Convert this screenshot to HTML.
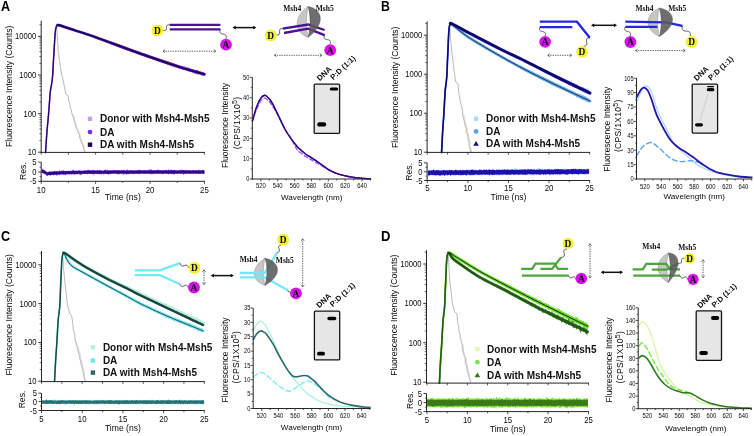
<!DOCTYPE html>
<html><head><meta charset="utf-8"><style>
html,body{margin:0;padding:0;background:#fff;}
svg{display:block;}
svg{will-change:transform;}
</style></head><body>
<svg width="754" height="436" viewBox="0 0 754 436">
<defs><filter id="bl" x="-30%" y="-60%" width="160%" height="220%"><feGaussianBlur stdDeviation="0.45"/></filter></defs>
<rect width="754" height="436" fill="#fff"/>
<text x="0.9" y="10.6" font-size="14" font-weight="bold" text-anchor="start" font-family="'Liberation Sans', sans-serif" fill="#000" textLength="9.1" lengthAdjust="spacingAndGlyphs">A</text>
<polyline points="56.6,25.59 56.75,28.14 56.9,30.69 57.06,33.23 57.21,35.78 57.36,38.33 57.54,40.88 57.71,43.43 57.88,45.97 58.06,48.52 58.23,51.07 58.54,53.38 58.86,55.7 59.17,58.02 59.48,60.33 59.8,62.65 60.11,64.96 60.42,67.28 60.73,69.6 61.24,71.91 61.75,74.23 62.26,76.54 62.77,78.86 63.27,81.18 63.78,83.49 64.3,86.19 64.81,88.9 65.33,91.6 65.85,94.3 68.13,95.84 68.44,98.16 68.74,100.48 69.66,102.79 69.98,105.11 70.21,107.42 71.25,109.74 71.71,112.06 72.05,114.37 73.07,116.69 73.68,119 74.05,121.32 75.18,123.64 75.63,125.95 76.43,128.27 77.51,130.58 78.36,132.9 79.42,135.22 79.54,137.53 80.4,139.85 81.41,142.16 82.28,144.48 83.33,146.8 83.76,149.11 84.45,151.43 85.11,152.59" fill="none" stroke="#aaaaaa" stroke-width="0.85" stroke-linejoin="round" stroke-linecap="round"/>
<polyline points="72.89,114.37 74.26,116.69 74.31,119 75.16,121.32 75.96,123.64 76.32,125.95 77.1,128.27 78.3,130.58 79.45,132.9 80.12,135.22 80.49,137.53 81.38,139.85 82.23,142.16 83.21,144.48 83.97,146.8 84.4,149.11 85.18,151.43 86.11,152.59" fill="none" stroke="#c4c4c4" stroke-width="0.7" stroke-linejoin="round" stroke-linecap="round"/>
<path d="M45.5,152.6 C45.75,149 46.5,137.28 47,131.02 C47.5,124.75 47.95,121.5 48.5,115 C49.05,108.5 49.78,97.16 50.3,91.99 C50.82,86.83 51.22,86.67 51.61,84 C51.99,81.34 52.28,80.01 52.6,76.01 C52.91,72.01 53.2,65.16 53.5,59.99 C53.8,54.83 54.12,49.51 54.4,45.02 C54.68,40.52 54.9,36.02 55.2,33.01 C55.49,30.01 55.8,28.31 56.2,26.99 C56.6,25.67 57.05,25.38 57.6,25.1 C58.15,24.82 59.18,25.27 59.5,25.3" fill="none" stroke="#c4a4f2" stroke-width="1.68" stroke-linejoin="round" stroke-linecap="round"/>
<polygon points="110,41.01 110.7,41.26 111.4,41.52 112.1,41.78 112.8,42.03 113.5,42.28 114.2,42.54 114.9,42.8 115.6,43.06 116.3,43.32 117,43.56 117.7,43.79 118.4,44.08 119.1,44.32 119.8,44.55 120.5,44.83 121.2,45.11 121.9,45.36 122.6,45.55 123.3,45.88 124,46.15 124.7,46.38 125.4,46.65 126.1,46.92 126.8,47.18 127.5,47.42 128.2,47.61 128.9,47.85 129.6,48.17 130.3,48.4 131,48.57 131.7,48.95 132.4,49.23 133.1,49.37 133.8,49.75 134.5,49.92 135.2,50.03 135.9,50.48 136.6,50.66 137.3,50.81 138,51.23 138.7,51.48 139.4,51.71 140.1,51.96 140.8,52.15 141.5,52.41 142.2,52.71 142.9,52.92 143.6,53.17 144.3,53.29 145,53.61 145.7,53.83 146.4,53.93 147.1,54.21 147.8,54.57 148.5,54.75 149.2,55.09 149.9,55.34 150.6,55.38 151.3,55.7 152,55.85 152.7,55.94 153.4,56.51 154.1,56.72 154.8,57 155.5,57.24 156.2,57.45 156.9,57.34 157.6,57.86 158.3,58.23 159,58.27 159.7,58.66 160.4,58.93 161.1,58.99 161.8,58.9 162.5,59.07 163.2,59.8 163.9,60.14 164.6,60.3 165.3,60.23 166,60.49 166.7,61.09 167.4,61.04 168.1,61.51 168.8,61.66 169.5,62.02 170.2,62.08 170.9,62.32 171.6,62.35 172.3,62.97 173,62.89 173.7,63.46 174.4,63.35 175.1,63.84 175.8,64.08 176.5,63.61 177.2,64.48 177.9,64.63 178.6,64.75 179.3,65.33 180,65.53 180.7,65.57 181.4,65.85 182.1,65.94 182.8,65.96 183.5,66.32 184.2,66.46 184.9,66.6 185.6,66.84 186.3,67.45 187,67.59 187.7,67.25 188.4,67.75 189.1,67.77 189.8,68.45 190.5,68.41 191.2,68.78 191.9,68.57 192.6,69.26 193.3,68.97 194,69.21 194.7,69.77 195.4,69.65 196.1,69.7 196.8,69.79 197.5,70.73 198.2,70.14 198.9,71.02 199.6,71.21 200.3,71.58 201,71.39 201.7,71.78 202.4,72.06 203.1,71.78 203.8,72.28 203.8,75.69 203.1,76.21 202.4,75.91 201.7,75.17 201,75.53 200.3,74.77 199.6,74.45 198.9,74.36 198.2,74.28 197.5,74.35 196.8,74.31 196.1,73.6 195.4,73.25 194.7,73.39 194,72.75 193.3,72.73 192.6,73.26 191.9,72.14 191.2,72.61 190.5,71.81 189.8,71.68 189.1,71.35 188.4,71.2 187.7,70.98 187,70.9 186.3,70.49 185.6,70.3 184.9,70.14 184.2,70.06 183.5,69.85 182.8,69.55 182.1,69.4 181.4,69.11 180.7,68.95 180,68.85 179.3,68.65 178.6,68.65 177.9,68.11 177.2,68.05 176.5,67.56 175.8,67.29 175.1,67.25 174.4,67.55 173.7,66.69 173,66.82 172.3,66.18 171.6,65.96 170.9,65.74 170.2,66.06 169.5,65.33 168.8,64.87 168.1,65.06 167.4,64.87 166.7,64.23 166,63.93 165.3,63.94 164.6,63.75 163.9,63.33 163.2,63.05 162.5,62.73 161.8,62.63 161.1,62.76 160.4,62.14 159.7,61.73 159,61.5 158.3,61.4 157.6,61.38 156.9,60.8 156.2,60.9 155.5,60.46 154.8,60.29 154.1,59.89 153.4,59.7 152.7,59.37 152,59.12 151.3,59.02 150.6,58.66 149.9,58.39 149.2,58.44 148.5,57.97 147.8,57.64 147.1,57.4 146.4,57.37 145.7,57.04 145,56.77 144.3,56.58 143.6,56.22 142.9,56.01 142.2,55.72 141.5,55.58 140.8,55.27 140.1,55.03 139.4,54.79 138.7,54.63 138,54.51 137.3,54.11 136.6,53.89 135.9,53.64 135.2,53.37 134.5,53.05 133.8,52.76 133.1,52.51 132.4,52.3 131.7,52.02 131,51.86 130.3,51.5 129.6,51.25 128.9,51.04 128.2,50.72 127.5,50.46 126.8,50.24 126.1,49.95 125.4,49.68 124.7,49.42 124,49.16 123.3,48.94 122.6,48.64 121.9,48.44 121.2,48.13 120.5,47.88 119.8,47.62 119.1,47.37 118.4,47.13 117.7,46.86 117,46.61 116.3,46.32 115.6,46.07 114.9,45.82 114.2,45.58 113.5,45.3 112.8,45.04 112.1,44.78 111.4,44.53 110.7,44.26 110,44.01" fill="#c4a4f2"/>
<path d="M57.6,25.1 C57.92,25.13 57.43,24.68 59.5,25.3 C61.57,25.92 63.9,26.78 70,28.8 C76.1,30.82 84.9,33.45 96.1,37.4 C107.3,41.35 123.5,47.63 137.2,52.5 C150.9,57.37 167.1,62.97 178.3,66.6 C189.5,70.23 200.05,73.02 204.4,74.3" fill="none" stroke="#c4a4f2" stroke-width="3" stroke-linejoin="round" stroke-linecap="round"/>
<path d="M45.5,152.6 C45.75,149 46.5,137.28 47,131.02 C47.5,124.75 47.95,121.5 48.5,115 C49.05,108.5 49.78,97.16 50.3,91.99 C50.82,86.83 51.22,86.67 51.61,84 C51.99,81.34 52.28,80.01 52.6,76.01 C52.91,72.01 53.2,65.16 53.5,59.99 C53.8,54.83 54.12,49.51 54.4,45.02 C54.68,40.52 54.9,36.02 55.2,33.01 C55.49,30.01 55.8,28.31 56.2,26.99 C56.6,25.67 57.05,25.38 57.6,25.1 C58.15,24.82 59.18,25.27 59.5,25.3" fill="none" stroke="#7a28ec" stroke-width="1.44" stroke-linejoin="round" stroke-linecap="round"/>
<polygon points="110,41.21 110.7,41.46 111.4,41.72 112.1,41.97 112.8,42.23 113.5,42.49 114.2,42.74 114.9,43 115.6,43.25 116.3,43.52 117,43.74 117.7,44.03 118.4,44.29 119.1,44.55 119.8,44.79 120.5,45.01 121.2,45.32 121.9,45.54 122.6,45.83 123.3,46.03 124,46.33 124.7,46.54 125.4,46.86 126.1,47.11 126.8,47.34 127.5,47.6 128.2,47.85 128.9,48.1 129.6,48.41 130.3,48.65 131,48.9 131.7,49.14 132.4,49.41 133.1,49.66 133.8,49.89 134.5,50.06 135.2,50.41 135.9,50.5 136.6,50.84 137.3,51.13 138,51.42 138.7,51.55 139.4,51.85 140.1,52.11 140.8,52.36 141.5,52.65 142.2,52.88 142.9,53.15 143.6,53.37 144.3,53.49 145,53.82 145.7,54.11 146.4,54.27 147.1,54.49 147.8,54.45 148.5,54.97 149.2,55.19 149.9,55.55 150.6,55.66 151.3,55.93 152,56.26 152.7,56.51 153.4,56.72 154.1,56.85 154.8,57.21 155.5,57.17 156.2,57.55 156.9,57.82 157.6,57.94 158.3,58.25 159,58.64 159.7,58.69 160.4,58.92 161.1,59.35 161.8,59.38 162.5,59.67 163.2,59.98 163.9,60.09 164.6,60.54 165.3,60.72 166,61.01 166.7,61.16 167.4,61.32 168.1,61.68 168.8,61.59 169.5,62.28 170.2,62.15 170.9,62.36 171.6,63 172.3,63.2 173,63.36 173.7,63.4 174.4,63.72 175.1,64 175.8,64.13 176.5,64.53 177.2,64.91 177.9,65.03 178.6,65.28 179.3,65.54 180,65.63 180.7,65.91 181.4,65.86 182.1,65.91 182.8,66.34 183.5,66.78 184.2,66.44 184.9,66.88 185.6,67.43 186.3,67.43 187,67.7 187.7,67.2 188.4,67.83 189.1,67.73 189.8,68.62 190.5,68.56 191.2,69.07 191.9,68.9 192.6,69.45 193.3,69.54 194,69.92 194.7,70.13 195.4,69.68 196.1,70.35 196.8,70.66 197.5,69.79 198.2,70.84 198.9,71.08 199.6,71.4 200.3,71.61 201,71.7 201.7,72.15 202.4,72.25 203.1,71.73 203.8,72.58 203.8,76.01 203.1,75.47 202.4,75.4 201.7,75.32 201,74.73 200.3,74.69 199.6,74.24 198.9,74.12 198.2,73.98 197.5,74.5 196.8,73.74 196.1,74 195.4,73.57 194.7,73.49 194,72.55 193.3,72.61 192.6,72.32 191.9,71.93 191.2,71.71 190.5,71.76 189.8,71.55 189.1,71.13 188.4,71.37 187.7,70.81 187,70.56 186.3,70.34 185.6,70.29 184.9,69.92 184.2,69.8 183.5,69.46 182.8,70.09 182.1,69.49 181.4,68.89 180.7,68.98 180,68.84 179.3,68.66 178.6,68 177.9,68.13 177.2,68.02 176.5,67.36 175.8,67.32 175.1,67.25 174.4,66.78 173.7,66.37 173,66.52 172.3,66.28 171.6,65.71 170.9,65.54 170.2,65.21 169.5,65.19 168.8,64.65 168.1,64.66 167.4,64.41 166.7,64.19 166,63.77 165.3,63.46 164.6,63.36 163.9,63.18 163.2,62.99 162.5,62.83 161.8,62.28 161.1,62.11 160.4,62.01 159.7,61.9 159,61.33 158.3,61.3 157.6,61.31 156.9,60.69 156.2,60.57 155.5,60.14 154.8,60.08 154.1,59.62 153.4,59.39 152.7,59.19 152,58.88 151.3,58.64 150.6,58.52 149.9,58.16 149.2,57.95 148.5,57.71 147.8,57.53 147.1,57.23 146.4,56.98 145.7,56.83 145,56.57 144.3,56.46 143.6,56.04 142.9,55.85 142.2,55.55 141.5,55.31 140.8,55.13 140.1,54.95 139.4,54.57 138.7,54.32 138,54.16 137.3,53.88 136.6,53.69 135.9,53.36 135.2,53.08 134.5,52.82 133.8,52.56 133.1,52.36 132.4,52.13 131.7,51.9 131,51.58 130.3,51.28 129.6,51.04 128.9,50.81 128.2,50.52 127.5,50.3 126.8,50.03 126.1,49.74 125.4,49.48 124.7,49.23 124,48.96 123.3,48.72 122.6,48.45 121.9,48.2 121.2,47.94 120.5,47.7 119.8,47.43 119.1,47.17 118.4,46.9 117.7,46.64 117,46.38 116.3,46.12 115.6,45.88 114.9,45.61 114.2,45.35 113.5,45.11 112.8,44.84 112.1,44.58 111.4,44.32 110.7,44.06 110,43.81" fill="#7a28ec"/>
<path d="M57.6,25.1 C57.92,25.13 57.43,24.68 59.5,25.3 C61.57,25.92 63.9,26.78 70,28.8 C76.1,30.82 84.9,33.45 96.1,37.4 C107.3,41.35 123.5,47.63 137.2,52.5 C150.9,57.37 167.1,62.97 178.3,66.6 C189.5,70.23 200.05,73.02 204.4,74.3" fill="none" stroke="#7a28ec" stroke-width="2.6" stroke-linejoin="round" stroke-linecap="round"/>
<path d="M45.5,152.6 C45.75,149 46.5,137.28 47,131.02 C47.5,124.75 47.95,121.5 48.5,115 C49.05,108.5 49.78,97.16 50.3,91.99 C50.82,86.83 51.22,86.67 51.61,84 C51.99,81.34 52.28,80.01 52.6,76.01 C52.91,72.01 53.2,65.16 53.5,59.99 C53.8,54.83 54.12,49.51 54.4,45.02 C54.68,40.52 54.9,36.02 55.2,33.01 C55.49,30.01 55.8,28.31 56.2,26.99 C56.6,25.67 57.05,25.38 57.6,25.1 C58.15,24.82 59.18,25.27 59.5,25.3" fill="none" stroke="#1e0652" stroke-width="1.12" stroke-linejoin="round" stroke-linecap="round" stroke-dasharray="1.2,1.0"/>
<path d="M57.6,25.1 C57.92,25.13 57.43,24.68 59.5,25.3 C61.57,25.92 63.9,26.78 70,28.8 C76.1,30.82 84.9,33.45 96.1,37.4 C107.3,41.35 123.5,47.63 137.2,52.5 C150.9,57.37 167.1,62.97 178.3,66.6 C189.5,70.23 200.05,73.02 204.4,74.3" fill="none" stroke="#1e0652" stroke-width="2" stroke-linejoin="round" stroke-linecap="round"/>
<line x1="41.2" y1="20.8" x2="41.2" y2="152.9" stroke="#262626" stroke-width="1"/>
<line x1="40.7" y1="152.4" x2="204.9" y2="152.4" stroke="#262626" stroke-width="1"/>
<line x1="38" y1="152.2" x2="41.2" y2="152.2" stroke="#262626" stroke-width="0.9"/>
<text x="36.3" y="155.2" font-size="8.4" text-anchor="end" font-family="'Liberation Sans', sans-serif" fill="#0a0a0a" textLength="8.5" lengthAdjust="spacingAndGlyphs">10</text>
<line x1="39.4" y1="140.58" x2="41.2" y2="140.58" stroke="#262626" stroke-width="0.7"/>
<line x1="39.4" y1="133.78" x2="41.2" y2="133.78" stroke="#262626" stroke-width="0.7"/>
<line x1="39.4" y1="128.96" x2="41.2" y2="128.96" stroke="#262626" stroke-width="0.7"/>
<line x1="39.4" y1="125.22" x2="41.2" y2="125.22" stroke="#262626" stroke-width="0.7"/>
<line x1="39.4" y1="122.16" x2="41.2" y2="122.16" stroke="#262626" stroke-width="0.7"/>
<line x1="39.4" y1="119.58" x2="41.2" y2="119.58" stroke="#262626" stroke-width="0.7"/>
<line x1="39.4" y1="117.34" x2="41.2" y2="117.34" stroke="#262626" stroke-width="0.7"/>
<line x1="39.4" y1="115.37" x2="41.2" y2="115.37" stroke="#262626" stroke-width="0.7"/>
<line x1="38" y1="113.6" x2="41.2" y2="113.6" stroke="#262626" stroke-width="0.9"/>
<text x="36.3" y="116.6" font-size="8.4" text-anchor="end" font-family="'Liberation Sans', sans-serif" fill="#0a0a0a" textLength="12.75" lengthAdjust="spacingAndGlyphs">100</text>
<line x1="39.4" y1="101.98" x2="41.2" y2="101.98" stroke="#262626" stroke-width="0.7"/>
<line x1="39.4" y1="95.18" x2="41.2" y2="95.18" stroke="#262626" stroke-width="0.7"/>
<line x1="39.4" y1="90.36" x2="41.2" y2="90.36" stroke="#262626" stroke-width="0.7"/>
<line x1="39.4" y1="86.62" x2="41.2" y2="86.62" stroke="#262626" stroke-width="0.7"/>
<line x1="39.4" y1="83.56" x2="41.2" y2="83.56" stroke="#262626" stroke-width="0.7"/>
<line x1="39.4" y1="80.98" x2="41.2" y2="80.98" stroke="#262626" stroke-width="0.7"/>
<line x1="39.4" y1="78.74" x2="41.2" y2="78.74" stroke="#262626" stroke-width="0.7"/>
<line x1="39.4" y1="76.77" x2="41.2" y2="76.77" stroke="#262626" stroke-width="0.7"/>
<line x1="38" y1="75" x2="41.2" y2="75" stroke="#262626" stroke-width="0.9"/>
<text x="36.3" y="78" font-size="8.4" text-anchor="end" font-family="'Liberation Sans', sans-serif" fill="#0a0a0a" textLength="17" lengthAdjust="spacingAndGlyphs">1000</text>
<line x1="39.4" y1="63.38" x2="41.2" y2="63.38" stroke="#262626" stroke-width="0.7"/>
<line x1="39.4" y1="56.58" x2="41.2" y2="56.58" stroke="#262626" stroke-width="0.7"/>
<line x1="39.4" y1="51.76" x2="41.2" y2="51.76" stroke="#262626" stroke-width="0.7"/>
<line x1="39.4" y1="48.02" x2="41.2" y2="48.02" stroke="#262626" stroke-width="0.7"/>
<line x1="39.4" y1="44.96" x2="41.2" y2="44.96" stroke="#262626" stroke-width="0.7"/>
<line x1="39.4" y1="42.38" x2="41.2" y2="42.38" stroke="#262626" stroke-width="0.7"/>
<line x1="39.4" y1="40.14" x2="41.2" y2="40.14" stroke="#262626" stroke-width="0.7"/>
<line x1="39.4" y1="38.17" x2="41.2" y2="38.17" stroke="#262626" stroke-width="0.7"/>
<line x1="38" y1="36.4" x2="41.2" y2="36.4" stroke="#262626" stroke-width="0.9"/>
<text x="36.3" y="39.4" font-size="8.4" text-anchor="end" font-family="'Liberation Sans', sans-serif" fill="#0a0a0a" textLength="21.25" lengthAdjust="spacingAndGlyphs">10000</text>
<line x1="39.4" y1="24.78" x2="41.2" y2="24.78" stroke="#262626" stroke-width="0.7"/>
<line x1="41.2" y1="152.4" x2="41.2" y2="154.6" stroke="#262626" stroke-width="0.8"/>
<line x1="68.4" y1="152.4" x2="68.4" y2="154.6" stroke="#262626" stroke-width="0.8"/>
<line x1="95.6" y1="152.4" x2="95.6" y2="154.6" stroke="#262626" stroke-width="0.8"/>
<line x1="122.8" y1="152.4" x2="122.8" y2="154.6" stroke="#262626" stroke-width="0.8"/>
<line x1="150" y1="152.4" x2="150" y2="154.6" stroke="#262626" stroke-width="0.8"/>
<line x1="177.2" y1="152.4" x2="177.2" y2="154.6" stroke="#262626" stroke-width="0.8"/>
<line x1="204.4" y1="152.4" x2="204.4" y2="154.6" stroke="#262626" stroke-width="0.8"/>
<line x1="41.2" y1="162.2" x2="41.2" y2="181.8" stroke="#262626" stroke-width="1"/>
<line x1="40.7" y1="181.3" x2="204.9" y2="181.3" stroke="#262626" stroke-width="1"/>
<line x1="38.2" y1="162.2" x2="41.2" y2="162.2" stroke="#262626" stroke-width="0.9"/>
<text x="36.6" y="165.2" font-size="8.4" text-anchor="end" font-family="'Liberation Sans', sans-serif" fill="#0a0a0a" textLength="4.25" lengthAdjust="spacingAndGlyphs">5</text>
<line x1="38.2" y1="172" x2="41.2" y2="172" stroke="#262626" stroke-width="0.9"/>
<text x="36.6" y="175" font-size="8.4" text-anchor="end" font-family="'Liberation Sans', sans-serif" fill="#0a0a0a" textLength="4.25" lengthAdjust="spacingAndGlyphs">0</text>
<line x1="38.2" y1="181.3" x2="41.2" y2="181.3" stroke="#262626" stroke-width="0.9"/>
<text x="36.6" y="184.3" font-size="8.4" text-anchor="end" font-family="'Liberation Sans', sans-serif" fill="#0a0a0a" textLength="6.8" lengthAdjust="spacingAndGlyphs">-5</text>
<line x1="39.6" y1="167.1" x2="41.2" y2="167.1" stroke="#262626" stroke-width="0.7"/>
<line x1="39.6" y1="176.65" x2="41.2" y2="176.65" stroke="#262626" stroke-width="0.7"/>
<line x1="41.2" y1="181.3" x2="41.2" y2="183.9" stroke="#262626" stroke-width="0.8"/>
<text x="41.2" y="192.6" font-size="8.3" text-anchor="middle" font-family="'Liberation Sans', sans-serif" fill="#0a0a0a" textLength="8.68" lengthAdjust="spacingAndGlyphs">10</text>
<line x1="68.4" y1="181.3" x2="68.4" y2="182.9" stroke="#262626" stroke-width="0.8"/>
<line x1="95.6" y1="181.3" x2="95.6" y2="183.9" stroke="#262626" stroke-width="0.8"/>
<text x="95.6" y="192.6" font-size="8.3" text-anchor="middle" font-family="'Liberation Sans', sans-serif" fill="#0a0a0a" textLength="8.68" lengthAdjust="spacingAndGlyphs">15</text>
<line x1="122.8" y1="181.3" x2="122.8" y2="182.9" stroke="#262626" stroke-width="0.8"/>
<line x1="150" y1="181.3" x2="150" y2="183.9" stroke="#262626" stroke-width="0.8"/>
<text x="150" y="192.6" font-size="8.3" text-anchor="middle" font-family="'Liberation Sans', sans-serif" fill="#0a0a0a" textLength="8.68" lengthAdjust="spacingAndGlyphs">20</text>
<line x1="177.2" y1="181.3" x2="177.2" y2="182.9" stroke="#262626" stroke-width="0.8"/>
<line x1="204.4" y1="181.3" x2="204.4" y2="183.9" stroke="#262626" stroke-width="0.8"/>
<text x="204.4" y="192.6" font-size="8.3" text-anchor="middle" font-family="'Liberation Sans', sans-serif" fill="#0a0a0a" textLength="8.68" lengthAdjust="spacingAndGlyphs">25</text>
<polygon points="41.8,168.28 42.4,168.89 43,169.17 43.6,169.44 44.2,170.4 44.8,169.69 45.4,170.83 46,171.32 46.6,171.79 47.2,172.13 47.8,171.9 48.4,171.81 49,171.83 49.6,171.42 50.2,171.72 50.8,171.27 51.4,171.63 52,171.38 52.6,171.44 53.2,171.73 53.8,170.98 54.4,171.18 55,171.1 55.6,171.53 56.2,171.34 56.8,171.08 57.4,170.73 58,171.42 58.6,171.49 59.2,170.07 59.8,170.74 60.4,171.27 61,171.07 61.6,170.58 62.2,170.75 62.8,170.32 63.4,170.32 64,171.28 64.6,170.85 65.2,170.65 65.8,171.07 66.4,171.14 67,171.03 67.6,171.08 68.2,170.4 68.8,171.03 69.4,171.11 70,171.01 70.6,170.43 71.2,170.56 71.8,170.93 72.4,170.54 73,169.57 73.6,170.26 74.2,170.58 74.8,170.97 75.4,170.84 76,170.28 76.6,170.68 77.2,170.91 77.8,170.56 78.4,170.4 79,170.12 79.6,170.57 80.2,170.86 80.8,170.45 81.4,170.47 82,170.83 82.6,170.84 83.2,170.19 83.8,170.69 84.4,170.08 85,170.52 85.6,170.51 86.2,170.5 86.8,170.62 87.4,169.81 88,170.08 88.6,169.41 89.2,170.61 89.8,169.87 90.4,169.91 91,170.36 91.6,170.59 92.2,170.28 92.8,169.87 93.4,169.65 94,170.6 94.6,170.26 95.2,170.57 95.8,170.17 96.4,170.39 97,169.89 97.6,170.12 98.2,170.34 98.8,170.57 99.4,169.47 100,170.67 100.6,170.27 101.2,170.5 101.8,170.36 102.4,170.59 103,170.69 103.6,170.65 104.2,169.73 104.8,170.26 105.4,169.2 106,170.12 106.6,170.68 107.2,169.3 107.8,170.23 108.4,170.59 109,170.55 109.6,170.42 110.2,169.99 110.8,170.32 111.4,170.66 112,170.52 112.6,170.16 113.2,169.42 113.8,170.19 114.4,170.42 115,169.71 115.6,170.24 116.2,169.93 116.8,170.19 117.4,170.14 118,169.81 118.6,170.43 119.2,169.96 119.8,170.5 120.4,170.63 121,170.05 121.6,170.36 122.2,169.92 122.8,170.51 123.4,169.58 124,170.09 124.6,170.15 125.2,170.48 125.8,170.55 126.4,170.03 127,169.43 127.6,169.79 128.2,170.19 128.8,170.38 129.4,169.99 130,170.32 130.6,170.4 131.2,170.49 131.8,169.92 132.4,170.6 133,170.2 133.6,170.42 134.2,170.31 134.8,170.41 135.4,170.14 136,169.8 136.6,170.32 137.2,170.41 137.8,170.51 138.4,170.12 139,170.1 139.6,169.58 140.2,170.04 140.8,170.3 141.4,170.6 142,170.1 142.6,170.35 143.2,170.12 143.8,170.56 144.4,169.8 145,170.39 145.6,170.2 146.2,170.27 146.8,170.46 147.4,170.35 148,169.53 148.6,170.22 149.2,169.6 149.8,169.93 150.4,169.32 151,169.62 151.6,169.79 152.2,170.05 152.8,170.5 153.4,169.97 154,170.44 154.6,170.02 155.2,170.38 155.8,170.59 156.4,170.47 157,169.67 157.6,169.49 158.2,170.01 158.8,169.8 159.4,170.39 160,170.06 160.6,170.25 161.2,170.48 161.8,170.09 162.4,170.51 163,170.48 163.6,170.31 164.2,170.36 164.8,170.37 165.4,169.93 166,169.78 166.6,169.76 167.2,170.48 167.8,169.93 168.4,169.54 169,169.83 169.6,169.63 170.2,170.45 170.8,169.91 171.4,169.32 172,170.07 172.6,170.4 173.2,170.01 173.8,169.91 174.4,170.43 175,170.16 175.6,170.24 176.2,170.54 176.8,170.53 177.4,170.46 178,169.77 178.6,170.31 179.2,170.54 179.8,169.76 180.4,169.83 181,169.86 181.6,170.39 182.2,169.76 182.8,169.76 183.4,170.43 184,170.1 184.6,170.54 185.2,170.16 185.8,169.54 186.4,170.58 187,169.81 187.6,170.33 188.2,170.44 188.8,170.11 189.4,169.95 190,170.35 190.6,170.48 191.2,170.56 191.8,170.43 192.4,170.33 193,169.91 193.6,170.36 194.2,170.28 194.8,170.19 195.4,170.44 196,169.82 196.6,170.48 197.2,170.59 197.8,170.13 198.4,170.09 199,169.28 199.6,170.55 200.2,170.45 200.8,170 201.4,170.58 202,170.58 202.6,169.25 203.2,170.35 203.8,170.05 204.4,169.91 204.4,174.25 203.8,173.85 203.2,173.71 202.6,173.85 202,173.49 201.4,173.61 200.8,173.52 200.2,173.5 199.6,173.85 199,173.89 198.4,174.1 197.8,174.01 197.2,173.49 196.6,174 196,174.33 195.4,173.62 194.8,173.57 194.2,173.45 193.6,174.21 193,173.8 192.4,173.74 191.8,173.63 191.2,173.41 190.6,174.27 190,173.6 189.4,173.7 188.8,174.07 188.2,173.4 187.6,173.85 187,173.48 186.4,174.26 185.8,173.73 185.2,174.29 184.6,174.05 184,173.67 183.4,175.22 182.8,174.06 182.2,173.44 181.6,173.59 181,173.67 180.4,174.34 179.8,173.57 179.2,173.69 178.6,173.63 178,173.75 177.4,173.73 176.8,173.55 176.2,174.11 175.6,173.6 175,173.96 174.4,174.49 173.8,174.48 173.2,174.22 172.6,173.5 172,174.31 171.4,173.76 170.8,173.48 170.2,173.76 169.6,173.43 169,174.3 168.4,174.43 167.8,173.64 167.2,174.11 166.6,173.89 166,173.62 165.4,173.66 164.8,173.52 164.2,173.6 163.6,174.02 163,174.06 162.4,174.42 161.8,173.88 161.2,173.45 160.6,173.95 160,173.72 159.4,173.99 158.8,173.67 158.2,173.95 157.6,173.68 157,173.79 156.4,173.51 155.8,174.37 155.2,173.61 154.6,173.83 154,173.79 153.4,174.34 152.8,174.01 152.2,174.3 151.6,174.18 151,174.25 150.4,173.86 149.8,173.51 149.2,174.44 148.6,173.49 148,173.47 147.4,173.54 146.8,174.12 146.2,173.42 145.6,173.81 145,173.55 144.4,173.69 143.8,173.5 143.2,173.86 142.6,173.97 142,173.78 141.4,173.48 140.8,174.33 140.2,173.43 139.6,174.02 139,173.65 138.4,173.57 137.8,173.92 137.2,174 136.6,173.61 136,173.68 135.4,173.78 134.8,173.48 134.2,174.44 133.6,173.9 133,174.22 132.4,173.51 131.8,173.93 131.2,173.86 130.6,173.67 130,173.71 129.4,173.92 128.8,174.85 128.2,173.57 127.6,174.29 127,174.12 126.4,174.93 125.8,173.72 125.2,173.52 124.6,174.48 124,173.84 123.4,174.95 122.8,174.52 122.2,173.47 121.6,173.97 121,173.96 120.4,173.79 119.8,173.87 119.2,174.15 118.6,174.19 118,174.24 117.4,174.17 116.8,174.33 116.2,173.87 115.6,173.6 115,173.46 114.4,173.59 113.8,173.49 113.2,173.61 112.6,173.63 112,173.52 111.4,173.92 110.8,173.66 110.2,174.27 109.6,173.93 109,174.28 108.4,174.59 107.8,174.46 107.2,173.54 106.6,174.12 106,173.65 105.4,173.72 104.8,173.56 104.2,174.56 103.6,174.83 103,173.55 102.4,174.01 101.8,173.82 101.2,175 100.6,173.83 100,174.51 99.4,174.03 98.8,173.56 98.2,174.47 97.6,173.64 97,174.49 96.4,173.73 95.8,173.64 95.2,173.62 94.6,174.55 94,174.1 93.4,174.64 92.8,174.76 92.2,173.58 91.6,173.89 91,173.98 90.4,173.76 89.8,173.98 89.2,173.93 88.6,173.62 88,174.26 87.4,174.41 86.8,173.69 86.2,173.68 85.6,173.89 85,173.75 84.4,174.09 83.8,174.05 83.2,173.87 82.6,174.17 82,174.1 81.4,174.72 80.8,175.22 80.2,174.41 79.6,174.73 79,174.16 78.4,173.85 77.8,173.94 77.2,174.64 76.6,174.32 76,173.87 75.4,174.28 74.8,175.32 74.2,173.88 73.6,174.8 73,174.21 72.4,173.88 71.8,174.67 71.2,174.17 70.6,174.2 70,174.18 69.4,174.78 68.8,174.23 68.2,174.37 67.6,174.4 67,174.04 66.4,174.67 65.8,174.88 65.2,175.35 64.6,174.67 64,174.37 63.4,175.37 62.8,174.62 62.2,174.15 61.6,174.3 61,175.43 60.4,174.24 59.8,175.24 59.2,174.77 58.6,174.9 58,174.79 57.4,175.22 56.8,174.88 56.2,175.96 55.6,174.62 55,174.56 54.4,174.83 53.8,175.19 53.2,175.35 52.6,174.85 52,174.94 51.4,174.99 50.8,174.74 50.2,176.05 49.6,175.2 49,175.2 48.4,175.12 47.8,175.66 47.2,175.86 46.6,176.34 46,174.82 45.4,174.59 44.8,174.22 44.2,173.89 43.6,173.5 43,173.2 42.4,172.89 41.8,173.04" fill="#7a28ec"/>
<polygon points="41.8,169.66 42.4,170.07 43,169.93 43.6,170.69 44.2,170.68 44.8,170.74 45.4,171.36 46,171.7 46.6,171.89 47.2,172.48 47.8,172.13 48.4,172.35 49,171.78 49.6,172.03 50.2,171.69 50.8,172.07 51.4,171.91 52,172.1 52.6,171.56 53.2,171.74 53.8,171.92 54.4,171.59 55,171.79 55.6,171.55 56.2,171.62 56.8,171.65 57.4,171.78 58,171.74 58.6,171.69 59.2,171.6 59.8,171.58 60.4,171.43 61,171.64 61.6,171.15 62.2,171.29 62.8,171.62 63.4,171.32 64,171.32 64.6,171.46 65.2,171.02 65.8,171.37 66.4,171.46 67,170.83 67.6,171.28 68.2,171.23 68.8,171.4 69.4,170.94 70,171.32 70.6,171.33 71.2,171.37 71.8,171.29 72.4,170.96 73,170.65 73.6,171.26 74.2,170.99 74.8,171.25 75.4,171.16 76,171.13 76.6,170.72 77.2,171.24 77.8,171.07 78.4,171.2 79,170.82 79.6,171.15 80.2,170.88 80.8,171.06 81.4,170.92 82,171.06 82.6,171 83.2,171.07 83.8,171.03 84.4,171.03 85,170.92 85.6,170.55 86.2,170.5 86.8,170.88 87.4,171.05 88,170.76 88.6,170.91 89.2,170.68 89.8,171.07 90.4,170.89 91,170.98 91.6,170.79 92.2,171.06 92.8,170.5 93.4,170.9 94,170.35 94.6,171.03 95.2,170.87 95.8,170.93 96.4,170.89 97,170.83 97.6,170.86 98.2,170.67 98.8,171 99.4,170.86 100,170.26 100.6,170.85 101.2,170.79 101.8,170.9 102.4,170.91 103,170.65 103.6,170.86 104.2,170.5 104.8,170.8 105.4,170.7 106,170.94 106.6,170.57 107.2,170.98 107.8,170.9 108.4,170.53 109,170.76 109.6,170.76 110.2,170.68 110.8,170.86 111.4,170.43 112,170.85 112.6,170.96 113.2,170.49 113.8,170.51 114.4,170.75 115,170.61 115.6,170.64 116.2,170.85 116.8,170.75 117.4,170.78 118,170.79 118.6,170.55 119.2,170.86 119.8,170.52 120.4,170.58 121,170.71 121.6,170.8 122.2,170.92 122.8,170.61 123.4,170.67 124,170.89 124.6,170.61 125.2,170.83 125.8,170.91 126.4,170.89 127,170.69 127.6,170.82 128.2,170.88 128.8,170.82 129.4,170.66 130,170.69 130.6,170.61 131.2,170.51 131.8,170.76 132.4,170.8 133,170.45 133.6,170.5 134.2,170.88 134.8,170.91 135.4,170.91 136,170.87 136.6,170.91 137.2,170.55 137.8,170.58 138.4,170.39 139,170.84 139.6,170.56 140.2,170.87 140.8,170.67 141.4,170.86 142,170.43 142.6,170.91 143.2,170.75 143.8,170.86 144.4,170.48 145,170.86 145.6,170.54 146.2,170.81 146.8,170.43 147.4,170.79 148,170.76 148.6,170.89 149.2,170.58 149.8,170.89 150.4,170.65 151,170.54 151.6,170.66 152.2,170.47 152.8,170.88 153.4,170.7 154,170.43 154.6,170.72 155.2,170.13 155.8,170.46 156.4,170.85 157,170.5 157.6,170.62 158.2,170.49 158.8,170.16 159.4,170.36 160,170.68 160.6,170.69 161.2,170.48 161.8,170.87 162.4,170.57 163,170.29 163.6,170.73 164.2,170.56 164.8,170.85 165.4,170.4 166,170.82 166.6,170.78 167.2,170.48 167.8,170.88 168.4,170.78 169,170.8 169.6,170.89 170.2,170.61 170.8,170.51 171.4,170.72 172,170.53 172.6,170.53 173.2,170.47 173.8,170.78 174.4,170.33 175,170.72 175.6,170.31 176.2,170.46 176.8,170.46 177.4,170.8 178,170.89 178.6,170.63 179.2,170.45 179.8,170.79 180.4,170.81 181,170.43 181.6,170.2 182.2,170.85 182.8,170.55 183.4,169.99 184,170.55 184.6,170.5 185.2,170.85 185.8,170.87 186.4,170.83 187,170.75 187.6,170.78 188.2,170.35 188.8,170.87 189.4,170.86 190,170.82 190.6,170.55 191.2,170.48 191.8,170.8 192.4,170.66 193,170.36 193.6,170.84 194.2,170.52 194.8,170.64 195.4,170.87 196,170.64 196.6,170.59 197.2,170.57 197.8,170.81 198.4,170.8 199,170.6 199.6,170.6 200.2,170.71 200.8,170.8 201.4,170.87 202,170.36 202.6,170.75 203.2,170.14 203.8,170.67 204.4,170.77 204.4,173.45 203.8,173.51 203.2,173.7 202.6,173.38 202,173.19 201.4,173.22 200.8,173.54 200.2,173.92 199.6,173.27 199,173.49 198.4,173.42 197.8,173.28 197.2,173.27 196.6,173.22 196,173.41 195.4,173.31 194.8,173.25 194.2,173.62 193.6,173.11 193,173.22 192.4,173.21 191.8,173.48 191.2,173.35 190.6,173.55 190,173.65 189.4,173.2 188.8,173.67 188.2,173.16 187.6,173.24 187,173.13 186.4,173.26 185.8,173.1 185.2,173.3 184.6,173.4 184,173.16 183.4,173.48 182.8,173.41 182.2,173.12 181.6,173.46 181,173.54 180.4,173.14 179.8,173.15 179.2,173.31 178.6,173.25 178,173.4 177.4,173.54 176.8,173.58 176.2,173.37 175.6,173.24 175,173.23 174.4,173.26 173.8,173.61 173.2,173.4 172.6,173.49 172,173.42 171.4,173.85 170.8,173.43 170.2,173.84 169.6,173.14 169,173.14 168.4,173.82 167.8,173.2 167.2,173.36 166.6,173.37 166,173.41 165.4,173.18 164.8,173.52 164.2,173.34 163.6,173.74 163,173.32 162.4,173.25 161.8,173.34 161.2,173.17 160.6,173.36 160,173.33 159.4,173.22 158.8,173.18 158.2,173.15 157.6,173.24 157,173.44 156.4,173.17 155.8,173.33 155.2,173.54 154.6,173.39 154,173.31 153.4,173.44 152.8,173.14 152.2,173.11 151.6,173.43 151,173.25 150.4,173.42 149.8,173.36 149.2,173.41 148.6,173.49 148,173.51 147.4,173.31 146.8,173.49 146.2,173.62 145.6,173.41 145,173.32 144.4,173.73 143.8,173.43 143.2,173.31 142.6,173.28 142,173.27 141.4,173.12 140.8,173.55 140.2,173.3 139.6,173.79 139,173.21 138.4,173.73 137.8,173.51 137.2,173.17 136.6,173.41 136,173.4 135.4,173.14 134.8,173.49 134.2,173.46 133.6,173.66 133,173.59 132.4,173.55 131.8,173.48 131.2,173.62 130.6,173.2 130,173.22 129.4,173.42 128.8,173.76 128.2,173.31 127.6,173.46 127,173.17 126.4,173.96 125.8,173.38 125.2,173.44 124.6,173.31 124,173.17 123.4,173.23 122.8,173.17 122.2,173.32 121.6,173.46 121,173.22 120.4,173.19 119.8,173.65 119.2,173.55 118.6,173.34 118,173.17 117.4,173.96 116.8,173.2 116.2,173.17 115.6,173.41 115,173.65 114.4,173.25 113.8,173.44 113.2,173.29 112.6,173.53 112,173.64 111.4,173.46 110.8,173.28 110.2,173.25 109.6,173.62 109,173.82 108.4,173.59 107.8,173.73 107.2,173.54 106.6,173.38 106,173.95 105.4,173.4 104.8,173.23 104.2,173.19 103.6,173.71 103,173.27 102.4,173.53 101.8,173.33 101.2,173.3 100.6,173.76 100,173.88 99.4,173.25 98.8,173.38 98.2,174.11 97.6,173.49 97,173.61 96.4,173.45 95.8,173.41 95.2,173.76 94.6,173.48 94,173.42 93.4,173.34 92.8,173.49 92.2,173.48 91.6,173.7 91,173.46 90.4,173.54 89.8,173.87 89.2,173.4 88.6,173.47 88,173.31 87.4,174.06 86.8,173.36 86.2,173.7 85.6,173.78 85,173.62 84.4,173.83 83.8,173.88 83.2,173.47 82.6,173.37 82,173.91 81.4,173.49 80.8,173.63 80.2,173.42 79.6,173.63 79,173.45 78.4,173.44 77.8,174.01 77.2,173.47 76.6,173.81 76,174.16 75.4,173.9 74.8,173.82 74.2,173.71 73.6,173.58 73,173.55 72.4,174.36 71.8,173.89 71.2,173.86 70.6,173.62 70,173.9 69.4,173.96 68.8,173.79 68.2,174.09 67.6,174.13 67,173.83 66.4,173.87 65.8,173.78 65.2,174.32 64.6,173.85 64,174.37 63.4,173.98 62.8,173.95 62.2,174.25 61.6,174.01 61,173.96 60.4,174.06 59.8,173.97 59.2,174.07 58.6,174.09 58,174.25 57.4,174.5 56.8,174.37 56.2,174.57 55.6,174.19 55,174.66 54.4,174.48 53.8,174.47 53.2,174.91 52.6,174.51 52,174.92 51.4,174.41 50.8,175.13 50.2,175.17 49.6,174.54 49,174.79 48.4,175.03 47.8,175.09 47.2,175.22 46.6,174.48 46,174.26 45.4,173.87 44.8,173.62 44.2,173.68 43.6,172.94 43,172.99 42.4,172.4 41.8,172.27" fill="#2a0a80"/>
<text x="122.8" y="200.3" font-size="8.6" text-anchor="middle" font-family="'Liberation Sans', sans-serif" fill="#0a0a0a">Time (ns)</text>
<text x="11.8" y="86.3" font-size="8.6" text-anchor="middle" font-family="'Liberation Sans', sans-serif" fill="#0a0a0a" transform="rotate(-90 11.8 86.3)">Fluorescence Intensity (Counts)</text>
<text x="25.6" y="171.2" font-size="8.6" text-anchor="middle" font-family="'Liberation Sans', sans-serif" fill="#0a0a0a" transform="rotate(-90 25.6 171.2)">Res.</text>
<rect x="87.8" y="116.6" width="4.4" height="4.4" fill="#c4a4f2"/>
<text x="100" y="122.4" font-size="10" font-weight="bold" text-anchor="start" font-family="'Liberation Sans', sans-serif" fill="#111">Donor with Msh4-Msh5</text>
<circle cx="90" cy="132.1" r="2.4" fill="#7a28ec"/>
<text x="100" y="135.7" font-size="10" font-weight="bold" text-anchor="start" font-family="'Liberation Sans', sans-serif" fill="#111">DA</text>
<rect x="87.8" y="142.5" width="4.4" height="4.4" fill="#1e0652"/>
<text x="100" y="148.3" font-size="10" font-weight="bold" text-anchor="start" font-family="'Liberation Sans', sans-serif" fill="#111">DA with Msh4-Msh5</text>
<path d="M252.4,121.09 C253.1,119.14 255.21,112.74 256.62,109.39 C258.02,106.03 259.43,102.82 260.84,100.96 C262.24,99.09 263.65,98.11 265.05,98.21 C266.46,98.31 268.01,100.17 269.27,101.55 C270.54,102.92 271.1,104.04 272.65,106.45 C274.19,108.86 276.5,112.21 278.55,116.01 C280.6,119.8 282.85,125.39 284.96,129.22 C287.07,133.04 289.18,135.55 291.2,138.97 C293.23,142.39 295.65,147.52 297.11,149.74 C298.57,151.96 298.57,151.17 299.98,152.3 C301.38,153.43 303.91,155.41 305.55,156.51 C307.18,157.6 307.51,157.57 309.76,158.88 C312.01,160.19 315.85,162.54 319.04,164.37 C322.23,166.2 325.68,168.23 328.91,169.86 C332.15,171.48 335.17,173.01 338.44,174.12 C341.72,175.24 345.33,175.92 348.57,176.56 C351.8,177.21 354.75,177.63 357.85,177.98 C360.94,178.34 365.02,178.56 367.13,178.7 C369.23,178.83 369.94,178.78 370.5,178.8" fill="none" stroke="#9a50f4" stroke-width="1.3" stroke-linejoin="round" stroke-linecap="round" stroke-dasharray="4,2.5"/>
<path d="M252.4,121.09 C253.1,118.72 255.21,110.69 256.62,106.86 C258.02,103.04 259.43,100.06 260.84,98.13 C262.24,96.2 263.65,95.18 265.05,95.28 C266.46,95.38 268.01,97.31 269.27,98.74 C270.54,100.16 271.1,100.94 272.65,103.82 C274.19,106.69 276.5,111.77 278.55,116.01 C280.6,120.24 282.85,125.39 284.96,129.22 C287.07,133.04 289.18,136.09 291.2,138.97 C293.23,141.85 295.65,144.76 297.11,146.49 C298.57,148.22 298.57,148.08 299.98,149.33 C301.38,150.59 303.91,152.79 305.55,154.01 C307.18,155.23 307.51,155.19 309.76,156.65 C312.01,158.1 315.85,160.54 319.04,162.74 C322.23,164.95 325.68,167.96 328.91,169.86 C332.15,171.75 335.17,173.01 338.44,174.12 C341.72,175.24 345.33,175.92 348.57,176.56 C351.8,177.21 354.75,177.63 357.85,177.98 C360.94,178.34 365.02,178.56 367.13,178.7 C369.23,178.83 369.94,178.78 370.5,178.8" fill="none" stroke="#7a28ec" stroke-width="1.4" stroke-linejoin="round" stroke-linecap="round"/>
<path d="M252.4,121.09 C253.1,118.72 255.21,110.69 256.62,106.86 C258.02,103.04 259.43,100.06 260.84,98.13 C262.24,96.2 263.65,95.18 265.05,95.28 C266.46,95.38 268.01,97.31 269.27,98.74 C270.54,100.16 271.1,100.94 272.65,103.82 C274.19,106.69 276.5,111.77 278.55,116.01 C280.6,120.24 282.85,125.39 284.96,129.22 C287.07,133.04 289.18,136.09 291.2,138.97 C293.23,141.85 295.65,144.76 297.11,146.49 C298.57,148.22 298.57,148.08 299.98,149.33 C301.38,150.59 303.91,152.79 305.55,154.01 C307.18,155.23 307.51,155.19 309.76,156.65 C312.01,158.1 315.85,160.54 319.04,162.74 C322.23,164.95 325.68,167.96 328.91,169.86 C332.15,171.75 335.17,173.01 338.44,174.12 C341.72,175.24 345.33,175.92 348.57,176.56 C351.8,177.21 354.75,177.63 357.85,177.98 C360.94,178.34 365.02,178.56 367.13,178.7 C369.23,178.83 369.94,178.78 370.5,178.8" fill="none" stroke="#2a0a78" stroke-width="1.3" stroke-linejoin="round" stroke-linecap="round"/>
<line x1="252.3" y1="77.4" x2="252.3" y2="179.5" stroke="#262626" stroke-width="1"/>
<line x1="251.8" y1="179" x2="371" y2="179" stroke="#262626" stroke-width="1"/>
<line x1="249.7" y1="179" x2="252.3" y2="179" stroke="#262626" stroke-width="0.8"/>
<text x="249.4" y="181.35" font-size="6.6" text-anchor="end" font-family="'Liberation Sans', sans-serif" fill="#0a0a0a" textLength="3.16" lengthAdjust="spacingAndGlyphs">0</text>
<line x1="250.8" y1="168.84" x2="252.3" y2="168.84" stroke="#262626" stroke-width="0.7"/>
<line x1="249.7" y1="158.68" x2="252.3" y2="158.68" stroke="#262626" stroke-width="0.8"/>
<text x="249.4" y="161.03" font-size="6.6" text-anchor="end" font-family="'Liberation Sans', sans-serif" fill="#0a0a0a" textLength="6.31" lengthAdjust="spacingAndGlyphs">10</text>
<line x1="250.8" y1="148.52" x2="252.3" y2="148.52" stroke="#262626" stroke-width="0.7"/>
<line x1="249.7" y1="138.36" x2="252.3" y2="138.36" stroke="#262626" stroke-width="0.8"/>
<text x="249.4" y="140.71" font-size="6.6" text-anchor="end" font-family="'Liberation Sans', sans-serif" fill="#0a0a0a" textLength="6.31" lengthAdjust="spacingAndGlyphs">20</text>
<line x1="250.8" y1="128.2" x2="252.3" y2="128.2" stroke="#262626" stroke-width="0.7"/>
<line x1="249.7" y1="118.04" x2="252.3" y2="118.04" stroke="#262626" stroke-width="0.8"/>
<text x="249.4" y="120.39" font-size="6.6" text-anchor="end" font-family="'Liberation Sans', sans-serif" fill="#0a0a0a" textLength="6.31" lengthAdjust="spacingAndGlyphs">30</text>
<line x1="250.8" y1="107.88" x2="252.3" y2="107.88" stroke="#262626" stroke-width="0.7"/>
<line x1="249.7" y1="97.72" x2="252.3" y2="97.72" stroke="#262626" stroke-width="0.8"/>
<text x="249.4" y="100.07" font-size="6.6" text-anchor="end" font-family="'Liberation Sans', sans-serif" fill="#0a0a0a" textLength="6.31" lengthAdjust="spacingAndGlyphs">40</text>
<line x1="250.8" y1="87.56" x2="252.3" y2="87.56" stroke="#262626" stroke-width="0.7"/>
<line x1="249.7" y1="77.4" x2="252.3" y2="77.4" stroke="#262626" stroke-width="0.8"/>
<text x="249.4" y="79.75" font-size="6.6" text-anchor="end" font-family="'Liberation Sans', sans-serif" fill="#0a0a0a" textLength="6.31" lengthAdjust="spacingAndGlyphs">50</text>
<line x1="260.84" y1="179" x2="260.84" y2="181.4" stroke="#262626" stroke-width="0.8"/>
<text x="260.84" y="188" font-size="7" text-anchor="middle" font-family="'Liberation Sans', sans-serif" fill="#0a0a0a" textLength="9.81" lengthAdjust="spacingAndGlyphs">520</text>
<line x1="269.27" y1="179" x2="269.27" y2="180.5" stroke="#262626" stroke-width="0.8"/>
<line x1="277.71" y1="179" x2="277.71" y2="181.4" stroke="#262626" stroke-width="0.8"/>
<text x="277.71" y="188" font-size="7" text-anchor="middle" font-family="'Liberation Sans', sans-serif" fill="#0a0a0a" textLength="9.81" lengthAdjust="spacingAndGlyphs">540</text>
<line x1="286.14" y1="179" x2="286.14" y2="180.5" stroke="#262626" stroke-width="0.8"/>
<line x1="294.58" y1="179" x2="294.58" y2="181.4" stroke="#262626" stroke-width="0.8"/>
<text x="294.58" y="188" font-size="7" text-anchor="middle" font-family="'Liberation Sans', sans-serif" fill="#0a0a0a" textLength="9.81" lengthAdjust="spacingAndGlyphs">560</text>
<line x1="303.01" y1="179" x2="303.01" y2="180.5" stroke="#262626" stroke-width="0.8"/>
<line x1="311.45" y1="179" x2="311.45" y2="181.4" stroke="#262626" stroke-width="0.8"/>
<text x="311.45" y="188" font-size="7" text-anchor="middle" font-family="'Liberation Sans', sans-serif" fill="#0a0a0a" textLength="9.81" lengthAdjust="spacingAndGlyphs">580</text>
<line x1="319.89" y1="179" x2="319.89" y2="180.5" stroke="#262626" stroke-width="0.8"/>
<line x1="328.32" y1="179" x2="328.32" y2="181.4" stroke="#262626" stroke-width="0.8"/>
<text x="328.32" y="188" font-size="7" text-anchor="middle" font-family="'Liberation Sans', sans-serif" fill="#0a0a0a" textLength="9.81" lengthAdjust="spacingAndGlyphs">600</text>
<line x1="336.76" y1="179" x2="336.76" y2="180.5" stroke="#262626" stroke-width="0.8"/>
<line x1="345.19" y1="179" x2="345.19" y2="181.4" stroke="#262626" stroke-width="0.8"/>
<text x="345.19" y="188" font-size="7" text-anchor="middle" font-family="'Liberation Sans', sans-serif" fill="#0a0a0a" textLength="9.81" lengthAdjust="spacingAndGlyphs">620</text>
<line x1="353.63" y1="179" x2="353.63" y2="180.5" stroke="#262626" stroke-width="0.8"/>
<line x1="362.06" y1="179" x2="362.06" y2="181.4" stroke="#262626" stroke-width="0.8"/>
<text x="362.06" y="188" font-size="7" text-anchor="middle" font-family="'Liberation Sans', sans-serif" fill="#0a0a0a" textLength="9.81" lengthAdjust="spacingAndGlyphs">640</text>
<line x1="370.5" y1="179" x2="370.5" y2="180.5" stroke="#262626" stroke-width="0.8"/>
<text x="311.7" y="199.9" font-size="8.1" text-anchor="middle" font-family="'Liberation Sans', sans-serif" fill="#0a0a0a">Wavelength (nm)</text>
<text x="228.3" y="125.5" font-size="8.5" text-anchor="middle" font-family="'Liberation Sans', sans-serif" fill="#0a0a0a" transform="rotate(-90 228.3 125.5)">Fluorescence Intensity</text>
<text x="239.8" y="122.9" font-size="8.5" letter-spacing="0.32" text-anchor="middle" font-family="'Liberation Sans', sans-serif" fill="#0a0a0a" transform="rotate(-90 239.8 122.9)">(CPS/1X10<tspan font-size="7" dy="-2.9">5</tspan><tspan dy="2.9">)</tspan></text>
<rect x="314.2" y="84.2" width="25.4" height="49.2" rx="1" fill="#e6e6e6" stroke="#151515" stroke-width="1.3"/>
<rect x="317.2" y="122.2" width="9" height="4.4" rx="2.2" fill="#050505" filter="url(#bl)"/>
<rect x="329.8" y="87.5" width="8.4" height="3" rx="1.5" fill="#050505" filter="url(#bl)"/>
<text x="319.8" y="81.3" font-size="7.8" font-weight="bold" text-anchor="start" font-family="'Liberation Sans', sans-serif" fill="#0a0a0a" transform="rotate(-43 319.8 81.3)">DNA</text>
<text x="333.2" y="80.2" font-size="7.6" font-weight="bold" text-anchor="start" font-family="'Liberation Sans', sans-serif" fill="#0a0a0a" transform="rotate(-43 333.2 80.2)">P:D (1:1)</text>
<polyline points="169.7,24.9 220.4,24.9" fill="none" stroke="#4a1292" stroke-width="2.3" stroke-linejoin="miter"/>
<polyline points="169.7,29.4 220.4,29.4" fill="none" stroke="#4a1292" stroke-width="2.3" stroke-linejoin="miter"/>
<path d="M163.3,30.5 C165.49,31.07 166.77,29.95 166.5,27.7 S167.51,24.33 169.7,24.9" fill="none" stroke="#222" stroke-width="0.7"/>
<path d="M220.4,29.4 C219.14,32 220.22,33.88 223.1,34.1 S227.06,36.2 225.8,38.8" fill="none" stroke="#222" stroke-width="0.7"/>
<circle cx="157.5" cy="30.5" r="5.9" fill="#f4f22e"/>
<text x="157.5" y="33.8" font-size="9.4" font-weight="bold" text-anchor="middle" font-family="'Liberation Serif', serif" fill="#0a0a0a">D</text>
<circle cx="226" cy="44.7" r="5.9" fill="#d412ea"/>
<text x="226" y="48" font-size="9.4" font-weight="bold" text-anchor="middle" font-family="'Liberation Serif', serif" fill="#0a0a0a">A</text>
<line x1="163" y1="51.2" x2="216" y2="51.2" stroke="#4a4a4a" stroke-width="0.85" stroke-dasharray="1.4,1.0"/>
<polyline points="165.2,52.74 163,51.2 165.2,49.66" fill="none" stroke="#4a4a4a" stroke-width="0.7"/>
<polyline points="213.8,52.74 216,51.2 213.8,49.66" fill="none" stroke="#4a4a4a" stroke-width="0.7"/>
<line x1="234" y1="27.6" x2="254.9" y2="27.6" stroke="#111" stroke-width="1.5"/>
<path d="M232.5,27.6 l3.2,-1.9 v3.8 Z M256.4,27.6 l-3.2,-1.9 v3.8 Z" fill="#111"/>
<path d="M308.1,6.4 C293.57,16.29 293.57,31.74 308.1,37.3 C305.9,28.03 305.9,15.67 308.1,6.4 Z" fill="#c6c6c6" stroke="#8c8c8c" stroke-width="0.5"/>
<polyline points="282.7,28.6 308.1,24.5 324.6,30" fill="none" stroke="#4a1292" stroke-width="2.3" stroke-linejoin="miter"/>
<polyline points="284,33 308.1,28.6 324.6,35.1" fill="none" stroke="#4a1292" stroke-width="2.3" stroke-linejoin="miter"/>
<path d="M308.1,6.4 C324.37,9.8 324.37,25.25 308.1,37.3 C310.7,28.03 310.7,15.67 308.1,6.4 Z" fill="#5a5a5a" fill-opacity="0.88" stroke="#444" stroke-width="0.4"/>
<path d="M276.5,35 C278.84,35.4 280.08,34.12 279.6,31.8 S280.36,28.2 282.7,28.6" fill="none" stroke="#222" stroke-width="0.7"/>
<path d="M324.6,35.1 C323.41,37.65 324.49,39.47 327.3,39.65 S331.19,41.65 330,44.2" fill="none" stroke="#222" stroke-width="0.7"/>
<circle cx="270.7" cy="35.5" r="5.9" fill="#f4f22e"/>
<text x="270.7" y="38.8" font-size="9.4" font-weight="bold" text-anchor="middle" font-family="'Liberation Serif', serif" fill="#0a0a0a">D</text>
<circle cx="330.2" cy="50.2" r="5.9" fill="#d412ea"/>
<text x="330.2" y="53.5" font-size="9.4" font-weight="bold" text-anchor="middle" font-family="'Liberation Serif', serif" fill="#0a0a0a">A</text>
<text x="292.2" y="10.9" font-size="7.5" font-weight="bold" text-anchor="middle" font-family="'Liberation Serif', serif" fill="#111">Msh4</text>
<text x="324.7" y="10.9" font-size="7.5" font-weight="bold" text-anchor="middle" font-family="'Liberation Serif', serif" fill="#111">Msh5</text>
<line x1="274.4" y1="55.3" x2="321.9" y2="55.3" stroke="#4a4a4a" stroke-width="0.85" stroke-dasharray="1.4,1.0"/>
<polyline points="276.6,56.84 274.4,55.3 276.6,53.76" fill="none" stroke="#4a4a4a" stroke-width="0.7"/>
<polyline points="319.7,56.84 321.9,55.3 319.7,53.76" fill="none" stroke="#4a4a4a" stroke-width="0.7"/>
<text x="380.9" y="10.8" font-size="14" font-weight="bold" text-anchor="start" font-family="'Liberation Sans', sans-serif" fill="#000" textLength="8.9" lengthAdjust="spacingAndGlyphs">B</text>
<polyline points="449.6,24.67 449.76,27.17 449.92,29.66 450.09,32.16 450.25,34.65 450.41,37.15 450.64,39.49 450.87,41.83 451.1,44.17 451.33,46.51 451.56,48.85 451.79,51.19 452.07,53.57 452.35,55.96 452.63,58.34 452.91,60.72 453.19,63.11 453.47,65.49 453.75,67.87 454.03,70.26 454.31,72.64 454.67,74.98 455.04,77.32 455.4,79.66 455.77,82 457.96,83.56 458.2,86.29 458.45,89.02 458.69,91.75 458.93,94.48 459.8,97.01 459.85,99.55 460.64,102.08 461.08,104.62 461.86,107.16 462.02,109.69 462.73,111.92 462.7,114.15 462.89,116.38 463.56,118.6 464.15,120.83 464.74,123.06 465.1,125.29 465.9,127.63 466.48,129.97 466.23,132.31 467.46,134.65 467.95,136.99 468.18,139.33 468.95,141.75 469.12,144.17 469.29,146.58 470.25,149 470.37,151.42 470.7,152.59" fill="none" stroke="#aaaaaa" stroke-width="0.85" stroke-linejoin="round" stroke-linecap="round"/>
<polyline points="463.79,114.15 463.9,116.38 464.71,118.6 464.96,120.83 465.39,123.06 466.03,125.29 466.98,127.63 467.2,129.97 467.28,132.31 468.61,134.65 468.69,136.99 469.15,139.33 469.96,141.75 470,144.17 470.02,146.58 471.01,149 471.43,151.42 471.77,152.59" fill="none" stroke="#c4c4c4" stroke-width="0.7" stroke-linejoin="round" stroke-linecap="round"/>
<path d="M441.58,152.58 C441.76,148.94 442.32,137.11 442.7,130.78 C443.07,124.45 443.41,121.16 443.82,114.59 C444.23,108.02 444.77,96.57 445.15,91.35 C445.54,86.13 445.84,85.97 446.13,83.27 C446.41,80.58 446.63,79.24 446.87,75.2 C447.1,71.16 447.32,64.24 447.54,59.02 C447.77,53.8 448,48.43 448.21,43.88 C448.43,39.34 448.58,34.79 448.81,31.76 C449.03,28.72 449.25,27 449.55,25.67 C449.85,24.34 450.11,24.01 450.6,23.76 C451.09,23.52 452.18,24.13 452.5,24.2" fill="none" stroke="#b0d8f8" stroke-width="1.92" stroke-linejoin="round" stroke-linecap="round"/>
<polygon points="520,56.89 520.7,57.23 521.4,57.56 522.1,57.88 522.8,58.22 523.5,58.56 524.2,58.91 524.9,59.24 525.6,59.56 526.3,59.93 527,60.13 527.7,60.65 528.4,60.94 529.1,61.32 529.8,61.67 530.5,62.06 531.2,62.24 531.9,62.66 532.6,63.14 533.3,63.24 534,63.83 534.7,64.11 535.4,64.47 536.1,64.9 536.8,65.08 537.5,65.5 538.2,65.62 538.9,66.11 539.6,66.62 540.3,66.9 541,67.13 541.7,67.44 542.4,67.92 543.1,68.14 543.8,68.65 544.5,68.99 545.2,69.19 545.9,69.46 546.6,69.77 547.3,70.49 548,70.85 548.7,70.99 549.4,71.22 550.1,71.89 550.8,72.36 551.5,72.61 552.2,72.79 552.9,73.3 553.6,73.44 554.3,73.54 555,74.46 555.7,74.58 556.4,74.42 557.1,75.33 557.8,75.66 558.5,75.42 559.2,76.18 559.9,76.4 560.6,76.54 561.3,77.32 562,77.15 562.7,77.94 563.4,78.27 564.1,78.62 564.8,79.08 565.5,79.39 566.2,79.41 566.9,80 567.6,80.37 568.3,80.22 569,81.08 569.7,81.47 570.4,81.74 571.1,80.07 571.8,82.33 572.5,82.59 573.2,82.28 573.9,83.1 574.6,82.73 575.3,84.07 576,83.31 576.7,84.5 577.4,83.84 578.1,85.43 578.8,85.66 579.5,86.14 580.2,86.53 580.9,86.08 581.6,86.69 582.3,87.35 583,87.6 583.7,87.85 584.4,87.44 585.1,87.88 585.8,87.89 586.5,88.83 587.2,89.34 587.9,88.44 588.6,88.91 589.3,90.95 589.3,94.98 588.6,94.34 587.9,93.92 587.2,94.15 586.5,94.46 585.8,93.25 585.1,93.11 584.4,92.58 583.7,91.98 583,92.78 582.3,92.08 581.6,90.72 580.9,90.91 580.2,90.32 579.5,90.85 578.8,89.71 578.1,89.94 577.4,89.3 576.7,88.42 576,88.02 575.3,87.99 574.6,87.46 573.9,88.76 573.2,87.03 572.5,87.64 571.8,86.12 571.1,85.77 570.4,85.87 569.7,85.43 569,85.29 568.3,84.83 567.6,83.99 566.9,83.79 566.2,83.32 565.5,83.24 564.8,83.62 564.1,82.44 563.4,82.23 562.7,81.7 562,81.54 561.3,81.2 560.6,80.69 559.9,80.98 559.2,80.28 558.5,79.95 557.8,79.31 557.1,79.06 556.4,78.91 555.7,78.36 555,78 554.3,77.59 553.6,77.63 552.9,77.07 552.2,76.77 551.5,76.36 550.8,75.93 550.1,75.84 549.4,75.24 548.7,75.12 548,74.36 547.3,74.41 546.6,73.79 545.9,73.58 545.2,73.39 544.5,72.63 543.8,72.23 543.1,72.39 542.4,71.67 541.7,71.25 541,70.93 540.3,70.49 539.6,70.16 538.9,69.84 538.2,69.52 537.5,69.17 536.8,68.74 536.1,68.38 535.4,67.99 534.7,67.64 534,67.5 533.3,67.04 532.6,66.75 531.9,66.21 531.2,65.85 530.5,65.49 529.8,65.22 529.1,64.86 528.4,64.51 527.7,64.09 527,63.77 526.3,63.36 525.6,63.02 524.9,62.69 524.2,62.33 523.5,61.99 522.8,61.64 522.1,61.32 521.4,60.98 520.7,60.63 520,60.29" fill="#b0d8f8"/>
<path d="M450.6,23.76 C450.92,23.83 448.85,22.38 452.5,24.2 C456.15,26.02 464.57,30.57 472.5,34.7 C480.43,38.83 491.35,44.62 500.1,49 C508.85,53.38 515.85,56.47 525,61 C534.15,65.53 544.18,70.87 555,76.2 C565.82,81.53 584.08,90.2 589.9,93" fill="none" stroke="#b0d8f8" stroke-width="3.4" stroke-linejoin="round" stroke-linecap="round"/>
<path d="M441.58,152.58 C441.76,148.94 442.32,137.11 442.7,130.78 C443.07,124.45 443.41,121.16 443.82,114.59 C444.23,108.02 444.77,96.57 445.15,91.35 C445.54,86.13 445.84,85.97 446.13,83.27 C446.41,80.58 446.63,79.24 446.87,75.2 C447.1,71.16 447.32,64.24 447.54,59.02 C447.77,53.8 448,48.43 448.21,43.88 C448.43,39.34 448.58,34.79 448.81,31.76 C449.03,28.72 449.25,27 449.55,25.67 C449.85,24.34 450.11,23.94 450.6,23.76 C451.09,23.58 452.18,24.46 452.5,24.6" fill="none" stroke="#64aef6" stroke-width="1.6" stroke-linejoin="round" stroke-linecap="round"/>
<polygon points="520,65.42 520.7,65.8 521.4,66.18 522.1,66.55 522.8,66.94 523.5,67.32 524.2,67.7 524.9,68.09 525.6,68.45 526.3,68.72 527,69.09 527.7,69.43 528.4,69.69 529.1,70.19 529.8,70.5 530.5,70.89 531.2,71.14 531.9,71.59 532.6,71.84 533.3,72.13 534,72.46 534.7,72.99 535.4,73.24 536.1,73.59 536.8,73.94 537.5,74.27 538.2,74.69 538.9,74.85 539.6,75.28 540.3,75.63 541,75.83 541.7,76.31 542.4,76.52 543.1,77.12 543.8,77.43 544.5,77.49 545.2,77.88 545.9,78.55 546.6,78.32 547.3,79.12 548,79.32 548.7,79.78 549.4,80.08 550.1,80.64 550.8,80.54 551.5,81.28 552.2,81.37 552.9,81.6 553.6,81.99 554.3,82.75 555,83.09 555.7,83.04 556.4,83.81 557.1,83.3 557.8,84.39 558.5,84.68 559.2,84.29 559.9,85.13 560.6,85.28 561.3,85.98 562,86.19 562.7,86.46 563.4,87.09 564.1,86.58 564.8,87.29 565.5,87.9 566.2,88.28 566.9,88.09 567.6,88.64 568.3,89.38 569,89.22 569.7,89.99 570.4,89.74 571.1,90.67 571.8,90.59 572.5,90.9 573.2,91.66 573.9,90.95 574.6,92.16 575.3,92.19 576,92.99 576.7,93.1 577.4,93.65 578.1,93.69 578.8,93.93 579.5,93.94 580.2,93.9 580.9,95.27 581.6,94.46 582.3,95.58 583,95.31 583.7,95.42 584.4,96.24 585.1,96.36 585.8,96.49 586.5,97.23 587.2,97.67 587.9,97.42 588.6,98.73 589.3,98.53 589.3,102.43 588.6,102.59 587.9,101.83 587.2,101.76 586.5,101.59 585.8,101.17 585.1,100.42 584.4,100.3 583.7,99.57 583,100.23 582.3,100.37 581.6,98.74 580.9,99.36 580.2,98.01 579.5,98.55 578.8,98.04 578.1,97.42 577.4,96.94 576.7,97.8 576,96.21 575.3,96.01 574.6,95.34 573.9,95.41 573.2,94.94 572.5,94.31 571.8,93.97 571.1,94.31 570.4,94.15 569.7,93 569,92.67 568.3,92.66 567.6,92.06 566.9,91.84 566.2,91.84 565.5,91.24 564.8,91.04 564.1,90.58 563.4,90.19 562.7,89.87 562,89.61 561.3,89.19 560.6,88.79 559.9,88.38 559.2,88.58 558.5,87.85 557.8,87.68 557.1,87.41 556.4,87.15 555.7,86.61 555,86.48 554.3,86.21 553.6,85.45 552.9,85.45 552.2,85.08 551.5,85.01 550.8,84.56 550.1,83.6 549.4,83.38 548.7,83.15 548,82.73 547.3,82.28 546.6,81.92 545.9,81.57 545.2,81.38 544.5,80.85 543.8,80.65 543.1,80.23 542.4,79.88 541.7,79.43 541,79.22 540.3,78.77 539.6,78.63 538.9,78.12 538.2,77.72 537.5,77.45 536.8,77.05 536.1,76.6 535.4,76.36 534.7,75.94 534,75.69 533.3,75.22 532.6,74.93 531.9,74.52 531.2,74.23 530.5,73.82 529.8,73.48 529.1,73.14 528.4,72.77 527.7,72.41 527,72.05 526.3,71.78 525.6,71.36 524.9,71.03 524.2,70.63 523.5,70.27 522.8,69.85 522.1,69.47 521.4,69.08 520.7,68.7 520,68.32" fill="#64aef6"/>
<path d="M450.6,23.76 C450.92,23.9 451.6,23.96 452.5,24.6 C453.4,25.24 454.42,26.28 456,27.6 C457.58,28.92 459.25,30.47 462,32.5 C464.75,34.53 466.15,35.88 472.5,39.8 C478.85,43.72 491.35,51.03 500.1,56 C508.85,60.97 515.85,64.83 525,69.6 C534.15,74.37 544.18,79.37 555,84.6 C565.82,89.83 584.08,98.27 589.9,101" fill="none" stroke="#64aef6" stroke-width="2.9" stroke-linejoin="round" stroke-linecap="round"/>
<path d="M441.58,152.58 C441.76,148.94 442.32,137.11 442.7,130.78 C443.07,124.45 443.41,121.16 443.82,114.59 C444.23,108.02 444.77,96.57 445.15,91.35 C445.54,86.13 445.84,85.97 446.13,83.27 C446.41,80.58 446.63,79.24 446.87,75.2 C447.1,71.16 447.32,64.24 447.54,59.02 C447.77,53.8 448,48.43 448.21,43.88 C448.43,39.34 448.58,34.79 448.81,31.76 C449.03,28.72 449.25,27 449.55,25.67 C449.85,24.34 450.11,24.01 450.6,23.76 C451.09,23.52 452.18,24.13 452.5,24.2" fill="none" stroke="#2a1cc0" stroke-width="1.52" stroke-linejoin="round" stroke-linecap="round"/>
<polygon points="540,67.1 540.7,67.45 541.4,67.81 542.1,68.16 542.8,68.5 543.5,68.84 544.2,69.21 544.9,69.55 545.6,69.93 546.3,70.29 547,70.6 547.7,70.91 548.4,71.35 549.1,71.65 549.8,71.98 550.5,72.38 551.2,72.72 551.9,73.03 552.6,73.45 553.3,73.78 554,74.09 554.7,74.37 555.4,74.79 556.1,74.99 556.8,75.49 557.5,75.88 558.2,76.1 558.9,76.51 559.6,76.7 560.3,77.16 561,77.29 561.7,77.85 562.4,78.22 563.1,78.5 563.8,78.84 564.5,79.15 565.2,79.36 565.9,79.77 566.6,80.25 567.3,80.61 568,80.83 568.7,81.03 569.4,81.55 570.1,81.81 570.8,82.14 571.5,82.34 572.2,82.88 572.9,83.09 573.6,83.56 574.3,83.84 575,84.17 575.7,84.63 576.4,84.53 577.1,85.14 577.8,85.57 578.5,86 579.2,86.02 579.9,86.49 580.6,86.94 581.3,87.03 582,87.36 582.7,87.85 583.4,87.62 584.1,88.52 584.8,88.52 585.5,89.22 586.2,89.31 586.9,89.79 587.6,89.93 588.3,90.67 589,90.75 589.7,91.32 589.7,94.69 589,94.38 588.3,94.06 587.6,93.78 586.9,93.14 586.2,92.82 585.5,92.84 584.8,92.43 584.1,91.95 583.4,91.58 582.7,91.21 582,90.79 581.3,90.63 580.6,90.09 579.9,89.96 579.2,89.57 578.5,89.15 577.8,88.81 577.1,88.74 576.4,88.04 575.7,87.75 575,87.65 574.3,87.26 573.6,86.72 572.9,86.66 572.2,86.04 571.5,85.65 570.8,85.53 570.1,85.03 569.4,84.87 568.7,84.45 568,84.32 567.3,83.64 566.6,83.44 565.9,83 565.2,82.62 564.5,82.37 563.8,82.15 563.1,81.6 562.4,81.44 561.7,80.97 561,80.61 560.3,80.49 559.6,80.09 558.9,79.71 558.2,79.54 557.5,78.97 556.8,78.68 556.1,78.47 555.4,77.9 554.7,77.71 554,77.24 553.3,76.9 552.6,76.49 551.9,76.16 551.2,75.81 550.5,75.46 549.8,75.07 549.1,74.71 548.4,74.41 547.7,74 547,73.66 546.3,73.29 545.6,72.97 544.9,72.64 544.2,72.26 543.5,71.89 542.8,71.53 542.1,71.17 541.4,70.81 540.7,70.46 540,70.1" fill="#2a1cc0"/>
<path d="M450.6,23.76 C450.92,23.83 448.85,22.38 452.5,24.2 C456.15,26.02 464.57,30.57 472.5,34.7 C480.43,38.83 491.35,44.62 500.1,49 C508.85,53.38 515.85,56.47 525,61 C534.15,65.53 544.18,70.87 555,76.2 C565.82,81.53 584.08,90.2 589.9,93" fill="none" stroke="#2a1cc0" stroke-width="3" stroke-linejoin="round" stroke-linecap="round"/>
<path d="M441.58,152.58 C441.76,148.94 442.32,137.11 442.7,130.78 C443.07,124.45 443.41,121.16 443.82,114.59 C444.23,108.02 444.77,96.57 445.15,91.35 C445.54,86.13 445.84,85.97 446.13,83.27 C446.41,80.58 446.63,79.24 446.87,75.2 C447.1,71.16 447.32,64.24 447.54,59.02 C447.77,53.8 448,48.43 448.21,43.88 C448.43,39.34 448.58,34.79 448.81,31.76 C449.03,28.72 449.25,27 449.55,25.67 C449.85,24.34 450.11,24.01 450.6,23.76 C451.09,23.52 452.18,24.13 452.5,24.2" fill="none" stroke="#10065e" stroke-width="1.2" stroke-linejoin="round" stroke-linecap="round" stroke-dasharray="1.2,1.0"/>
<path d="M450.6,23.76 C450.92,23.83 448.85,22.38 452.5,24.2 C456.15,26.02 464.57,30.57 472.5,34.7 C480.43,38.83 491.35,44.62 500.1,49 C508.85,53.38 515.85,56.47 525,61 C534.15,65.53 544.18,70.87 555,76.2 C565.82,81.53 584.08,90.2 589.9,93" fill="none" stroke="#10065e" stroke-width="2" stroke-linejoin="round" stroke-linecap="round"/>
<path d="M450.6,23.76 C450.92,23.9 451.6,23.96 452.5,24.6 C453.4,25.24 454.42,26.28 456,27.6 C457.58,28.92 459.25,30.47 462,32.5 C464.75,34.53 466.15,35.88 472.5,39.8 C478.85,43.72 491.35,51.03 500.1,56 C508.85,60.97 515.85,64.83 525,69.6 C534.15,74.37 544.18,79.37 555,84.6 C565.82,89.83 584.08,98.27 589.9,101" fill="none" stroke="#111" stroke-width="0.8" stroke-linejoin="round" stroke-linecap="round"/>
<line x1="427.1" y1="21.4" x2="427.1" y2="152.9" stroke="#262626" stroke-width="1"/>
<line x1="426.6" y1="152.4" x2="590.1" y2="152.4" stroke="#262626" stroke-width="1"/>
<line x1="423.9" y1="152.2" x2="427.1" y2="152.2" stroke="#262626" stroke-width="0.9"/>
<text x="422.2" y="155.2" font-size="8.4" text-anchor="end" font-family="'Liberation Sans', sans-serif" fill="#0a0a0a" textLength="8.5" lengthAdjust="spacingAndGlyphs">10</text>
<line x1="425.3" y1="140.46" x2="427.1" y2="140.46" stroke="#262626" stroke-width="0.7"/>
<line x1="425.3" y1="133.59" x2="427.1" y2="133.59" stroke="#262626" stroke-width="0.7"/>
<line x1="425.3" y1="128.72" x2="427.1" y2="128.72" stroke="#262626" stroke-width="0.7"/>
<line x1="425.3" y1="124.94" x2="427.1" y2="124.94" stroke="#262626" stroke-width="0.7"/>
<line x1="425.3" y1="121.85" x2="427.1" y2="121.85" stroke="#262626" stroke-width="0.7"/>
<line x1="425.3" y1="119.24" x2="427.1" y2="119.24" stroke="#262626" stroke-width="0.7"/>
<line x1="425.3" y1="116.98" x2="427.1" y2="116.98" stroke="#262626" stroke-width="0.7"/>
<line x1="425.3" y1="114.98" x2="427.1" y2="114.98" stroke="#262626" stroke-width="0.7"/>
<line x1="423.9" y1="113.2" x2="427.1" y2="113.2" stroke="#262626" stroke-width="0.9"/>
<text x="422.2" y="116.2" font-size="8.4" text-anchor="end" font-family="'Liberation Sans', sans-serif" fill="#0a0a0a" textLength="12.75" lengthAdjust="spacingAndGlyphs">100</text>
<line x1="425.3" y1="101.46" x2="427.1" y2="101.46" stroke="#262626" stroke-width="0.7"/>
<line x1="425.3" y1="94.59" x2="427.1" y2="94.59" stroke="#262626" stroke-width="0.7"/>
<line x1="425.3" y1="89.72" x2="427.1" y2="89.72" stroke="#262626" stroke-width="0.7"/>
<line x1="425.3" y1="85.94" x2="427.1" y2="85.94" stroke="#262626" stroke-width="0.7"/>
<line x1="425.3" y1="82.85" x2="427.1" y2="82.85" stroke="#262626" stroke-width="0.7"/>
<line x1="425.3" y1="80.24" x2="427.1" y2="80.24" stroke="#262626" stroke-width="0.7"/>
<line x1="425.3" y1="77.98" x2="427.1" y2="77.98" stroke="#262626" stroke-width="0.7"/>
<line x1="425.3" y1="75.98" x2="427.1" y2="75.98" stroke="#262626" stroke-width="0.7"/>
<line x1="423.9" y1="74.2" x2="427.1" y2="74.2" stroke="#262626" stroke-width="0.9"/>
<text x="422.2" y="77.2" font-size="8.4" text-anchor="end" font-family="'Liberation Sans', sans-serif" fill="#0a0a0a" textLength="17" lengthAdjust="spacingAndGlyphs">1000</text>
<line x1="425.3" y1="62.46" x2="427.1" y2="62.46" stroke="#262626" stroke-width="0.7"/>
<line x1="425.3" y1="55.59" x2="427.1" y2="55.59" stroke="#262626" stroke-width="0.7"/>
<line x1="425.3" y1="50.72" x2="427.1" y2="50.72" stroke="#262626" stroke-width="0.7"/>
<line x1="425.3" y1="46.94" x2="427.1" y2="46.94" stroke="#262626" stroke-width="0.7"/>
<line x1="425.3" y1="43.85" x2="427.1" y2="43.85" stroke="#262626" stroke-width="0.7"/>
<line x1="425.3" y1="41.24" x2="427.1" y2="41.24" stroke="#262626" stroke-width="0.7"/>
<line x1="425.3" y1="38.98" x2="427.1" y2="38.98" stroke="#262626" stroke-width="0.7"/>
<line x1="425.3" y1="36.98" x2="427.1" y2="36.98" stroke="#262626" stroke-width="0.7"/>
<line x1="423.9" y1="35.2" x2="427.1" y2="35.2" stroke="#262626" stroke-width="0.9"/>
<text x="422.2" y="38.2" font-size="8.4" text-anchor="end" font-family="'Liberation Sans', sans-serif" fill="#0a0a0a" textLength="21.25" lengthAdjust="spacingAndGlyphs">10000</text>
<line x1="425.3" y1="23.46" x2="427.1" y2="23.46" stroke="#262626" stroke-width="0.7"/>
<line x1="427.3" y1="152.4" x2="427.3" y2="154.6" stroke="#262626" stroke-width="0.8"/>
<line x1="447.59" y1="152.4" x2="447.59" y2="154.6" stroke="#262626" stroke-width="0.8"/>
<line x1="467.88" y1="152.4" x2="467.88" y2="154.6" stroke="#262626" stroke-width="0.8"/>
<line x1="488.16" y1="152.4" x2="488.16" y2="154.6" stroke="#262626" stroke-width="0.8"/>
<line x1="508.45" y1="152.4" x2="508.45" y2="154.6" stroke="#262626" stroke-width="0.8"/>
<line x1="528.74" y1="152.4" x2="528.74" y2="154.6" stroke="#262626" stroke-width="0.8"/>
<line x1="549.02" y1="152.4" x2="549.02" y2="154.6" stroke="#262626" stroke-width="0.8"/>
<line x1="569.31" y1="152.4" x2="569.31" y2="154.6" stroke="#262626" stroke-width="0.8"/>
<line x1="589.6" y1="152.4" x2="589.6" y2="154.6" stroke="#262626" stroke-width="0.8"/>
<line x1="427.1" y1="162.8" x2="427.1" y2="181" stroke="#262626" stroke-width="1"/>
<line x1="426.6" y1="180.5" x2="590.1" y2="180.5" stroke="#262626" stroke-width="1"/>
<line x1="424.1" y1="162.8" x2="427.1" y2="162.8" stroke="#262626" stroke-width="0.9"/>
<text x="422.5" y="165.8" font-size="8.4" text-anchor="end" font-family="'Liberation Sans', sans-serif" fill="#0a0a0a" textLength="4.25" lengthAdjust="spacingAndGlyphs">5</text>
<line x1="424.1" y1="171.8" x2="427.1" y2="171.8" stroke="#262626" stroke-width="0.9"/>
<text x="422.5" y="174.8" font-size="8.4" text-anchor="end" font-family="'Liberation Sans', sans-serif" fill="#0a0a0a" textLength="4.25" lengthAdjust="spacingAndGlyphs">0</text>
<line x1="424.1" y1="180.5" x2="427.1" y2="180.5" stroke="#262626" stroke-width="0.9"/>
<text x="422.5" y="183.5" font-size="8.4" text-anchor="end" font-family="'Liberation Sans', sans-serif" fill="#0a0a0a" textLength="6.8" lengthAdjust="spacingAndGlyphs">-5</text>
<line x1="425.5" y1="167.3" x2="427.1" y2="167.3" stroke="#262626" stroke-width="0.7"/>
<line x1="425.5" y1="176.15" x2="427.1" y2="176.15" stroke="#262626" stroke-width="0.7"/>
<line x1="427.3" y1="180.5" x2="427.3" y2="183.1" stroke="#262626" stroke-width="0.8"/>
<text x="427.3" y="191.4" font-size="8.3" text-anchor="middle" font-family="'Liberation Sans', sans-serif" fill="#0a0a0a" textLength="4.34" lengthAdjust="spacingAndGlyphs">5</text>
<line x1="447.59" y1="180.5" x2="447.59" y2="182.1" stroke="#262626" stroke-width="0.8"/>
<line x1="467.88" y1="180.5" x2="467.88" y2="183.1" stroke="#262626" stroke-width="0.8"/>
<text x="467.88" y="191.4" font-size="8.3" text-anchor="middle" font-family="'Liberation Sans', sans-serif" fill="#0a0a0a" textLength="8.68" lengthAdjust="spacingAndGlyphs">10</text>
<line x1="488.16" y1="180.5" x2="488.16" y2="182.1" stroke="#262626" stroke-width="0.8"/>
<line x1="508.45" y1="180.5" x2="508.45" y2="183.1" stroke="#262626" stroke-width="0.8"/>
<text x="508.45" y="191.4" font-size="8.3" text-anchor="middle" font-family="'Liberation Sans', sans-serif" fill="#0a0a0a" textLength="8.68" lengthAdjust="spacingAndGlyphs">15</text>
<line x1="528.74" y1="180.5" x2="528.74" y2="182.1" stroke="#262626" stroke-width="0.8"/>
<line x1="549.02" y1="180.5" x2="549.02" y2="183.1" stroke="#262626" stroke-width="0.8"/>
<text x="549.02" y="191.4" font-size="8.3" text-anchor="middle" font-family="'Liberation Sans', sans-serif" fill="#0a0a0a" textLength="8.68" lengthAdjust="spacingAndGlyphs">20</text>
<line x1="569.31" y1="180.5" x2="569.31" y2="182.1" stroke="#262626" stroke-width="0.8"/>
<line x1="589.6" y1="180.5" x2="589.6" y2="183.1" stroke="#262626" stroke-width="0.8"/>
<text x="589.6" y="191.4" font-size="8.3" text-anchor="middle" font-family="'Liberation Sans', sans-serif" fill="#0a0a0a" textLength="8.68" lengthAdjust="spacingAndGlyphs">25</text>
<polygon points="427.7,170.25 428.3,169.76 428.9,170.33 429.5,169.84 430.1,169.97 430.7,170.2 431.3,170.23 431.9,170.55 432.5,170.44 433.1,169.4 433.7,170.3 434.3,170.45 434.9,170.35 435.5,169.93 436.1,169.79 436.7,170.12 437.3,170.39 437.9,169.99 438.5,169.61 439.1,170.38 439.7,169.65 440.3,170.38 440.9,169.84 441.5,170.47 442.1,170.11 442.7,169.79 443.3,169.87 443.9,170.37 444.5,169.9 445.1,170.17 445.7,170.03 446.3,170.04 446.9,170.25 447.5,169.75 448.1,169.77 448.7,169.8 449.3,170.37 449.9,170.29 450.5,168.99 451.1,170.16 451.7,170.14 452.3,170.38 452.9,169.9 453.5,169.91 454.1,169.73 454.7,170.38 455.3,169.71 455.9,170.22 456.5,169.27 457.1,170.32 457.7,169.91 458.3,170.15 458.9,170.2 459.5,169.93 460.1,169.7 460.7,169.2 461.3,170.32 461.9,170.04 462.5,168.82 463.1,170.22 463.7,168.81 464.3,170.13 464.9,170.3 465.5,170.17 466.1,169.16 466.7,169.25 467.3,169.26 467.9,169.98 468.5,168.65 469.1,168.64 469.7,169.81 470.3,169.73 470.9,170.02 471.5,170 472.1,168.43 472.7,169.31 473.3,169.05 473.9,170.03 474.5,168.22 475.1,169.59 475.7,170.23 476.3,169.71 476.9,170.02 477.5,169.4 478.1,169.93 478.7,170.16 479.3,168.44 479.9,169.8 480.5,169.87 481.1,169.53 481.7,169.79 482.3,170.15 482.9,169.64 483.5,168.85 484.1,169.98 484.7,169.98 485.3,170.09 485.9,170.06 486.5,169.89 487.1,169.61 487.7,169.4 488.3,169.99 488.9,167.65 489.5,170.13 490.1,169.67 490.7,169.77 491.3,169.27 491.9,169.74 492.5,168.32 493.1,169.41 493.7,169.03 494.3,170.09 494.9,169.97 495.5,169.85 496.1,169.93 496.7,169.08 497.3,169.64 497.9,169.74 498.5,170.03 499.1,169.46 499.7,169.73 500.3,169.32 500.9,169.76 501.5,169.04 502.1,169.01 502.7,169.55 503.3,169.15 503.9,169.55 504.5,169.7 505.1,168.95 505.7,169.56 506.3,169.66 506.9,169.17 507.5,169.53 508.1,168.46 508.7,169.12 509.3,169.4 509.9,169.47 510.5,169.33 511.1,168.87 511.7,169.17 512.3,169.62 512.9,168.99 513.5,169.65 514.1,169.34 514.7,167.88 515.3,168.59 515.9,167.92 516.5,168.86 517.1,168.81 517.7,169.4 518.3,168.13 518.9,168.76 519.5,169.68 520.1,169.76 520.7,169.45 521.3,169.57 521.9,169.48 522.5,169.16 523.1,168.87 523.7,169.56 524.3,169.16 524.9,169.49 525.5,169.46 526.1,169.04 526.7,169.84 527.3,169.31 527.9,169.49 528.5,168.78 529.1,169.12 529.7,169.06 530.3,169.16 530.9,169.52 531.5,167.98 532.1,169.75 532.7,169.42 533.3,168.84 533.9,168.52 534.5,168.89 535.1,169.24 535.7,169.69 536.3,169.32 536.9,169.39 537.5,168.27 538.1,168.59 538.7,168.11 539.3,169.42 539.9,169.73 540.5,169.65 541.1,169.56 541.7,168.83 542.3,168.52 542.9,168.68 543.5,168.91 544.1,169.59 544.7,168.65 545.3,169.7 545.9,168.27 546.5,169.36 547.1,169.32 547.7,169.53 548.3,169.07 548.9,169.38 549.5,168.67 550.1,168.49 550.7,168.97 551.3,168.94 551.9,169.11 552.5,168.66 553.1,169.16 553.7,169.15 554.3,168.94 554.9,168.8 555.5,168.36 556.1,169.39 556.7,169.36 557.3,168.78 557.9,169.15 558.5,169.04 559.1,168.91 559.7,169.55 560.3,168.97 560.9,168.72 561.5,169.35 562.1,168.86 562.7,169.49 563.3,168.95 563.9,168.68 564.5,167.17 565.1,168.56 565.7,169.35 566.3,169.38 566.9,169.05 567.5,169.27 568.1,168.22 568.7,169.25 569.3,169.42 569.9,168.39 570.5,168.93 571.1,169.28 571.7,169.15 572.3,168.6 572.9,169.1 573.5,169.43 574.1,169.43 574.7,168.89 575.3,168.51 575.9,169.33 576.5,168.86 577.1,169.01 577.7,167.68 578.3,168.49 578.9,169.18 579.5,169 580.1,168.7 580.7,169.32 581.3,169.24 581.9,167.73 582.5,169.33 583.1,168.95 583.7,169.28 584.3,169.26 584.9,169.08 585.5,168.65 586.1,168.98 586.7,168.35 587.3,168.12 587.9,168.87 588.5,169.05 589.1,167.8 589.1,174.16 588.5,174.18 587.9,174.31 587.3,174.49 586.7,174.05 586.1,175.04 585.5,174.68 584.9,174.85 584.3,174.61 583.7,175.07 583.1,173.9 582.5,174.44 581.9,174 581.3,174.06 580.7,174.68 580.1,173.91 579.5,174.81 578.9,174.02 578.3,175.39 577.7,174.47 577.1,175.08 576.5,174.15 575.9,174.34 575.3,174.24 574.7,174.53 574.1,173.97 573.5,174.64 572.9,174.35 572.3,173.98 571.7,174.52 571.1,174.08 570.5,174.74 569.9,173.99 569.3,175.24 568.7,174.56 568.1,175.3 567.5,175.34 566.9,174.52 566.3,175.07 565.7,175.57 565.1,174.18 564.5,174.63 563.9,174.38 563.3,173.98 562.7,174.62 562.1,174.93 561.5,174.01 560.9,174.11 560.3,174.34 559.7,174.07 559.1,174.38 558.5,174.7 557.9,174.15 557.3,174.68 556.7,174.52 556.1,174.24 555.5,175.05 554.9,175.34 554.3,174.61 553.7,175.15 553.1,174.17 552.5,175.09 551.9,174.83 551.3,174.13 550.7,175.89 550.1,174.37 549.5,175.37 548.9,174.81 548.3,174.31 547.7,174.58 547.1,174.15 546.5,174.3 545.9,174.61 545.3,174.64 544.7,174.66 544.1,174.49 543.5,174.72 542.9,174.42 542.3,174.55 541.7,175.08 541.1,174.51 540.5,175.35 539.9,174.88 539.3,174.51 538.7,174.85 538.1,175.29 537.5,174.92 536.9,175.37 536.3,174.49 535.7,174.29 535.1,174.4 534.5,175.24 533.9,174.73 533.3,175.99 532.7,174.91 532.1,174.58 531.5,175.83 530.9,175.53 530.3,174.99 529.7,174.61 529.1,174.63 528.5,174.33 527.9,174.42 527.3,174.44 526.7,175.18 526.1,174.81 525.5,174.73 524.9,174.38 524.3,175.79 523.7,174.51 523.1,174.47 522.5,174.69 521.9,174.94 521.3,174.4 520.7,175.41 520.1,174.43 519.5,175.01 518.9,174.45 518.3,175.17 517.7,174.75 517.1,174.77 516.5,175.33 515.9,174.66 515.3,175.21 514.7,174.87 514.1,174.71 513.5,174.78 512.9,174.72 512.3,174.94 511.7,175.9 511.1,174.81 510.5,174.72 509.9,175.2 509.3,174.68 508.7,175.5 508.1,174.42 507.5,175.59 506.9,174.61 506.3,174.47 505.7,175.15 505.1,175 504.5,175.42 503.9,174.42 503.3,174.74 502.7,176.1 502.1,175.5 501.5,174.71 500.9,174.96 500.3,174.69 499.7,175.15 499.1,175.83 498.5,175.17 497.9,175.94 497.3,174.69 496.7,175.66 496.1,174.97 495.5,176 494.9,174.64 494.3,175.1 493.7,174.96 493.1,175.39 492.5,174.6 491.9,175.44 491.3,174.58 490.7,174.67 490.1,176.72 489.5,174.87 488.9,174.7 488.3,174.81 487.7,174.69 487.1,175.01 486.5,175.39 485.9,175.08 485.3,174.83 484.7,175.3 484.1,174.92 483.5,174.91 482.9,175.52 482.3,175.07 481.7,175.51 481.1,174.87 480.5,174.89 479.9,175.15 479.3,175.24 478.7,175.57 478.1,175.13 477.5,175.57 476.9,175.28 476.3,175.27 475.7,174.91 475.1,175.4 474.5,175.25 473.9,175.23 473.3,174.99 472.7,175.63 472.1,174.8 471.5,175.47 470.9,174.75 470.3,175.66 469.7,175.9 469.1,175.53 468.5,175.72 467.9,175.27 467.3,175.52 466.7,175.34 466.1,175.39 465.5,175.24 464.9,175.1 464.3,174.88 463.7,175.14 463.1,175.38 462.5,174.74 461.9,175.42 461.3,175.6 460.7,175.29 460.1,176.13 459.5,175.81 458.9,174.91 458.3,175.41 457.7,174.89 457.1,175 456.5,175.46 455.9,175.14 455.3,175.69 454.7,176.34 454.1,175.84 453.5,175.46 452.9,175.87 452.3,175 451.7,175.14 451.1,176.46 450.5,175.82 449.9,175.47 449.3,175.24 448.7,175.12 448.1,174.84 447.5,175.13 446.9,175.18 446.3,175.42 445.7,175.12 445.1,175.6 444.5,175.73 443.9,175.65 443.3,175.05 442.7,175.55 442.1,176.47 441.5,175.99 440.9,175.3 440.3,176.61 439.7,175.82 439.1,175.78 438.5,175.2 437.9,175.06 437.3,175.69 436.7,175.56 436.1,176.17 435.5,175.56 434.9,176.45 434.3,175.28 433.7,175.34 433.1,175.21 432.5,175.53 431.9,175.48 431.3,175.63 430.7,175.14 430.1,175.51 429.5,175.63 428.9,175.98 428.3,176.96 427.7,175.66" fill="#b0d8f8"/>
<polygon points="427.7,170.07 428.3,170.69 428.9,170.78 429.5,170.16 430.1,170.69 430.7,170.64 431.3,170.45 431.9,170.09 432.5,170.73 433.1,169.62 433.7,169.39 434.3,170.1 434.9,170.67 435.5,170.49 436.1,170.2 436.7,169.95 437.3,170.17 437.9,170.18 438.5,170.34 439.1,170.31 439.7,170.67 440.3,170.63 440.9,170.38 441.5,170.15 442.1,170.58 442.7,170.43 443.3,170.11 443.9,170.19 444.5,169.69 445.1,170.55 445.7,170.56 446.3,170.54 446.9,170.01 447.5,170.15 448.1,170.45 448.7,170.28 449.3,170.37 449.9,169.78 450.5,170.56 451.1,169.91 451.7,170.11 452.3,170.18 452.9,170.41 453.5,170.58 454.1,170.29 454.7,170.48 455.3,170.12 455.9,169.53 456.5,170.33 457.1,170.57 457.7,170.24 458.3,170.32 458.9,170.3 459.5,170.21 460.1,170.29 460.7,169.89 461.3,170.45 461.9,170.36 462.5,170.25 463.1,170.3 463.7,170.25 464.3,169.89 464.9,170.26 465.5,170.16 466.1,170.32 466.7,170.09 467.3,170.08 467.9,170.25 468.5,170.42 469.1,170.24 469.7,170.46 470.3,170.11 470.9,170.09 471.5,169.77 472.1,169.43 472.7,170.1 473.3,170.25 473.9,169.87 474.5,170.38 475.1,170.36 475.7,170 476.3,170.25 476.9,170.16 477.5,170.14 478.1,170.31 478.7,170.37 479.3,170.05 479.9,169.28 480.5,170.2 481.1,169.38 481.7,170.34 482.3,170.21 482.9,170.25 483.5,169.86 484.1,169.93 484.7,169.61 485.3,170 485.9,169.63 486.5,169.34 487.1,170.25 487.7,170.13 488.3,169.85 488.9,169.95 489.5,169.22 490.1,169.64 490.7,169.98 491.3,169.94 491.9,170.29 492.5,169.59 493.1,170.07 493.7,169.57 494.3,169.97 494.9,169.88 495.5,170.26 496.1,170.26 496.7,169.61 497.3,169.91 497.9,169.7 498.5,169.69 499.1,169.78 499.7,169.68 500.3,169.94 500.9,169.9 501.5,169.94 502.1,169.76 502.7,170.12 503.3,169.88 503.9,169.51 504.5,169.62 505.1,169.31 505.7,170.19 506.3,169.96 506.9,169.61 507.5,169.41 508.1,169.72 508.7,169.73 509.3,169.98 509.9,170.18 510.5,169.61 511.1,169.63 511.7,169.74 512.3,169.39 512.9,169.61 513.5,169.9 514.1,169.7 514.7,169.74 515.3,170.1 515.9,169.87 516.5,169.8 517.1,169.97 517.7,169.77 518.3,170.05 518.9,170.06 519.5,169.51 520.1,169.89 520.7,169.31 521.3,169.74 521.9,169.57 522.5,169.55 523.1,169.94 523.7,169.53 524.3,169.77 524.9,169.06 525.5,169.58 526.1,169.94 526.7,169.83 527.3,169.29 527.9,169.6 528.5,168.96 529.1,170.03 529.7,169.56 530.3,169.1 530.9,169.53 531.5,169.6 532.1,169.41 532.7,169.67 533.3,169.97 533.9,169.27 534.5,169.19 535.1,169.96 535.7,169.95 536.3,169.88 536.9,169.26 537.5,169.82 538.1,169.64 538.7,169.8 539.3,169.77 539.9,168.42 540.5,169.54 541.1,169.67 541.7,169.89 542.3,169.54 542.9,169.9 543.5,169.9 544.1,169.36 544.7,169.78 545.3,169.58 545.9,169.59 546.5,169.89 547.1,169.31 547.7,169.5 548.3,169.23 548.9,169.29 549.5,169.54 550.1,169.72 550.7,169.63 551.3,169.33 551.9,169.69 552.5,169.74 553.1,169.63 553.7,169.39 554.3,169.35 554.9,169.72 555.5,169.18 556.1,168.88 556.7,169.22 557.3,169.34 557.9,168.99 558.5,169.07 559.1,169.62 559.7,169.57 560.3,169.12 560.9,169.73 561.5,169.07 562.1,169.29 562.7,169.57 563.3,169.15 563.9,169.68 564.5,169.72 565.1,169.55 565.7,169.69 566.3,169.49 566.9,169.13 567.5,169.31 568.1,169.22 568.7,169.24 569.3,169.25 569.9,169.5 570.5,169.51 571.1,168.93 571.7,169.03 572.3,169 572.9,168.89 573.5,168.52 574.1,169.29 574.7,169.21 575.3,168.54 575.9,169.2 576.5,169.24 577.1,169.47 577.7,169.42 578.3,168.91 578.9,169.5 579.5,168.99 580.1,169.2 580.7,168.96 581.3,169.21 581.9,169.28 582.5,169.62 583.1,169.53 583.7,169.04 584.3,169.1 584.9,169.46 585.5,169.48 586.1,169.38 586.7,169.44 587.3,169.19 587.9,169.07 588.5,169.43 589.1,169.17 589.1,173.75 588.5,173.85 587.9,174.12 587.3,173.82 586.7,173.81 586.1,173.63 585.5,173.64 584.9,174.27 584.3,173.98 583.7,173.9 583.1,174.04 582.5,173.95 581.9,173.76 581.3,173.78 580.7,173.9 580.1,173.75 579.5,173.79 578.9,174.79 578.3,174.27 577.7,173.98 577.1,173.73 576.5,174.19 575.9,174 575.3,173.71 574.7,174.37 574.1,173.77 573.5,173.73 572.9,174.49 572.3,174.33 571.7,174.04 571.1,173.9 570.5,173.79 569.9,174 569.3,173.83 568.7,173.8 568.1,174.47 567.5,174.6 566.9,174.66 566.3,174.34 565.7,174.42 565.1,174.12 564.5,173.91 563.9,173.91 563.3,174.2 562.7,174.11 562.1,173.94 561.5,174.28 560.9,174.02 560.3,174.69 559.7,174.73 559.1,174.18 558.5,173.82 557.9,174.15 557.3,174.85 556.7,174.12 556.1,174.13 555.5,174.13 554.9,173.96 554.3,174.06 553.7,174.15 553.1,174.73 552.5,174.26 551.9,174.22 551.3,174.22 550.7,174.44 550.1,173.93 549.5,174.95 548.9,174.56 548.3,173.94 547.7,174.29 547.1,174.1 546.5,174.24 545.9,174.84 545.3,174.86 544.7,174 544.1,174.13 543.5,174.92 542.9,174.36 542.3,173.96 541.7,173.95 541.1,174.3 540.5,174.87 539.9,174.84 539.3,174.44 538.7,173.98 538.1,174.68 537.5,174.04 536.9,174.42 536.3,174.19 535.7,174.18 535.1,174.24 534.5,174.28 533.9,174.19 533.3,174.51 532.7,174.67 532.1,174.04 531.5,174.36 530.9,174.31 530.3,174.25 529.7,174.34 529.1,174.15 528.5,174.06 527.9,174.46 527.3,174.41 526.7,174.44 526.1,174.53 525.5,175.31 524.9,174.61 524.3,174.47 523.7,174.81 523.1,174.57 522.5,174.67 521.9,174.24 521.3,174.42 520.7,174.51 520.1,174.36 519.5,174.49 518.9,175.06 518.3,174.55 517.7,174.84 517.1,174.2 516.5,174.17 515.9,174.55 515.3,174.62 514.7,174.59 514.1,174.76 513.5,174.96 512.9,174.33 512.3,174.17 511.7,174.43 511.1,174.24 510.5,174.88 509.9,174.41 509.3,174.38 508.7,174.99 508.1,174.32 507.5,174.82 506.9,174.92 506.3,174.7 505.7,174.52 505.1,174.37 504.5,174.33 503.9,175.11 503.3,174.28 502.7,174.83 502.1,174.54 501.5,174.5 500.9,174.34 500.3,174.88 499.7,174.74 499.1,174.64 498.5,174.81 497.9,174.87 497.3,174.28 496.7,174.32 496.1,175.26 495.5,174.29 494.9,174.42 494.3,174.94 493.7,174.54 493.1,175.37 492.5,174.95 491.9,174.65 491.3,174.63 490.7,174.49 490.1,174.35 489.5,175.73 488.9,174.67 488.3,174.42 487.7,174.82 487.1,174.84 486.5,174.47 485.9,174.59 485.3,174.88 484.7,174.42 484.1,174.54 483.5,174.4 482.9,174.44 482.3,174.74 481.7,174.79 481.1,174.6 480.5,174.68 479.9,174.43 479.3,174.71 478.7,175 478.1,174.68 477.5,174.56 476.9,174.45 476.3,174.61 475.7,174.46 475.1,174.5 474.5,174.97 473.9,174.59 473.3,175.19 472.7,174.53 472.1,175.4 471.5,174.86 470.9,174.72 470.3,175.14 469.7,174.71 469.1,174.63 468.5,174.5 467.9,174.53 467.3,174.51 466.7,175.41 466.1,175.49 465.5,174.83 464.9,174.75 464.3,174.71 463.7,175.14 463.1,174.72 462.5,175.04 461.9,174.9 461.3,175.37 460.7,175.31 460.1,174.68 459.5,174.57 458.9,174.89 458.3,175.37 457.7,174.72 457.1,174.96 456.5,174.83 455.9,175.17 455.3,174.79 454.7,174.72 454.1,175 453.5,174.78 452.9,174.74 452.3,174.72 451.7,175.36 451.1,174.62 450.5,176.04 449.9,174.79 449.3,174.77 448.7,175.37 448.1,174.85 447.5,175.72 446.9,174.66 446.3,174.79 445.7,174.72 445.1,175.5 444.5,175.82 443.9,175.39 443.3,174.71 442.7,174.78 442.1,175.29 441.5,174.77 440.9,175.5 440.3,175.56 439.7,175.49 439.1,175.43 438.5,175.28 437.9,175.05 437.3,175.01 436.7,175.22 436.1,175.4 435.5,174.9 434.9,175.18 434.3,174.98 433.7,175.33 433.1,174.85 432.5,175.32 431.9,174.79 431.3,175.09 430.7,174.85 430.1,174.92 429.5,175.2 428.9,175.51 428.3,175.22 427.7,175.67" fill="#1c0eb0"/>
<text x="508.45" y="200" font-size="8.6" text-anchor="middle" font-family="'Liberation Sans', sans-serif" fill="#0a0a0a">Time (ns)</text>
<text x="397.8" y="87.2" font-size="8.6" text-anchor="middle" font-family="'Liberation Sans', sans-serif" fill="#0a0a0a" transform="rotate(-90 397.8 87.2)">Fluorescence Intensity (Counts)</text>
<text x="412.3" y="171.8" font-size="8.6" text-anchor="middle" font-family="'Liberation Sans', sans-serif" fill="#0a0a0a" transform="rotate(-90 412.3 171.8)">Res.</text>
<rect x="473.9" y="116.5" width="4.4" height="4.4" fill="#b0d8f8"/>
<text x="486" y="122.3" font-size="10" font-weight="bold" text-anchor="start" font-family="'Liberation Sans', sans-serif" fill="#111">Donor with Msh4-Msh5</text>
<circle cx="476.1" cy="131.4" r="2.4" fill="#5aa0f2"/>
<text x="486" y="135" font-size="10" font-weight="bold" text-anchor="start" font-family="'Liberation Sans', sans-serif" fill="#111">DA</text>
<path d="M476.1,141 L478.9,145.8 L473.3,145.8 Z" fill="#180a86"/>
<text x="486" y="147.2" font-size="10" font-weight="bold" text-anchor="start" font-family="'Liberation Sans', sans-serif" fill="#111">DA with Msh4-Msh5</text>
<path d="M636.6,102.2 C637.15,100.92 638.79,96.92 639.89,94.52 C640.98,92.12 642.22,89.24 643.18,87.8 C644.14,86.36 644.82,86.04 645.64,85.88 C646.47,85.72 647.15,85.88 648.11,86.84 C649.07,87.8 650.4,89.4 651.4,91.64 C652.4,93.88 652.88,96.6 654.11,100.28 C655.34,103.96 656.85,109.16 658.8,113.72 C660.74,118.28 663.87,123.8 665.79,127.64 C667.7,131.48 668.73,133.8 670.31,136.76 C671.88,139.72 673.62,143.27 675.24,145.4 C676.86,147.53 678.39,148.02 680.01,149.53 C681.63,151.03 683.31,152.95 684.94,154.42 C686.57,155.9 688.16,156.97 689.79,158.36 C691.42,159.75 693.09,161.46 694.73,162.78 C696.36,164.09 697.12,164.93 699.58,166.23 C702.03,167.54 706.15,169.37 709.44,170.6 C712.73,171.83 716.03,172.8 719.31,173.62 C722.58,174.45 725.61,175.03 729.09,175.54 C732.57,176.06 736.42,176.41 740.19,176.7 C743.96,176.98 749.78,177.18 751.7,177.27" fill="none" stroke="#a8d2f8" stroke-width="1.2" stroke-linejoin="round" stroke-linecap="round"/>
<path d="M636.6,155.96 C637.29,154.84 639.34,151.08 640.71,149.24 C642.08,147.4 643.04,146.04 644.82,144.92 C646.6,143.8 649.34,142.28 651.4,142.52 C653.45,142.76 655.32,144.95 657.15,146.36 C658.99,147.77 660.77,149.45 662.42,150.97 C664.06,152.49 665.43,154.12 667.02,155.48 C668.61,156.84 670.44,158.25 671.95,159.13 C673.46,160.01 674.69,160.34 676.06,160.76 C677.43,161.18 678.8,161.51 680.17,161.62 C681.54,161.74 682.78,161.58 684.28,161.43 C685.79,161.29 687.71,160.84 689.22,160.76 C690.72,160.68 691.96,160.73 693.33,160.95 C694.7,161.18 696.07,161.74 697.44,162.1 C698.81,162.47 700.86,162.98 701.55,163.16" fill="none" stroke="#62a4f0" stroke-width="1.4" stroke-linejoin="round" stroke-linecap="round" stroke-dasharray="5,3"/>
<path d="M636.6,97.4 C637.15,96.36 638.79,92.76 639.89,91.16 C640.98,89.56 642.22,88.28 643.18,87.8 C644.14,87.32 644.82,87.72 645.64,88.28 C646.47,88.84 647.08,89.16 648.11,91.16 C649.14,93.16 650.44,96.44 651.81,100.28 C653.18,104.12 654.48,109.69 656.33,114.2 C658.18,118.71 660.72,123.27 662.91,127.35 C665.1,131.43 667.47,135.78 669.49,138.68 C671.5,141.58 673.28,143.1 674.99,144.73 C676.71,146.36 678.1,147.34 679.76,148.47 C681.42,149.61 683.27,150.47 684.94,151.54 C686.61,152.62 688.16,153.77 689.79,154.9 C691.42,156.04 693.09,157.13 694.73,158.36 C696.36,159.59 697.95,161.08 699.58,162.3 C701.21,163.51 702.86,164.58 704.51,165.66 C706.15,166.73 707.81,167.82 709.44,168.73 C711.07,169.64 712.65,170.44 714.29,171.13 C715.94,171.82 716.84,172.22 719.31,172.86 C721.77,173.5 725.83,174.36 729.09,174.97 C732.35,175.58 735.11,176.09 738.87,176.5 C742.64,176.92 749.56,177.3 751.7,177.46" fill="none" stroke="#2416a8" stroke-width="1.8" stroke-linejoin="round" stroke-linecap="round"/>
<line x1="636.5" y1="78.2" x2="636.5" y2="179.5" stroke="#262626" stroke-width="1"/>
<line x1="636" y1="179" x2="752.2" y2="179" stroke="#262626" stroke-width="1"/>
<line x1="633.9" y1="179" x2="636.5" y2="179" stroke="#262626" stroke-width="0.8"/>
<text x="633.6" y="181.35" font-size="6.6" text-anchor="end" font-family="'Liberation Sans', sans-serif" fill="#0a0a0a" textLength="3.16" lengthAdjust="spacingAndGlyphs">0</text>
<line x1="635" y1="171.8" x2="636.5" y2="171.8" stroke="#262626" stroke-width="0.7"/>
<line x1="633.9" y1="164.6" x2="636.5" y2="164.6" stroke="#262626" stroke-width="0.8"/>
<text x="633.6" y="166.95" font-size="6.6" text-anchor="end" font-family="'Liberation Sans', sans-serif" fill="#0a0a0a" textLength="6.31" lengthAdjust="spacingAndGlyphs">15</text>
<line x1="635" y1="157.4" x2="636.5" y2="157.4" stroke="#262626" stroke-width="0.7"/>
<line x1="633.9" y1="150.2" x2="636.5" y2="150.2" stroke="#262626" stroke-width="0.8"/>
<text x="633.6" y="152.55" font-size="6.6" text-anchor="end" font-family="'Liberation Sans', sans-serif" fill="#0a0a0a" textLength="6.31" lengthAdjust="spacingAndGlyphs">30</text>
<line x1="635" y1="143" x2="636.5" y2="143" stroke="#262626" stroke-width="0.7"/>
<line x1="633.9" y1="135.8" x2="636.5" y2="135.8" stroke="#262626" stroke-width="0.8"/>
<text x="633.6" y="138.15" font-size="6.6" text-anchor="end" font-family="'Liberation Sans', sans-serif" fill="#0a0a0a" textLength="6.31" lengthAdjust="spacingAndGlyphs">45</text>
<line x1="635" y1="128.6" x2="636.5" y2="128.6" stroke="#262626" stroke-width="0.7"/>
<line x1="633.9" y1="121.4" x2="636.5" y2="121.4" stroke="#262626" stroke-width="0.8"/>
<text x="633.6" y="123.75" font-size="6.6" text-anchor="end" font-family="'Liberation Sans', sans-serif" fill="#0a0a0a" textLength="6.31" lengthAdjust="spacingAndGlyphs">60</text>
<line x1="635" y1="114.2" x2="636.5" y2="114.2" stroke="#262626" stroke-width="0.7"/>
<line x1="633.9" y1="107" x2="636.5" y2="107" stroke="#262626" stroke-width="0.8"/>
<text x="633.6" y="109.35" font-size="6.6" text-anchor="end" font-family="'Liberation Sans', sans-serif" fill="#0a0a0a" textLength="6.31" lengthAdjust="spacingAndGlyphs">75</text>
<line x1="635" y1="99.8" x2="636.5" y2="99.8" stroke="#262626" stroke-width="0.7"/>
<line x1="633.9" y1="92.6" x2="636.5" y2="92.6" stroke="#262626" stroke-width="0.8"/>
<text x="633.6" y="94.95" font-size="6.6" text-anchor="end" font-family="'Liberation Sans', sans-serif" fill="#0a0a0a" textLength="6.31" lengthAdjust="spacingAndGlyphs">90</text>
<line x1="635" y1="85.4" x2="636.5" y2="85.4" stroke="#262626" stroke-width="0.7"/>
<line x1="633.9" y1="78.2" x2="636.5" y2="78.2" stroke="#262626" stroke-width="0.8"/>
<text x="633.6" y="80.55" font-size="6.6" text-anchor="end" font-family="'Liberation Sans', sans-serif" fill="#0a0a0a" textLength="9.47" lengthAdjust="spacingAndGlyphs">105</text>
<line x1="644.82" y1="179" x2="644.82" y2="181.4" stroke="#262626" stroke-width="0.8"/>
<text x="644.82" y="188.5" font-size="7" text-anchor="middle" font-family="'Liberation Sans', sans-serif" fill="#0a0a0a" textLength="9.81" lengthAdjust="spacingAndGlyphs">520</text>
<line x1="653.04" y1="179" x2="653.04" y2="180.5" stroke="#262626" stroke-width="0.8"/>
<line x1="661.26" y1="179" x2="661.26" y2="181.4" stroke="#262626" stroke-width="0.8"/>
<text x="661.26" y="188.5" font-size="7" text-anchor="middle" font-family="'Liberation Sans', sans-serif" fill="#0a0a0a" textLength="9.81" lengthAdjust="spacingAndGlyphs">540</text>
<line x1="669.49" y1="179" x2="669.49" y2="180.5" stroke="#262626" stroke-width="0.8"/>
<line x1="677.71" y1="179" x2="677.71" y2="181.4" stroke="#262626" stroke-width="0.8"/>
<text x="677.71" y="188.5" font-size="7" text-anchor="middle" font-family="'Liberation Sans', sans-serif" fill="#0a0a0a" textLength="9.81" lengthAdjust="spacingAndGlyphs">560</text>
<line x1="685.93" y1="179" x2="685.93" y2="180.5" stroke="#262626" stroke-width="0.8"/>
<line x1="694.15" y1="179" x2="694.15" y2="181.4" stroke="#262626" stroke-width="0.8"/>
<text x="694.15" y="188.5" font-size="7" text-anchor="middle" font-family="'Liberation Sans', sans-serif" fill="#0a0a0a" textLength="9.81" lengthAdjust="spacingAndGlyphs">580</text>
<line x1="702.37" y1="179" x2="702.37" y2="180.5" stroke="#262626" stroke-width="0.8"/>
<line x1="710.59" y1="179" x2="710.59" y2="181.4" stroke="#262626" stroke-width="0.8"/>
<text x="710.59" y="188.5" font-size="7" text-anchor="middle" font-family="'Liberation Sans', sans-serif" fill="#0a0a0a" textLength="9.81" lengthAdjust="spacingAndGlyphs">600</text>
<line x1="718.81" y1="179" x2="718.81" y2="180.5" stroke="#262626" stroke-width="0.8"/>
<line x1="727.04" y1="179" x2="727.04" y2="181.4" stroke="#262626" stroke-width="0.8"/>
<text x="727.04" y="188.5" font-size="7" text-anchor="middle" font-family="'Liberation Sans', sans-serif" fill="#0a0a0a" textLength="9.81" lengthAdjust="spacingAndGlyphs">620</text>
<line x1="735.26" y1="179" x2="735.26" y2="180.5" stroke="#262626" stroke-width="0.8"/>
<line x1="743.48" y1="179" x2="743.48" y2="181.4" stroke="#262626" stroke-width="0.8"/>
<text x="743.48" y="188.5" font-size="7" text-anchor="middle" font-family="'Liberation Sans', sans-serif" fill="#0a0a0a" textLength="9.81" lengthAdjust="spacingAndGlyphs">640</text>
<line x1="751.7" y1="179" x2="751.7" y2="180.5" stroke="#262626" stroke-width="0.8"/>
<text x="694.2" y="199.2" font-size="8.1" text-anchor="middle" font-family="'Liberation Sans', sans-serif" fill="#0a0a0a">Wavelength (nm)</text>
<text x="610.4" y="129.2" font-size="8.5" text-anchor="middle" font-family="'Liberation Sans', sans-serif" fill="#0a0a0a" transform="rotate(-90 610.4 129.2)">Fluorescence Intensity</text>
<text x="621.4" y="125.7" font-size="8.5" letter-spacing="0.32" text-anchor="middle" font-family="'Liberation Sans', sans-serif" fill="#0a0a0a" transform="rotate(-90 621.4 125.7)">(CPS/1X10<tspan font-size="7" dy="-2.9">5</tspan><tspan dy="2.9">)</tspan></text>
<rect x="692.2" y="84.1" width="25.4" height="49" rx="1" fill="#e6e6e6" stroke="#151515" stroke-width="1.3"/>
<rect x="695" y="123.15" width="8" height="3.3" rx="1.65" fill="#050505" filter="url(#bl)"/>
<rect x="706.8" y="88.05" width="7.6" height="3.3" rx="1.65" fill="#050505" filter="url(#bl)"/>
<rect x="707.2" y="86.1" width="6.8" height="1.2" rx="0.6" fill="#050505" filter="url(#bl)"/>
<line x1="700" y1="121" x2="708" y2="94" stroke="#aaa" stroke-width="0.4"/>
<text x="696.8" y="81.2" font-size="7.8" font-weight="bold" text-anchor="start" font-family="'Liberation Sans', sans-serif" fill="#0a0a0a" transform="rotate(-43 696.8 81.2)">DNA</text>
<text x="711.1" y="80.8" font-size="7.6" font-weight="bold" text-anchor="start" font-family="'Liberation Sans', sans-serif" fill="#0a0a0a" transform="rotate(-43 711.1 80.8)">P:D (1:1)</text>
<polyline points="539.8,21.7 576.9,21.7 589.8,37.8" fill="none" stroke="#2626e2" stroke-width="2.3" stroke-linejoin="miter"/>
<polyline points="539.8,27.2 572.3,27.2" fill="none" stroke="#2626e2" stroke-width="2.3" stroke-linejoin="miter"/>
<path d="M540,27.2 C538.81,29.62 539.81,31.38 542.5,31.6 S546.19,33.58 545,36" fill="none" stroke="#222" stroke-width="0.7"/>
<path d="M589.8,37.8 C587.01,37.67 585.75,39.35 586.65,42 S586.29,46.33 583.5,46.2" fill="none" stroke="#222" stroke-width="0.7"/>
<circle cx="545.1" cy="41.9" r="5.9" fill="#d412ea"/>
<text x="545.1" y="45.2" font-size="9.4" font-weight="bold" text-anchor="middle" font-family="'Liberation Serif', serif" fill="#0a0a0a">A</text>
<circle cx="582" cy="51.9" r="5.9" fill="#f4f22e"/>
<text x="582" y="55.2" font-size="9.4" font-weight="bold" text-anchor="middle" font-family="'Liberation Serif', serif" fill="#0a0a0a">D</text>
<line x1="547.8" y1="55.3" x2="571.9" y2="55.3" stroke="#4a4a4a" stroke-width="0.85" stroke-dasharray="1.4,1.0"/>
<polyline points="550,56.84 547.8,55.3 550,53.76" fill="none" stroke="#4a4a4a" stroke-width="0.7"/>
<polyline points="569.7,56.84 571.9,55.3 569.7,53.76" fill="none" stroke="#4a4a4a" stroke-width="0.7"/>
<line x1="592.5" y1="25.3" x2="615.6" y2="25.3" stroke="#111" stroke-width="1.5"/>
<path d="M591,25.3 l3.2,-1.9 v3.8 Z M617.1,25.3 l-3.2,-1.9 v3.8 Z" fill="#111"/>
<path d="M659.3,8 C644.23,15.12 644.23,29.38 659.3,36.5 C657.1,27.95 657.1,16.55 659.3,8 Z" fill="#c6c6c6" stroke="#8c8c8c" stroke-width="0.5"/>
<polyline points="625.3,21.7 666,22.3 682.4,25.9" fill="none" stroke="#2626e2" stroke-width="2.3" stroke-linejoin="miter"/>
<polyline points="625.3,26.8 657.4,26.8" fill="none" stroke="#2626e2" stroke-width="2.3" stroke-linejoin="miter"/>
<path d="M659.3,8 C676.9,11.42 676.9,25.67 659.3,36.5 C661.9,27.95 661.9,16.55 659.3,8 Z" fill="#5a5a5a" fill-opacity="0.88" stroke="#444" stroke-width="0.4"/>
<path d="M625.3,26.8 C623.94,29.24 624.88,31.12 627.65,31.5 S631.36,33.76 630,36.2" fill="none" stroke="#222" stroke-width="0.7"/>
<path d="M682.4,25.9 C681.25,29.13 682.77,31.21 686.2,31.1 S691.15,33.07 690,36.3" fill="none" stroke="#222" stroke-width="0.7"/>
<circle cx="630.4" cy="42" r="5.9" fill="#d412ea"/>
<text x="630.4" y="45.3" font-size="9.4" font-weight="bold" text-anchor="middle" font-family="'Liberation Serif', serif" fill="#0a0a0a">A</text>
<circle cx="691.6" cy="42" r="5.9" fill="#f4f22e"/>
<text x="691.6" y="45.3" font-size="9.4" font-weight="bold" text-anchor="middle" font-family="'Liberation Serif', serif" fill="#0a0a0a">D</text>
<text x="644.5" y="10.9" font-size="7.5" font-weight="bold" text-anchor="middle" font-family="'Liberation Serif', serif" fill="#111">Msh4</text>
<text x="677.2" y="10.9" font-size="7.5" font-weight="bold" text-anchor="middle" font-family="'Liberation Serif', serif" fill="#111">Msh5</text>
<line x1="635.6" y1="50.6" x2="685.2" y2="50.6" stroke="#4a4a4a" stroke-width="0.85" stroke-dasharray="1.4,1.0"/>
<polyline points="637.8,52.14 635.6,50.6 637.8,49.06" fill="none" stroke="#4a4a4a" stroke-width="0.7"/>
<polyline points="683,52.14 685.2,50.6 683,49.06" fill="none" stroke="#4a4a4a" stroke-width="0.7"/>
<text x="0.9" y="240.5" font-size="14" font-weight="bold" text-anchor="start" font-family="'Liberation Sans', sans-serif" fill="#000" textLength="9.1" lengthAdjust="spacingAndGlyphs">C</text>
<polyline points="62.6,253.55 62.76,256.19 62.93,258.82 63.09,261.46 63.25,264.1 63.41,266.74 63.64,269.13 63.88,271.53 64.11,273.92 64.34,276.31 64.57,278.7 64.8,281.1 65.05,283.42 65.3,285.75 65.55,288.08 65.81,290.41 66.06,292.74 66.31,295.06 66.56,297.39 66.82,299.72 67.07,302.05 67.32,304.38 67.93,306.7 68.54,309.03 69.15,311.36 69.76,313.69 71.88,316.79 72.15,319.06 72.42,321.32 72.69,323.58 72.96,325.85 73.24,328.11 73.51,330.37 74.32,332.86 74.85,335.34 75,337.82 75.21,340.3 76.03,342.79 76.28,345.12 77.59,347.44 77.52,349.77 78.47,352.1 79.12,354.43 79.69,356.76 79.87,359.08 80.7,361.41 80.94,363.74 81.79,366.07 82.28,368.4 82.79,370.72 83.28,373.44 83.74,376.16 84.53,378.87 85.23,381.59" fill="none" stroke="#aaaaaa" stroke-width="0.85" stroke-linejoin="round" stroke-linecap="round"/>
<polyline points="76.75,342.79 76.95,345.12 78.34,347.44 78.64,349.77 79.37,352.1 80.25,354.43 80.3,356.76 81.03,359.08 81.59,361.41 82.01,363.74 82.73,366.07 83.29,368.4 83.52,370.72 84.33,373.44 84.43,376.16 85.29,378.87 85.85,381.59" fill="none" stroke="#c4c4c4" stroke-width="0.7" stroke-linejoin="round" stroke-linecap="round"/>
<path d="M54.55,381.43 C54.74,377.81 55.3,366.04 55.67,359.74 C56.05,353.44 56.38,350.17 56.79,343.64 C57.21,337.1 57.75,325.7 58.14,320.51 C58.52,315.32 58.83,315.16 59.11,312.48 C59.4,309.8 59.62,308.47 59.86,304.45 C60.09,300.43 60.31,293.54 60.53,288.35 C60.76,283.15 61,277.81 61.21,273.29 C61.42,268.77 61.58,264.25 61.8,261.23 C62.02,258.21 62.25,256.5 62.55,255.17 C62.85,253.85 63.11,253.53 63.6,253.27 C64.09,253.01 65.18,253.55 65.5,253.6" fill="none" stroke="#b4f2d8" stroke-width="1.92" stroke-linejoin="round" stroke-linecap="round"/>
<polygon points="120,282.66 120.7,282.99 121.4,283.31 122.1,283.65 122.8,283.97 123.5,284.29 124.2,284.57 124.9,284.92 125.6,285.26 126.3,285.57 127,285.84 127.7,286.15 128.4,286.55 129.1,286.89 129.8,287.25 130.5,287.56 131.2,287.91 131.9,288.28 132.6,288.32 133.3,288.95 134,289.15 134.7,289.52 135.4,289.97 136.1,290.2 136.8,290.7 137.5,291.04 138.2,291.21 138.9,291.64 139.6,291.9 140.3,292.11 141,292.75 141.7,293.01 142.4,293.09 143.1,293.66 143.8,293.91 144.5,293.9 145.2,294.29 145.9,295 146.6,295.28 147.3,295.61 148,295.99 148.7,296.02 149.4,296.6 150.1,296.89 150.8,297.05 151.5,297.51 152.2,297.61 152.9,298.15 153.6,298.14 154.3,298.93 155,299.21 155.7,299.13 156.4,299.52 157.1,299.94 157.8,300.49 158.5,300.61 159.2,301.18 159.9,301.47 160.6,301.34 161.3,302.12 162,302.47 162.7,302.73 163.4,303.03 164.1,303.3 164.8,303.36 165.5,303.8 166.2,303.36 166.9,303.44 167.6,304.8 168.3,305.14 169,305.48 169.7,305.6 170.4,306.3 171.1,306.63 171.8,306.13 172.5,306.92 173.2,306.75 173.9,307.98 174.6,308 175.3,308.24 176,308.65 176.7,308.91 177.4,309.17 178.1,309.51 178.8,310.19 179.5,310.26 180.2,310.43 180.9,311.38 181.6,311.58 182.3,311.49 183,311.33 183.7,312.42 184.4,312.29 185.1,312.72 185.8,313.68 186.5,313.8 187.2,314.13 187.9,312.97 188.6,314.25 189.3,315.03 190,314.55 190.7,315.79 191.4,315.82 192.1,316.05 192.8,316.75 193.5,315.74 194.2,316.98 194.9,317.66 195.6,317.68 196.3,317.07 197,318.46 197.7,318.58 198.4,319.39 199.1,319.59 199.8,320.24 200.5,318.95 201.2,320.89 201.9,320.47 202.6,320.95 202.6,326 201.9,325.11 201.2,324.84 200.5,325.39 199.8,324.45 199.1,323.42 198.4,323.63 197.7,324.46 197,322.4 196.3,323.37 195.6,321.84 194.9,321.89 194.2,322.05 193.5,320.78 192.8,320.64 192.1,321.16 191.4,320.47 190.7,319.86 190,319.24 189.3,319.28 188.6,319.35 187.9,318.92 187.2,318.5 186.5,318.47 185.8,317.97 185.1,316.86 184.4,316.79 183.7,316.23 183,316.88 182.3,315.47 181.6,316.05 180.9,315.99 180.2,314.59 179.5,314.81 178.8,313.72 178.1,313.37 177.4,314.16 176.7,313.19 176,313.05 175.3,312.18 174.6,312.13 173.9,311.57 173.2,311.54 172.5,310.77 171.8,310.72 171.1,310.25 170.4,310.08 169.7,309.59 169,309.07 168.3,309.23 167.6,309.22 166.9,308.15 166.2,307.77 165.5,307.71 164.8,307.49 164.1,307.02 163.4,307.5 162.7,306.37 162,305.92 161.3,305.68 160.6,305.37 159.9,305.42 159.2,304.67 158.5,304.6 157.8,304.18 157.1,303.62 156.4,303.44 155.7,303.27 155,302.57 154.3,302.27 153.6,302.24 152.9,301.82 152.2,301.48 151.5,301.2 150.8,301.21 150.1,300.75 149.4,300.22 148.7,299.85 148,299.6 147.3,299.24 146.6,298.81 145.9,298.5 145.2,298.39 144.5,297.79 143.8,297.85 143.1,297.42 142.4,296.85 141.7,296.62 141,296.39 140.3,295.88 139.6,295.63 138.9,295.28 138.2,295.03 137.5,294.49 136.8,294.07 136.1,293.84 135.4,293.38 134.7,293.08 134,292.63 133.3,292.39 132.6,291.99 131.9,291.67 131.2,291.29 130.5,290.95 129.8,290.66 129.1,290.25 128.4,289.93 127.7,289.58 127,289.27 126.3,288.98 125.6,288.65 124.9,288.27 124.2,287.97 123.5,287.61 122.8,287.3 122.1,286.96 121.4,286.62 120.7,286.3 120,285.96" fill="#b4f2d8"/>
<path d="M63.6,253.27 C63.92,253.33 62.27,251.56 65.5,253.6 C68.73,255.64 76.27,261.48 83,265.5 C89.73,269.52 98.07,273.79 105.9,277.7 C113.73,281.62 124.32,286.29 130,289 C135.68,291.71 133.65,290.95 140,293.95 C146.35,296.95 157.58,302.07 168.1,307 C178.62,311.93 197.27,320.75 203.1,323.5" fill="none" stroke="#b4f2d8" stroke-width="3.3" stroke-linejoin="round" stroke-linecap="round"/>
<path d="M54.55,381.43 C54.74,377.81 55.3,366.04 55.67,359.74 C56.05,353.44 56.38,350.17 56.79,343.64 C57.21,337.1 57.75,325.7 58.14,320.51 C58.52,315.32 58.83,315.16 59.11,312.48 C59.4,309.8 59.62,308.47 59.86,304.45 C60.09,300.43 60.31,293.54 60.53,288.35 C60.76,283.15 61,277.81 61.21,273.29 C61.42,268.77 61.58,264.25 61.8,261.23 C62.02,258.21 62.25,256.5 62.55,255.17 C62.85,253.85 63.22,253.38 63.6,253.27 C63.98,253.16 64.6,254.3 64.8,254.5" fill="none" stroke="#6ee6f2" stroke-width="1.6" stroke-linejoin="round" stroke-linecap="round"/>
<polygon points="120,291.31 120.7,291.68 121.4,292.05 122.1,292.43 122.8,292.81 123.5,293.17 124.2,293.56 124.9,293.95 125.6,294.27 126.3,294.67 127,295.05 127.7,295.46 128.4,295.76 129.1,296.19 129.8,296.58 130.5,296.94 131.2,297.26 131.9,297.7 132.6,297.97 133.3,298.51 134,298.77 134.7,299.25 135.4,299.58 136.1,299.89 136.8,300.39 137.5,300.8 138.2,301.08 138.9,301.47 139.6,301.85 140.3,302.23 141,302.51 141.7,302.94 142.4,303.18 143.1,303.27 143.8,303.72 144.5,304.17 145.2,304.53 145.9,304.84 146.6,305.13 147.3,305.32 148,305.82 148.7,306.19 149.4,306.26 150.1,306.45 150.8,306.96 151.5,307.09 152.2,307.83 152.9,308.07 153.6,308.48 154.3,308.48 155,309.11 155.7,309.4 156.4,309.72 157.1,309.96 157.8,310.24 158.5,310.7 159.2,310.77 159.9,311.33 160.6,311.72 161.3,311.69 162,311.92 162.7,312.63 163.4,312.67 164.1,313.12 164.8,312.83 165.5,313.67 166.2,313.77 166.9,314.23 167.6,314.67 168.3,315.01 169,315.2 169.7,315.69 170.4,316.08 171.1,316.38 171.8,316.43 172.5,316.91 173.2,317.22 173.9,317.18 174.6,317.84 175.3,317.45 176,318.39 176.7,318.69 177.4,318.46 178.1,319.01 178.8,319.38 179.5,318.74 180.2,320.09 180.9,320.2 181.6,319.9 182.3,320.75 183,321.03 183.7,321.46 184.4,320.56 185.1,321.96 185.8,322.29 186.5,322.11 187.2,322.58 187.9,323.29 188.6,322.73 189.3,322.16 190,323.17 190.7,323.53 191.4,324.53 192.1,324.54 192.8,324.72 193.5,324.28 194.2,325.69 194.9,324.72 195.6,326.17 196.3,326.27 197,326.38 197.7,326.97 198.4,327.51 199.1,327.6 199.8,327.82 200.5,328.17 201.2,327.77 201.9,328.78 202.6,328.13 202.6,332.42 201.9,332.43 201.2,331.89 200.5,331.85 199.8,330.97 199.1,330.7 198.4,331.8 197.7,330.28 197,330.16 196.3,330.23 195.6,329.09 194.9,329.15 194.2,329.22 193.5,328.25 192.8,328.23 192.1,327.64 191.4,327.62 190.7,327.84 190,327.16 189.3,327.07 188.6,326.72 187.9,326.02 187.2,325.62 186.5,325.82 185.8,325.32 185.1,325.4 184.4,324.54 183.7,324.82 183,324.09 182.3,323.67 181.6,323.91 180.9,323.49 180.2,322.9 179.5,323.68 178.8,322.42 178.1,322.18 177.4,322.22 176.7,321.39 176,321.2 175.3,321.12 174.6,321.63 173.9,321.39 173.2,320.48 172.5,319.89 171.8,319.43 171.1,319.56 170.4,319.02 169.7,318.86 169,318.28 168.3,318.48 167.6,317.9 166.9,317.44 166.2,317.94 165.5,317.53 164.8,317.2 164.1,316.09 163.4,315.88 162.7,315.77 162,315.17 161.3,314.66 160.6,314.41 159.9,314.03 159.2,314.18 158.5,313.57 157.8,313.13 157.1,312.94 156.4,312.8 155.7,312.19 155,311.81 154.3,311.53 153.6,311.18 152.9,310.87 152.2,310.46 151.5,310.33 150.8,310.09 150.1,309.54 149.4,309.34 148.7,308.98 148,308.66 147.3,308.29 146.6,307.96 145.9,307.82 145.2,307.28 144.5,307.12 143.8,306.73 143.1,306.24 142.4,306.16 141.7,305.66 141,305.49 140.3,304.99 139.6,304.65 138.9,304.36 138.2,303.89 137.5,303.46 136.8,303.08 136.1,302.68 135.4,302.36 134.7,301.94 134,301.61 133.3,301.2 132.6,300.85 131.9,300.47 131.2,299.98 130.5,299.67 129.8,299.22 129.1,298.87 128.4,298.46 127.7,298.08 127,297.69 126.3,297.32 125.6,296.94 124.9,296.59 124.2,296.2 123.5,295.8 122.8,295.43 122.1,295.05 121.4,294.66 120.7,294.29 120,293.91" fill="#6ee6f2"/>
<path d="M63.6,253.27 C63.8,253.48 64.25,253.46 64.8,254.5 C65.35,255.54 65.7,257.58 66.9,259.5 C68.1,261.42 69.32,263.85 72,266 C74.68,268.15 77.35,269.23 83,272.4 C88.65,275.57 98.07,280.73 105.9,285 C113.73,289.27 124.32,294.92 130,298 C135.68,301.08 133.65,300.42 140,303.5 C146.35,306.58 157.58,311.95 168.1,316.5 C178.62,321.05 197.27,328.42 203.1,330.8" fill="none" stroke="#6ee6f2" stroke-width="2.6" stroke-linejoin="round" stroke-linecap="round"/>
<path d="M54.55,381.43 C54.74,377.81 55.3,366.04 55.67,359.74 C56.05,353.44 56.38,350.17 56.79,343.64 C57.21,337.1 57.75,325.7 58.14,320.51 C58.52,315.32 58.83,315.16 59.11,312.48 C59.4,309.8 59.62,308.47 59.86,304.45 C60.09,300.43 60.31,293.54 60.53,288.35 C60.76,283.15 61,277.81 61.21,273.29 C61.42,268.77 61.58,264.25 61.8,261.23 C62.02,258.21 62.25,256.5 62.55,255.17 C62.85,253.85 63.11,253.53 63.6,253.27 C64.09,253.01 65.18,253.55 65.5,253.6" fill="none" stroke="#2c5e5c" stroke-width="1.36" stroke-linejoin="round" stroke-linecap="round"/>
<path d="M63.6,253.27 C63.92,253.33 62.27,251.56 65.5,253.6 C68.73,255.64 76.27,261.42 83,265.5 C89.73,269.58 98.07,274.02 105.9,278.1 C113.73,282.18 124.32,287.15 130,290 C135.68,292.85 133.65,292.12 140,295.2 C146.35,298.28 157.58,303.53 168.1,308.5 C178.62,313.47 197.27,322.25 203.1,325" fill="none" stroke="#2c5e5c" stroke-width="2.4" stroke-linejoin="round" stroke-linecap="round"/>
<path d="M54.55,381.43 C54.74,377.81 55.3,366.04 55.67,359.74 C56.05,353.44 56.38,350.17 56.79,343.64 C57.21,337.1 57.75,325.7 58.14,320.51 C58.52,315.32 58.83,315.16 59.11,312.48 C59.4,309.8 59.62,308.47 59.86,304.45 C60.09,300.43 60.31,293.54 60.53,288.35 C60.76,283.15 61,277.81 61.21,273.29 C61.42,268.77 61.58,264.25 61.8,261.23 C62.02,258.21 62.25,256.5 62.55,255.17 C62.85,253.85 63.11,253.53 63.6,253.27 C64.09,253.01 65.18,253.55 65.5,253.6" fill="none" stroke="#1c4442" stroke-width="1.04" stroke-linejoin="round" stroke-linecap="round" stroke-dasharray="1.2,1.0"/>
<polygon points="120,284.31 120.7,284.66 121.4,285 122.1,285.34 122.8,285.69 123.5,286.03 124.2,286.38 124.9,286.72 125.6,287.06 126.3,287.41 127,287.77 127.7,288.06 128.4,288.46 129.1,288.79 129.8,289.13 130.5,289.47 131.2,289.82 131.9,290.24 132.6,290.53 133.3,290.87 134,291.32 134.7,291.68 135.4,292.03 136.1,292.4 136.8,292.78 137.5,293.1 138.2,293.48 138.9,293.81 139.6,294.23 140.3,294.5 141,294.9 141.7,295.12 142.4,295.43 143.1,295.88 143.8,296.16 144.5,296.55 145.2,296.71 145.9,297.15 146.6,297.44 147.3,297.79 148,298.15 148.7,298.51 149.4,298.81 150.1,299.03 150.8,299.51 151.5,299.75 152.2,300.1 152.9,300.43 153.6,300.74 154.3,301.02 155,301.46 155.7,301.76 156.4,301.99 157.1,302.45 157.8,302.8 158.5,303.05 159.2,303.5 159.9,303.82 160.6,304.17 161.3,304.08 162,304.63 162.7,305.17 163.4,305.22 164.1,305.84 164.8,306.15 165.5,306.47 166.2,306.7 166.9,307.14 167.6,307.23 168.3,307.75 169,308.09 169.7,308.36 170.4,308.28 171.1,309.02 171.8,309.33 172.5,309.61 173.2,309.85 173.9,310.38 174.6,310.77 175.3,311.11 176,311.45 176.7,311.65 177.4,311.77 178.1,312.31 178.8,312.79 179.5,313.12 180.2,313.39 180.9,313.74 181.6,313.88 182.3,314.23 183,314.69 183.7,315 184.4,315.16 185.1,315.67 185.8,315.3 186.5,316.33 187.2,316.73 187.9,316.87 188.6,317.01 189.3,317.26 190,317.45 190.7,318.06 191.4,318.12 192.1,318.97 192.8,319.23 193.5,319.72 194.2,319.78 194.9,320.1 195.6,320.27 196.3,320.96 197,320.52 197.7,321.31 198.4,321.79 199.1,322.3 199.8,322.57 200.5,322.67 201.2,323.32 201.9,323.61 202.6,323.69 202.6,325.87 201.9,325.48 201.2,325.06 200.5,324.61 199.8,324.36 199.1,323.89 198.4,323.65 197.7,323.56 197,323.47 196.3,322.73 195.6,322.49 194.9,322.32 194.2,322.26 193.5,321.27 192.8,321.38 192.1,321.22 191.4,320.35 190.7,320.43 190,320 189.3,319.42 188.6,319.18 187.9,318.74 187.2,318.45 186.5,318.15 185.8,317.63 185.1,317.38 184.4,316.96 183.7,316.65 183,316.5 182.3,316.26 181.6,315.91 180.9,315.99 180.2,315.13 179.5,314.69 178.8,314.49 178.1,314.37 177.4,313.78 176.7,313.31 176,313.37 175.3,312.67 174.6,312.51 173.9,312.01 173.2,311.84 172.5,311.41 171.8,311.22 171.1,310.9 170.4,310.47 169.7,310.15 169,309.84 168.3,309.36 167.6,309.25 166.9,309.03 166.2,308.43 165.5,308.42 164.8,307.71 164.1,307.5 163.4,307.04 162.7,307.04 162,306.7 161.3,306.2 160.6,305.77 159.9,305.51 159.2,305.16 158.5,304.77 157.8,304.44 157.1,304.17 156.4,303.76 155.7,303.58 155,303.35 154.3,302.83 153.6,302.51 152.9,302.09 152.2,301.81 151.5,301.52 150.8,301.06 150.1,300.76 149.4,300.52 148.7,300.25 148,299.8 147.3,299.57 146.6,299.17 145.9,298.77 145.2,298.58 144.5,298.17 143.8,297.84 143.1,297.51 142.4,297.11 141.7,296.76 141,296.5 140.3,296.12 139.6,295.77 138.9,295.44 138.2,295.08 137.5,294.71 136.8,294.29 136.1,294.04 135.4,293.56 134.7,293.22 134,292.86 133.3,292.54 132.6,292.11 131.9,291.76 131.2,291.44 130.5,291.08 129.8,290.66 129.1,290.31 128.4,289.97 127.7,289.65 127,289.27 126.3,288.95 125.6,288.59 124.9,288.23 124.2,287.89 123.5,287.55 122.8,287.2 122.1,286.86 121.4,286.51 120.7,286.16 120,285.81" fill="#1c4442"/>
<path d="M63.6,253.27 C63.92,253.33 62.27,251.56 65.5,253.6 C68.73,255.64 76.27,261.42 83,265.5 C89.73,269.58 98.07,274.02 105.9,278.1 C113.73,282.18 124.32,287.15 130,290 C135.68,292.85 133.65,292.12 140,295.2 C146.35,298.28 157.58,303.53 168.1,308.5 C178.62,313.47 197.27,322.25 203.1,325" fill="none" stroke="#1c4442" stroke-width="1.5" stroke-linejoin="round" stroke-linecap="round"/>
<path d="M63.6,253.27 C63.8,253.48 64.25,253.46 64.8,254.5 C65.35,255.54 65.7,257.58 66.9,259.5 C68.1,261.42 69.32,263.85 72,266 C74.68,268.15 77.35,269.23 83,272.4 C88.65,275.57 98.07,280.73 105.9,285 C113.73,289.27 124.32,294.92 130,298 C135.68,301.08 133.65,300.42 140,303.5 C146.35,306.58 157.58,311.95 168.1,316.5 C178.62,321.05 197.27,328.42 203.1,330.8" fill="none" stroke="#1a2a2a" stroke-width="0.8" stroke-linejoin="round" stroke-linecap="round"/>
<line x1="41.5" y1="251" x2="41.5" y2="382.1" stroke="#262626" stroke-width="1"/>
<line x1="41" y1="381.6" x2="204.8" y2="381.6" stroke="#262626" stroke-width="1"/>
<line x1="38.3" y1="381.2" x2="41.5" y2="381.2" stroke="#262626" stroke-width="0.9"/>
<text x="36.6" y="384.2" font-size="8.4" text-anchor="end" font-family="'Liberation Sans', sans-serif" fill="#0a0a0a" textLength="8.5" lengthAdjust="spacingAndGlyphs">10</text>
<line x1="39.7" y1="369.52" x2="41.5" y2="369.52" stroke="#262626" stroke-width="0.7"/>
<line x1="39.7" y1="362.69" x2="41.5" y2="362.69" stroke="#262626" stroke-width="0.7"/>
<line x1="39.7" y1="357.84" x2="41.5" y2="357.84" stroke="#262626" stroke-width="0.7"/>
<line x1="39.7" y1="354.08" x2="41.5" y2="354.08" stroke="#262626" stroke-width="0.7"/>
<line x1="39.7" y1="351.01" x2="41.5" y2="351.01" stroke="#262626" stroke-width="0.7"/>
<line x1="39.7" y1="348.41" x2="41.5" y2="348.41" stroke="#262626" stroke-width="0.7"/>
<line x1="39.7" y1="346.16" x2="41.5" y2="346.16" stroke="#262626" stroke-width="0.7"/>
<line x1="39.7" y1="344.18" x2="41.5" y2="344.18" stroke="#262626" stroke-width="0.7"/>
<line x1="38.3" y1="342.4" x2="41.5" y2="342.4" stroke="#262626" stroke-width="0.9"/>
<text x="36.6" y="345.4" font-size="8.4" text-anchor="end" font-family="'Liberation Sans', sans-serif" fill="#0a0a0a" textLength="12.75" lengthAdjust="spacingAndGlyphs">100</text>
<line x1="39.7" y1="330.72" x2="41.5" y2="330.72" stroke="#262626" stroke-width="0.7"/>
<line x1="39.7" y1="323.89" x2="41.5" y2="323.89" stroke="#262626" stroke-width="0.7"/>
<line x1="39.7" y1="319.04" x2="41.5" y2="319.04" stroke="#262626" stroke-width="0.7"/>
<line x1="39.7" y1="315.28" x2="41.5" y2="315.28" stroke="#262626" stroke-width="0.7"/>
<line x1="39.7" y1="312.21" x2="41.5" y2="312.21" stroke="#262626" stroke-width="0.7"/>
<line x1="39.7" y1="309.61" x2="41.5" y2="309.61" stroke="#262626" stroke-width="0.7"/>
<line x1="39.7" y1="307.36" x2="41.5" y2="307.36" stroke="#262626" stroke-width="0.7"/>
<line x1="39.7" y1="305.38" x2="41.5" y2="305.38" stroke="#262626" stroke-width="0.7"/>
<line x1="38.3" y1="303.6" x2="41.5" y2="303.6" stroke="#262626" stroke-width="0.9"/>
<text x="36.6" y="306.6" font-size="8.4" text-anchor="end" font-family="'Liberation Sans', sans-serif" fill="#0a0a0a" textLength="17" lengthAdjust="spacingAndGlyphs">1000</text>
<line x1="39.7" y1="291.92" x2="41.5" y2="291.92" stroke="#262626" stroke-width="0.7"/>
<line x1="39.7" y1="285.09" x2="41.5" y2="285.09" stroke="#262626" stroke-width="0.7"/>
<line x1="39.7" y1="280.24" x2="41.5" y2="280.24" stroke="#262626" stroke-width="0.7"/>
<line x1="39.7" y1="276.48" x2="41.5" y2="276.48" stroke="#262626" stroke-width="0.7"/>
<line x1="39.7" y1="273.41" x2="41.5" y2="273.41" stroke="#262626" stroke-width="0.7"/>
<line x1="39.7" y1="270.81" x2="41.5" y2="270.81" stroke="#262626" stroke-width="0.7"/>
<line x1="39.7" y1="268.56" x2="41.5" y2="268.56" stroke="#262626" stroke-width="0.7"/>
<line x1="39.7" y1="266.58" x2="41.5" y2="266.58" stroke="#262626" stroke-width="0.7"/>
<line x1="38.3" y1="264.8" x2="41.5" y2="264.8" stroke="#262626" stroke-width="0.9"/>
<text x="36.6" y="267.8" font-size="8.4" text-anchor="end" font-family="'Liberation Sans', sans-serif" fill="#0a0a0a" textLength="21.25" lengthAdjust="spacingAndGlyphs">10000</text>
<line x1="39.7" y1="253.12" x2="41.5" y2="253.12" stroke="#262626" stroke-width="0.7"/>
<line x1="41.5" y1="381.6" x2="41.5" y2="383.8" stroke="#262626" stroke-width="0.8"/>
<line x1="61.85" y1="381.6" x2="61.85" y2="383.8" stroke="#262626" stroke-width="0.8"/>
<line x1="82.2" y1="381.6" x2="82.2" y2="383.8" stroke="#262626" stroke-width="0.8"/>
<line x1="102.55" y1="381.6" x2="102.55" y2="383.8" stroke="#262626" stroke-width="0.8"/>
<line x1="122.9" y1="381.6" x2="122.9" y2="383.8" stroke="#262626" stroke-width="0.8"/>
<line x1="143.25" y1="381.6" x2="143.25" y2="383.8" stroke="#262626" stroke-width="0.8"/>
<line x1="163.6" y1="381.6" x2="163.6" y2="383.8" stroke="#262626" stroke-width="0.8"/>
<line x1="183.95" y1="381.6" x2="183.95" y2="383.8" stroke="#262626" stroke-width="0.8"/>
<line x1="204.3" y1="381.6" x2="204.3" y2="383.8" stroke="#262626" stroke-width="0.8"/>
<line x1="41.5" y1="393.2" x2="41.5" y2="411" stroke="#262626" stroke-width="1"/>
<line x1="41" y1="410.5" x2="204.8" y2="410.5" stroke="#262626" stroke-width="1"/>
<line x1="38.5" y1="393.2" x2="41.5" y2="393.2" stroke="#262626" stroke-width="0.9"/>
<text x="36.9" y="396.2" font-size="8.4" text-anchor="end" font-family="'Liberation Sans', sans-serif" fill="#0a0a0a" textLength="4.25" lengthAdjust="spacingAndGlyphs">5</text>
<line x1="38.5" y1="401.6" x2="41.5" y2="401.6" stroke="#262626" stroke-width="0.9"/>
<text x="36.9" y="404.6" font-size="8.4" text-anchor="end" font-family="'Liberation Sans', sans-serif" fill="#0a0a0a" textLength="4.25" lengthAdjust="spacingAndGlyphs">0</text>
<line x1="38.5" y1="410.5" x2="41.5" y2="410.5" stroke="#262626" stroke-width="0.9"/>
<text x="36.9" y="413.5" font-size="8.4" text-anchor="end" font-family="'Liberation Sans', sans-serif" fill="#0a0a0a" textLength="6.8" lengthAdjust="spacingAndGlyphs">-5</text>
<line x1="39.9" y1="397.4" x2="41.5" y2="397.4" stroke="#262626" stroke-width="0.7"/>
<line x1="39.9" y1="406.05" x2="41.5" y2="406.05" stroke="#262626" stroke-width="0.7"/>
<line x1="41.5" y1="410.5" x2="41.5" y2="413.1" stroke="#262626" stroke-width="0.8"/>
<text x="41.5" y="422.1" font-size="8.3" text-anchor="middle" font-family="'Liberation Sans', sans-serif" fill="#0a0a0a" textLength="4.34" lengthAdjust="spacingAndGlyphs">5</text>
<line x1="61.85" y1="410.5" x2="61.85" y2="412.1" stroke="#262626" stroke-width="0.8"/>
<line x1="82.2" y1="410.5" x2="82.2" y2="413.1" stroke="#262626" stroke-width="0.8"/>
<text x="82.2" y="422.1" font-size="8.3" text-anchor="middle" font-family="'Liberation Sans', sans-serif" fill="#0a0a0a" textLength="8.68" lengthAdjust="spacingAndGlyphs">10</text>
<line x1="102.55" y1="410.5" x2="102.55" y2="412.1" stroke="#262626" stroke-width="0.8"/>
<line x1="122.9" y1="410.5" x2="122.9" y2="413.1" stroke="#262626" stroke-width="0.8"/>
<text x="122.9" y="422.1" font-size="8.3" text-anchor="middle" font-family="'Liberation Sans', sans-serif" fill="#0a0a0a" textLength="8.68" lengthAdjust="spacingAndGlyphs">15</text>
<line x1="143.25" y1="410.5" x2="143.25" y2="412.1" stroke="#262626" stroke-width="0.8"/>
<line x1="163.6" y1="410.5" x2="163.6" y2="413.1" stroke="#262626" stroke-width="0.8"/>
<text x="163.6" y="422.1" font-size="8.3" text-anchor="middle" font-family="'Liberation Sans', sans-serif" fill="#0a0a0a" textLength="8.68" lengthAdjust="spacingAndGlyphs">20</text>
<line x1="183.95" y1="410.5" x2="183.95" y2="412.1" stroke="#262626" stroke-width="0.8"/>
<line x1="204.3" y1="410.5" x2="204.3" y2="413.1" stroke="#262626" stroke-width="0.8"/>
<text x="204.3" y="422.1" font-size="8.3" text-anchor="middle" font-family="'Liberation Sans', sans-serif" fill="#0a0a0a" textLength="8.68" lengthAdjust="spacingAndGlyphs">25</text>
<polygon points="42.1,400.21 42.7,400.38 43.3,399.88 43.9,400.45 44.5,400.4 45.1,400.03 45.7,399.51 46.3,399.8 46.9,400.31 47.5,399.97 48.1,400.09 48.7,400.45 49.3,400.08 49.9,400.33 50.5,400.27 51.1,400.07 51.7,399.35 52.3,400.32 52.9,400.36 53.5,399.57 54.1,399.54 54.7,399.58 55.3,400.13 55.9,400.02 56.5,400.45 57.1,400.39 57.7,399.71 58.3,400.01 58.9,400.36 59.5,400.25 60.1,399.45 60.7,400.19 61.3,399.77 61.9,400.39 62.5,399.69 63.1,400.14 63.7,399.82 64.3,400.34 64.9,400.1 65.5,400.44 66.1,399.77 66.7,400.35 67.3,399.62 67.9,400.2 68.5,399.98 69.1,400.29 69.7,400.5 70.3,400.03 70.9,400.47 71.5,400.15 72.1,399.91 72.7,399.95 73.3,399.8 73.9,400.3 74.5,399.91 75.1,400.16 75.7,400.07 76.3,400.12 76.9,400.45 77.5,400.29 78.1,400.5 78.7,400.2 79.3,399.88 79.9,400.44 80.5,400.48 81.1,400.22 81.7,400.1 82.3,399.59 82.9,400.16 83.5,400.17 84.1,400.01 84.7,399.94 85.3,399.7 85.9,400.36 86.5,400.36 87.1,400.3 87.7,400.09 88.3,400.18 88.9,400.14 89.5,399.54 90.1,400.24 90.7,400.25 91.3,400.47 91.9,399.73 92.5,399.47 93.1,400.43 93.7,399.98 94.3,400.18 94.9,400.49 95.5,400.09 96.1,400.41 96.7,400.46 97.3,399.77 97.9,400.48 98.5,399.76 99.1,400.32 99.7,399.96 100.3,400.42 100.9,399.36 101.5,400.36 102.1,399.46 102.7,400.41 103.3,400.03 103.9,400.47 104.5,400.44 105.1,400.49 105.7,400.16 106.3,400.32 106.9,399.46 107.5,400.08 108.1,400.35 108.7,400.24 109.3,399.75 109.9,400.24 110.5,399.67 111.1,400.13 111.7,399.98 112.3,400.18 112.9,400.46 113.5,400.47 114.1,399.72 114.7,400.03 115.3,400.47 115.9,399.72 116.5,400.47 117.1,400.19 117.7,400.49 118.3,400.45 118.9,400.14 119.5,400.26 120.1,399.29 120.7,400.23 121.3,400.07 121.9,400 122.5,400.49 123.1,400.24 123.7,399.91 124.3,400.37 124.9,400.29 125.5,400.18 126.1,400.07 126.7,400.35 127.3,400.06 127.9,399.9 128.5,400.38 129.1,400.43 129.7,400.22 130.3,400.26 130.9,400.41 131.5,399.89 132.1,400.25 132.7,400.27 133.3,399.95 133.9,400.48 134.5,399.95 135.1,400.48 135.7,400.44 136.3,400.32 136.9,400.25 137.5,400.22 138.1,400.22 138.7,400.48 139.3,400.37 139.9,400.13 140.5,399.64 141.1,400.34 141.7,400.47 142.3,400.33 142.9,399.93 143.5,399.83 144.1,400.1 144.7,400.42 145.3,399.89 145.9,399.98 146.5,399.65 147.1,400.35 147.7,400.06 148.3,400.49 148.9,400.42 149.5,399.72 150.1,400.44 150.7,399.42 151.3,399.86 151.9,400.06 152.5,400.24 153.1,399.13 153.7,400.28 154.3,399.82 154.9,400.44 155.5,400.5 156.1,400.3 156.7,400.33 157.3,400.34 157.9,400.3 158.5,400.34 159.1,400.23 159.7,399.57 160.3,400.35 160.9,400.45 161.5,400.37 162.1,400.44 162.7,400.21 163.3,400.44 163.9,400.03 164.5,399.84 165.1,400.37 165.7,400.33 166.3,400.27 166.9,400.27 167.5,400.32 168.1,400.49 168.7,399 169.3,399.92 169.9,400.37 170.5,400.48 171.1,400.3 171.7,400.07 172.3,400.44 172.9,400.44 173.5,399.51 174.1,400.05 174.7,400.34 175.3,400.18 175.9,400.21 176.5,400.22 177.1,400.07 177.7,399.81 178.3,400.49 178.9,399.71 179.5,399.69 180.1,400.47 180.7,400.49 181.3,399.8 181.9,400.08 182.5,400.02 183.1,399.96 183.7,399.91 184.3,399.74 184.9,400.47 185.5,400.41 186.1,400.07 186.7,400.06 187.3,400.32 187.9,400.26 188.5,400.3 189.1,400.14 189.7,399.62 190.3,400.47 190.9,399.75 191.5,400.32 192.1,399.77 192.7,400.09 193.3,399.78 193.9,399.45 194.5,400.46 195.1,400.04 195.7,399.98 196.3,400.21 196.9,399.98 197.5,399.96 198.1,400.38 198.7,399.68 199.3,400.41 199.9,400.39 200.5,400.05 201.1,400.39 201.7,399.99 202.3,400.12 202.9,400.28 203.5,400.47 204.1,400.3 204.1,404.72 203.5,404.6 202.9,403.98 202.3,404.5 201.7,404.03 201.1,404.22 200.5,403.99 199.9,403.77 199.3,403.94 198.7,404.66 198.1,404.16 197.5,404.21 196.9,403.75 196.3,404.23 195.7,404.11 195.1,404.16 194.5,404.13 193.9,403.9 193.3,404.48 192.7,403.82 192.1,404.22 191.5,404.23 190.9,404.04 190.3,403.89 189.7,403.85 189.1,403.96 188.5,404.02 187.9,403.95 187.3,404.55 186.7,403.83 186.1,404.16 185.5,403.83 184.9,404.45 184.3,404.6 183.7,404.54 183.1,404.5 182.5,404.49 181.9,404.16 181.3,404.35 180.7,404.43 180.1,404.62 179.5,403.75 178.9,404.14 178.3,404.07 177.7,404.49 177.1,403.98 176.5,403.93 175.9,404.09 175.3,404.06 174.7,404.06 174.1,404.56 173.5,404.43 172.9,404.38 172.3,403.73 171.7,404.6 171.1,404.18 170.5,404.16 169.9,403.98 169.3,404.49 168.7,403.99 168.1,404.08 167.5,404.12 166.9,403.76 166.3,403.94 165.7,404.5 165.1,404.24 164.5,403.88 163.9,404.02 163.3,404.75 162.7,403.96 162.1,405.03 161.5,403.92 160.9,404.22 160.3,403.97 159.7,403.89 159.1,403.83 158.5,403.88 157.9,404.53 157.3,403.74 156.7,403.84 156.1,403.78 155.5,404.56 154.9,403.88 154.3,403.85 153.7,403.84 153.1,404.03 152.5,404.01 151.9,404.04 151.3,403.98 150.7,404.08 150.1,404.18 149.5,403.81 148.9,404.13 148.3,404.44 147.7,404.07 147.1,403.82 146.5,403.86 145.9,404.3 145.3,403.73 144.7,403.94 144.1,404.09 143.5,404.64 142.9,403.88 142.3,403.84 141.7,403.87 141.1,404.11 140.5,403.93 139.9,404.4 139.3,404.55 138.7,403.99 138.1,404.38 137.5,403.9 136.9,404.34 136.3,404.39 135.7,404.05 135.1,403.82 134.5,403.99 133.9,404.09 133.3,404.14 132.7,404.32 132.1,403.81 131.5,404.11 130.9,404.05 130.3,404.57 129.7,403.87 129.1,403.91 128.5,404.59 127.9,404.22 127.3,404.33 126.7,403.76 126.1,404.76 125.5,404.19 124.9,404.48 124.3,404.07 123.7,404.08 123.1,403.85 122.5,403.87 121.9,403.98 121.3,403.76 120.7,404.06 120.1,404.23 119.5,403.73 118.9,405.13 118.3,404.09 117.7,403.74 117.1,403.71 116.5,403.89 115.9,403.87 115.3,403.78 114.7,404.17 114.1,404.28 113.5,404.63 112.9,404.12 112.3,403.77 111.7,404.28 111.1,404.32 110.5,403.9 109.9,404.11 109.3,403.78 108.7,404.21 108.1,404.21 107.5,403.92 106.9,404.29 106.3,403.8 105.7,404.08 105.1,403.83 104.5,404.04 103.9,403.96 103.3,404.27 102.7,404.51 102.1,403.96 101.5,404.19 100.9,404.23 100.3,404.05 99.7,404.84 99.1,404.4 98.5,403.82 97.9,403.77 97.3,403.83 96.7,404.4 96.1,403.88 95.5,404.15 94.9,404.07 94.3,404.4 93.7,404.09 93.1,403.89 92.5,404.46 91.9,404.16 91.3,404.43 90.7,403.72 90.1,404.38 89.5,403.88 88.9,404.08 88.3,404.97 87.7,403.75 87.1,403.82 86.5,403.79 85.9,404.88 85.3,404.67 84.7,404.18 84.1,403.85 83.5,404.28 82.9,403.83 82.3,404.21 81.7,404.16 81.1,403.77 80.5,403.95 79.9,403.96 79.3,403.88 78.7,403.94 78.1,403.71 77.5,403.91 76.9,403.79 76.3,403.95 75.7,403.81 75.1,403.8 74.5,405.58 73.9,404.63 73.3,403.74 72.7,403.89 72.1,403.79 71.5,403.82 70.9,403.77 70.3,403.89 69.7,404.36 69.1,403.95 68.5,403.82 67.9,403.87 67.3,404.32 66.7,404.03 66.1,404.5 65.5,404.68 64.9,404.84 64.3,403.93 63.7,403.7 63.1,403.78 62.5,403.85 61.9,403.71 61.3,403.75 60.7,403.74 60.1,404.68 59.5,404.1 58.9,404.01 58.3,403.95 57.7,403.9 57.1,404.83 56.5,403.9 55.9,404.58 55.3,403.76 54.7,404.46 54.1,403.93 53.5,404.09 52.9,404.51 52.3,403.77 51.7,403.93 51.1,403.9 50.5,403.79 49.9,404.02 49.3,404.09 48.7,403.92 48.1,404.07 47.5,403.8 46.9,404.01 46.3,403.93 45.7,403.88 45.1,404.24 44.5,404.18 43.9,404.02 43.3,404.28 42.7,404.09 42.1,403.94" fill="#6ee6f2"/>
<polygon points="42.1,400.33 42.7,400.3 43.3,400.49 43.9,400.6 44.5,400.67 45.1,400.31 45.7,400.6 46.3,399.18 46.9,400.12 47.5,400.39 48.1,400.14 48.7,400.48 49.3,400.49 49.9,400.29 50.5,400.1 51.1,400.3 51.7,400.29 52.3,400.39 52.9,400.58 53.5,400.48 54.1,400.64 54.7,400.31 55.3,400.67 55.9,400.4 56.5,400.7 57.1,400.69 57.7,400.49 58.3,400.51 58.9,400.22 59.5,400.7 60.1,400.63 60.7,400.28 61.3,399.9 61.9,400.56 62.5,400.13 63.1,400.61 63.7,400.22 64.3,400.38 64.9,400.67 65.5,400.63 66.1,400.29 66.7,400.63 67.3,400.67 67.9,400.59 68.5,400.48 69.1,400.33 69.7,400.3 70.3,400.33 70.9,400.55 71.5,400.57 72.1,400.21 72.7,400.35 73.3,400.48 73.9,400.38 74.5,400.54 75.1,400.4 75.7,400.02 76.3,400.66 76.9,400.16 77.5,400.4 78.1,400.57 78.7,400.4 79.3,400.51 79.9,400.25 80.5,400.58 81.1,400.56 81.7,400.28 82.3,400.52 82.9,400.14 83.5,400.67 84.1,400.52 84.7,400.37 85.3,400.44 85.9,399.91 86.5,400.44 87.1,400.53 87.7,400.22 88.3,400.68 88.9,400.45 89.5,400.33 90.1,400.65 90.7,400.61 91.3,400.67 91.9,400.66 92.5,400.63 93.1,400.68 93.7,400.65 94.3,400.56 94.9,400.28 95.5,400.57 96.1,400.37 96.7,400.5 97.3,400.48 97.9,400.11 98.5,400.69 99.1,400.6 99.7,400.53 100.3,400.16 100.9,400.58 101.5,400.58 102.1,400.3 102.7,400.37 103.3,400.33 103.9,400.49 104.5,400.6 105.1,400.15 105.7,400.6 106.3,400.51 106.9,400.69 107.5,400.18 108.1,400.33 108.7,400.58 109.3,400.01 109.9,400.44 110.5,400.03 111.1,400.21 111.7,400.52 112.3,400.54 112.9,400.69 113.5,400.5 114.1,400.66 114.7,400.59 115.3,400.48 115.9,400.65 116.5,399.85 117.1,400.26 117.7,400.56 118.3,400.61 118.9,400.54 119.5,400.24 120.1,400.58 120.7,400.69 121.3,400.54 121.9,400.45 122.5,400.58 123.1,400 123.7,400.69 124.3,400.67 124.9,400.31 125.5,399.97 126.1,400.18 126.7,400.48 127.3,400.16 127.9,400.17 128.5,400.68 129.1,400.61 129.7,400.14 130.3,400.59 130.9,400.64 131.5,399.97 132.1,400.33 132.7,400.13 133.3,400.68 133.9,400.47 134.5,400.32 135.1,400.27 135.7,400.38 136.3,399.71 136.9,400.14 137.5,400.36 138.1,400.51 138.7,400.66 139.3,400.55 139.9,400.26 140.5,400.32 141.1,400.15 141.7,400.66 142.3,400.5 142.9,400.28 143.5,400.54 144.1,400.38 144.7,400.28 145.3,400.09 145.9,400.7 146.5,400.56 147.1,399.99 147.7,400.63 148.3,400.03 148.9,400.55 149.5,400.16 150.1,400.46 150.7,400.66 151.3,400.3 151.9,400.52 152.5,400.52 153.1,400.52 153.7,400.44 154.3,400.42 154.9,400.4 155.5,400.67 156.1,400.32 156.7,400.1 157.3,400.51 157.9,399.91 158.5,400.37 159.1,400.67 159.7,400.65 160.3,400.59 160.9,399.91 161.5,400.57 162.1,400.23 162.7,400.03 163.3,400.54 163.9,400.47 164.5,400.44 165.1,400.57 165.7,400.26 166.3,400.59 166.9,400.21 167.5,400.44 168.1,399.72 168.7,400.46 169.3,400.59 169.9,399.87 170.5,400.53 171.1,400.34 171.7,400.32 172.3,400.67 172.9,400.64 173.5,400.62 174.1,400.45 174.7,400.39 175.3,400.29 175.9,400.25 176.5,400.1 177.1,400.53 177.7,400.69 178.3,400.5 178.9,400.24 179.5,399.59 180.1,400.34 180.7,400.4 181.3,400.39 181.9,400.48 182.5,400.57 183.1,400.42 183.7,400.64 184.3,400.24 184.9,400.36 185.5,400.64 186.1,400.36 186.7,400.65 187.3,400.67 187.9,400.69 188.5,400.36 189.1,400.4 189.7,400.61 190.3,400.5 190.9,399.91 191.5,400.52 192.1,400.57 192.7,400.63 193.3,400.48 193.9,400.55 194.5,400.46 195.1,400.53 195.7,400.35 196.3,400.6 196.9,400.65 197.5,400.21 198.1,400.58 198.7,400.61 199.3,400.38 199.9,400.24 200.5,400.61 201.1,400.44 201.7,400.23 202.3,400.07 202.9,400.45 203.5,400.51 204.1,400.25 204.1,403.78 203.5,403.64 202.9,403.51 202.3,403.91 201.7,403.71 201.1,403.95 200.5,403.91 199.9,403.85 199.3,403.51 198.7,403.59 198.1,403.66 197.5,403.97 196.9,403.59 196.3,403.86 195.7,404.19 195.1,403.75 194.5,403.6 193.9,403.89 193.3,403.8 192.7,403.63 192.1,403.56 191.5,403.63 190.9,403.52 190.3,403.83 189.7,404.01 189.1,404.01 188.5,403.55 187.9,403.65 187.3,404.15 186.7,404.09 186.1,403.63 185.5,403.52 184.9,403.63 184.3,403.51 183.7,403.7 183.1,403.88 182.5,403.66 181.9,403.66 181.3,403.6 180.7,403.98 180.1,403.86 179.5,403.54 178.9,404.24 178.3,403.77 177.7,403.78 177.1,403.52 176.5,403.77 175.9,403.8 175.3,404.32 174.7,403.79 174.1,403.61 173.5,403.64 172.9,403.71 172.3,403.55 171.7,403.77 171.1,403.52 170.5,403.92 169.9,403.91 169.3,403.5 168.7,404 168.1,403.98 167.5,403.96 166.9,403.95 166.3,403.9 165.7,403.53 165.1,403.52 164.5,403.55 163.9,403.68 163.3,403.79 162.7,403.69 162.1,403.66 161.5,403.81 160.9,403.83 160.3,403.98 159.7,403.67 159.1,403.58 158.5,403.79 157.9,403.95 157.3,403.52 156.7,404.16 156.1,404.12 155.5,403.97 154.9,403.83 154.3,403.51 153.7,403.8 153.1,403.62 152.5,403.91 151.9,403.6 151.3,404.3 150.7,403.89 150.1,404.03 149.5,403.83 148.9,403.56 148.3,403.64 147.7,403.99 147.1,404.11 146.5,404.25 145.9,404.27 145.3,403.6 144.7,404.19 144.1,403.5 143.5,403.65 142.9,403.99 142.3,403.59 141.7,403.82 141.1,403.61 140.5,403.58 139.9,404.1 139.3,403.52 138.7,403.58 138.1,403.69 137.5,403.87 136.9,403.65 136.3,403.84 135.7,403.92 135.1,403.89 134.5,403.62 133.9,403.77 133.3,403.89 132.7,403.78 132.1,403.5 131.5,403.9 130.9,403.83 130.3,404 129.7,403.52 129.1,403.63 128.5,404.07 127.9,403.7 127.3,403.96 126.7,403.67 126.1,403.82 125.5,403.86 124.9,403.76 124.3,403.96 123.7,403.7 123.1,403.9 122.5,404.28 121.9,403.82 121.3,403.63 120.7,403.77 120.1,403.78 119.5,404.47 118.9,404.1 118.3,404.25 117.7,403.81 117.1,403.71 116.5,403.72 115.9,403.86 115.3,403.9 114.7,403.85 114.1,403.5 113.5,404.08 112.9,403.53 112.3,403.81 111.7,403.57 111.1,404.1 110.5,404.01 109.9,403.69 109.3,403.72 108.7,403.94 108.1,403.58 107.5,403.6 106.9,403.62 106.3,403.77 105.7,403.7 105.1,403.52 104.5,404.44 103.9,403.67 103.3,403.55 102.7,403.56 102.1,403.83 101.5,403.69 100.9,403.62 100.3,403.57 99.7,403.56 99.1,403.51 98.5,403.97 97.9,403.89 97.3,403.77 96.7,404.04 96.1,403.67 95.5,403.57 94.9,403.64 94.3,404.26 93.7,404.07 93.1,403.62 92.5,403.69 91.9,403.61 91.3,403.57 90.7,403.69 90.1,403.81 89.5,403.73 88.9,403.72 88.3,403.84 87.7,403.89 87.1,403.8 86.5,403.81 85.9,403.66 85.3,403.7 84.7,403.51 84.1,403.86 83.5,403.58 82.9,404 82.3,403.63 81.7,403.65 81.1,403.79 80.5,403.95 79.9,404.01 79.3,403.56 78.7,403.99 78.1,403.92 77.5,403.72 76.9,404.07 76.3,403.82 75.7,403.53 75.1,403.84 74.5,403.63 73.9,403.93 73.3,403.79 72.7,403.57 72.1,403.74 71.5,403.67 70.9,403.94 70.3,403.63 69.7,403.57 69.1,403.55 68.5,403.51 67.9,403.79 67.3,403.64 66.7,403.7 66.1,403.76 65.5,403.7 64.9,403.76 64.3,403.5 63.7,403.62 63.1,403.67 62.5,403.76 61.9,403.55 61.3,403.77 60.7,404.18 60.1,403.77 59.5,404.05 58.9,403.79 58.3,403.63 57.7,403.92 57.1,403.92 56.5,403.76 55.9,403.97 55.3,403.52 54.7,403.53 54.1,403.86 53.5,403.66 52.9,403.85 52.3,403.89 51.7,403.68 51.1,403.62 50.5,403.95 49.9,403.56 49.3,403.61 48.7,403.74 48.1,403.69 47.5,404.2 46.9,403.73 46.3,403.92 45.7,403.67 45.1,403.62 44.5,403.72 43.9,403.8 43.3,403.6 42.7,403.88 42.1,403.52" fill="#2e6e6e"/>
<text x="122.9" y="430.7" font-size="8.6" text-anchor="middle" font-family="'Liberation Sans', sans-serif" fill="#0a0a0a">Time (ns)</text>
<text x="11.8" y="314.8" font-size="8.6" text-anchor="middle" font-family="'Liberation Sans', sans-serif" fill="#0a0a0a" transform="rotate(-90 11.8 314.8)">Fluorescence Intensity (Counts)</text>
<text x="24.9" y="399.5" font-size="8.6" text-anchor="middle" font-family="'Liberation Sans', sans-serif" fill="#0a0a0a" transform="rotate(-90 24.9 399.5)">Res.</text>
<rect x="90.7" y="345.2" width="4.4" height="4.4" fill="#b4f2d8"/>
<text x="102.9" y="351" font-size="10" font-weight="bold" text-anchor="start" font-family="'Liberation Sans', sans-serif" fill="#111">Donor with Msh4-Msh5</text>
<rect x="90.7" y="358.3" width="4.4" height="4.4" fill="#6ee6f2"/>
<text x="102.9" y="364.1" font-size="10" font-weight="bold" text-anchor="start" font-family="'Liberation Sans', sans-serif" fill="#111">DA</text>
<rect x="90.7" y="370.4" width="4.4" height="4.4" fill="#2e6666"/>
<text x="102.9" y="376.2" font-size="10" font-weight="bold" text-anchor="start" font-family="'Liberation Sans', sans-serif" fill="#111">DA with Msh4-Msh5</text>
<path d="M253.4,330.68 C253.96,329.63 255.54,325.95 256.73,324.37 C257.93,322.79 259.45,321.45 260.56,321.21 C261.67,320.97 262.37,321.88 263.39,322.93 C264.42,323.98 265.13,324.7 266.73,327.53 C268.32,330.35 270.89,335.42 272.97,339.87 C275.05,344.32 277.15,349.78 279.22,354.23 C281.29,358.68 283.3,362.89 285.38,366.58 C287.46,370.26 289.68,373.61 291.71,376.34 C293.74,379.07 295.6,380.65 297.54,382.94 C299.48,385.24 301.84,388.4 303.37,390.12 C304.9,391.85 305.31,392.23 306.7,393.28 C308.09,394.33 309.76,395.2 311.7,396.44 C313.64,397.68 315.38,399.44 318.36,400.75 C321.35,402.06 325.86,403.43 329.61,404.31 C333.35,405.18 337.03,405.57 340.85,406 C344.67,406.43 347.65,406.61 352.51,406.89 C357.37,407.17 367.08,407.56 370,407.7" fill="none" stroke="#a8f2d2" stroke-width="1.2" stroke-linejoin="round" stroke-linecap="round"/>
<path d="M253.4,376.91 C254.09,376.44 256.04,374.76 257.56,374.04 C259.09,373.32 260.9,372.27 262.56,372.61 C264.23,372.94 265.82,374.66 267.56,376.05 C269.29,377.44 271.17,379.35 272.97,380.93 C274.78,382.51 276.65,384.19 278.39,385.53 C280.12,386.87 281.58,388.02 283.38,388.97 C285.19,389.93 287.55,391.18 289.21,391.27 C290.88,391.37 292.13,390.27 293.38,389.55 C294.63,388.83 295.6,387.73 296.71,386.96 C297.82,386.2 298.57,385.89 300.04,384.95 C301.51,384.02 303.87,381.96 305.54,381.37 C307.2,380.77 308.31,380.77 310.03,381.37 C311.76,381.96 313.78,383.42 315.86,384.95 C317.95,386.49 320.24,388.47 322.53,390.55 C324.82,392.64 327.66,395.91 329.61,397.44 C331.55,398.98 333.42,399.36 334.19,399.74" fill="none" stroke="#7ee8f6" stroke-width="1.4" stroke-linejoin="round" stroke-linecap="round" stroke-dasharray="5,3"/>
<path d="M253.4,339.59 C253.96,338.63 255.54,335.28 256.73,333.84 C257.93,332.41 259.45,331.31 260.56,330.97 C261.67,330.64 262.37,331.26 263.39,331.83 C264.42,332.41 265.13,332.41 266.73,334.42 C268.32,336.43 270.89,340.3 272.97,343.89 C275.05,347.48 277.15,352.17 279.22,355.95 C281.29,359.73 283.3,363.37 285.38,366.58 C287.46,369.78 290.1,373.49 291.71,375.19 C293.32,376.89 294.03,376.53 295.04,376.77 C296.06,377.01 296.82,376.75 297.79,376.63 C298.76,376.51 299.8,376.24 300.87,376.05 C301.94,375.86 303.05,375.48 304.2,375.48 C305.36,375.48 306.54,375.48 307.79,376.05 C309.03,376.63 310.55,378.04 311.7,378.92 C312.85,379.81 313.03,379.71 314.7,381.37 C316.36,383.02 319.42,386.53 321.69,388.83 C323.97,391.13 326.07,393.33 328.36,395.15 C330.65,396.97 332.94,398.4 335.44,399.74 C337.94,401.08 340.5,402.25 343.35,403.19 C346.19,404.12 349.04,404.72 352.51,405.34 C355.98,405.96 361.25,406.59 364.17,406.92 C367.09,407.26 369.03,407.28 370,407.35" fill="none" stroke="#2a6a6c" stroke-width="1.6" stroke-linejoin="round" stroke-linecap="round"/>
<line x1="253.2" y1="308" x2="253.2" y2="409" stroke="#262626" stroke-width="1"/>
<line x1="252.7" y1="408.5" x2="370.5" y2="408.5" stroke="#262626" stroke-width="1"/>
<line x1="250.6" y1="408.5" x2="253.2" y2="408.5" stroke="#262626" stroke-width="0.8"/>
<text x="250.3" y="410.85" font-size="6.6" text-anchor="end" font-family="'Liberation Sans', sans-serif" fill="#0a0a0a" textLength="3.16" lengthAdjust="spacingAndGlyphs">0</text>
<line x1="251.7" y1="401.32" x2="253.2" y2="401.32" stroke="#262626" stroke-width="0.7"/>
<line x1="250.6" y1="394.14" x2="253.2" y2="394.14" stroke="#262626" stroke-width="0.8"/>
<text x="250.3" y="396.49" font-size="6.6" text-anchor="end" font-family="'Liberation Sans', sans-serif" fill="#0a0a0a" textLength="3.16" lengthAdjust="spacingAndGlyphs">5</text>
<line x1="251.7" y1="386.96" x2="253.2" y2="386.96" stroke="#262626" stroke-width="0.7"/>
<line x1="250.6" y1="379.79" x2="253.2" y2="379.79" stroke="#262626" stroke-width="0.8"/>
<text x="250.3" y="382.14" font-size="6.6" text-anchor="end" font-family="'Liberation Sans', sans-serif" fill="#0a0a0a" textLength="6.31" lengthAdjust="spacingAndGlyphs">10</text>
<line x1="251.7" y1="372.61" x2="253.2" y2="372.61" stroke="#262626" stroke-width="0.7"/>
<line x1="250.6" y1="365.43" x2="253.2" y2="365.43" stroke="#262626" stroke-width="0.8"/>
<text x="250.3" y="367.78" font-size="6.6" text-anchor="end" font-family="'Liberation Sans', sans-serif" fill="#0a0a0a" textLength="6.31" lengthAdjust="spacingAndGlyphs">15</text>
<line x1="251.7" y1="358.25" x2="253.2" y2="358.25" stroke="#262626" stroke-width="0.7"/>
<line x1="250.6" y1="351.07" x2="253.2" y2="351.07" stroke="#262626" stroke-width="0.8"/>
<text x="250.3" y="353.42" font-size="6.6" text-anchor="end" font-family="'Liberation Sans', sans-serif" fill="#0a0a0a" textLength="6.31" lengthAdjust="spacingAndGlyphs">20</text>
<line x1="251.7" y1="343.89" x2="253.2" y2="343.89" stroke="#262626" stroke-width="0.7"/>
<line x1="250.6" y1="336.71" x2="253.2" y2="336.71" stroke="#262626" stroke-width="0.8"/>
<text x="250.3" y="339.06" font-size="6.6" text-anchor="end" font-family="'Liberation Sans', sans-serif" fill="#0a0a0a" textLength="6.31" lengthAdjust="spacingAndGlyphs">25</text>
<line x1="251.7" y1="329.54" x2="253.2" y2="329.54" stroke="#262626" stroke-width="0.7"/>
<line x1="250.6" y1="322.36" x2="253.2" y2="322.36" stroke="#262626" stroke-width="0.8"/>
<text x="250.3" y="324.71" font-size="6.6" text-anchor="end" font-family="'Liberation Sans', sans-serif" fill="#0a0a0a" textLength="6.31" lengthAdjust="spacingAndGlyphs">30</text>
<line x1="251.7" y1="315.18" x2="253.2" y2="315.18" stroke="#262626" stroke-width="0.7"/>
<line x1="250.6" y1="308" x2="253.2" y2="308" stroke="#262626" stroke-width="0.8"/>
<text x="250.3" y="310.35" font-size="6.6" text-anchor="end" font-family="'Liberation Sans', sans-serif" fill="#0a0a0a" textLength="6.31" lengthAdjust="spacingAndGlyphs">35</text>
<line x1="261.73" y1="408.5" x2="261.73" y2="410.9" stroke="#262626" stroke-width="0.8"/>
<text x="261.73" y="418.2" font-size="7" text-anchor="middle" font-family="'Liberation Sans', sans-serif" fill="#0a0a0a" textLength="9.81" lengthAdjust="spacingAndGlyphs">520</text>
<line x1="270.06" y1="408.5" x2="270.06" y2="410" stroke="#262626" stroke-width="0.8"/>
<line x1="278.39" y1="408.5" x2="278.39" y2="410.9" stroke="#262626" stroke-width="0.8"/>
<text x="278.39" y="418.2" font-size="7" text-anchor="middle" font-family="'Liberation Sans', sans-serif" fill="#0a0a0a" textLength="9.81" lengthAdjust="spacingAndGlyphs">540</text>
<line x1="286.71" y1="408.5" x2="286.71" y2="410" stroke="#262626" stroke-width="0.8"/>
<line x1="295.04" y1="408.5" x2="295.04" y2="410.9" stroke="#262626" stroke-width="0.8"/>
<text x="295.04" y="418.2" font-size="7" text-anchor="middle" font-family="'Liberation Sans', sans-serif" fill="#0a0a0a" textLength="9.81" lengthAdjust="spacingAndGlyphs">560</text>
<line x1="303.37" y1="408.5" x2="303.37" y2="410" stroke="#262626" stroke-width="0.8"/>
<line x1="311.7" y1="408.5" x2="311.7" y2="410.9" stroke="#262626" stroke-width="0.8"/>
<text x="311.7" y="418.2" font-size="7" text-anchor="middle" font-family="'Liberation Sans', sans-serif" fill="#0a0a0a" textLength="9.81" lengthAdjust="spacingAndGlyphs">580</text>
<line x1="320.03" y1="408.5" x2="320.03" y2="410" stroke="#262626" stroke-width="0.8"/>
<line x1="328.36" y1="408.5" x2="328.36" y2="410.9" stroke="#262626" stroke-width="0.8"/>
<text x="328.36" y="418.2" font-size="7" text-anchor="middle" font-family="'Liberation Sans', sans-serif" fill="#0a0a0a" textLength="9.81" lengthAdjust="spacingAndGlyphs">600</text>
<line x1="336.69" y1="408.5" x2="336.69" y2="410" stroke="#262626" stroke-width="0.8"/>
<line x1="345.01" y1="408.5" x2="345.01" y2="410.9" stroke="#262626" stroke-width="0.8"/>
<text x="345.01" y="418.2" font-size="7" text-anchor="middle" font-family="'Liberation Sans', sans-serif" fill="#0a0a0a" textLength="9.81" lengthAdjust="spacingAndGlyphs">620</text>
<line x1="353.34" y1="408.5" x2="353.34" y2="410" stroke="#262626" stroke-width="0.8"/>
<line x1="361.67" y1="408.5" x2="361.67" y2="410.9" stroke="#262626" stroke-width="0.8"/>
<text x="361.67" y="418.2" font-size="7" text-anchor="middle" font-family="'Liberation Sans', sans-serif" fill="#0a0a0a" textLength="9.81" lengthAdjust="spacingAndGlyphs">640</text>
<line x1="370" y1="408.5" x2="370" y2="410" stroke="#262626" stroke-width="0.8"/>
<text x="311.5" y="429.9" font-size="8.1" text-anchor="middle" font-family="'Liberation Sans', sans-serif" fill="#0a0a0a">Wavelength (nm)</text>
<text x="228.1" y="359.9" font-size="8.5" text-anchor="middle" font-family="'Liberation Sans', sans-serif" fill="#0a0a0a" transform="rotate(-90 228.1 359.9)">Fluorescence Intensity</text>
<text x="239.1" y="357.2" font-size="8.5" letter-spacing="0.32" text-anchor="middle" font-family="'Liberation Sans', sans-serif" fill="#0a0a0a" transform="rotate(-90 239.1 357.2)">(CPS/1X10<tspan font-size="7" dy="-2.9">5</tspan><tspan dy="2.9">)</tspan></text>
<rect x="314.4" y="311.2" width="25.3" height="48.7" rx="1" fill="#e6e6e6" stroke="#151515" stroke-width="1.3"/>
<rect x="317" y="351.85" width="8" height="3.7" rx="1.85" fill="#050505" filter="url(#bl)"/>
<rect x="327.3" y="316.85" width="9" height="3.5" rx="1.75" fill="#050505" filter="url(#bl)"/>
<text x="319.3" y="308.3" font-size="7.8" font-weight="bold" text-anchor="start" font-family="'Liberation Sans', sans-serif" fill="#0a0a0a" transform="rotate(-43 319.3 308.3)">DNA</text>
<text x="332.8" y="307.3" font-size="7.6" font-weight="bold" text-anchor="start" font-family="'Liberation Sans', sans-serif" fill="#0a0a0a" transform="rotate(-43 332.8 307.3)">P:D (1:1)</text>
<polyline points="134.8,270.3 159.8,270.3 180.1,263.2" fill="none" stroke="#74e8f6" stroke-width="2.3" stroke-linejoin="miter"/>
<polyline points="134.8,275.1 159.8,275.1 180.1,284.2" fill="none" stroke="#74e8f6" stroke-width="2.3" stroke-linejoin="miter"/>
<path d="M180.1,263.2 C180.3,265.77 181.98,266.73 184.3,265.6 S188.3,265.43 188.5,268" fill="none" stroke="#222" stroke-width="0.7"/>
<path d="M180.1,284.2 C180.59,286.48 182.21,287.14 184.15,285.85 S187.71,285.22 188.2,287.5" fill="none" stroke="#222" stroke-width="0.7"/>
<circle cx="194.4" cy="268" r="5.9" fill="#f4f22e"/>
<text x="194.4" y="271.3" font-size="9.4" font-weight="bold" text-anchor="middle" font-family="'Liberation Serif', serif" fill="#0a0a0a">D</text>
<circle cx="194" cy="287.5" r="5.9" fill="#d412ea"/>
<text x="194" y="290.8" font-size="9.4" font-weight="bold" text-anchor="middle" font-family="'Liberation Serif', serif" fill="#0a0a0a">A</text>
<line x1="204" y1="269.9" x2="204" y2="284.7" stroke="#4a4a4a" stroke-width="0.85" stroke-dasharray="1.4,1.0"/>
<polyline points="202.46,272.1 204,269.9 205.54,272.1" fill="none" stroke="#4a4a4a" stroke-width="0.7"/>
<polyline points="202.46,282.5 204,284.7 205.54,282.5" fill="none" stroke="#4a4a4a" stroke-width="0.7"/>
<line x1="212.2" y1="275.6" x2="232.3" y2="275.6" stroke="#111" stroke-width="1.5"/>
<path d="M210.7,275.6 l3.2,-1.9 v3.8 Z M233.8,275.6 l-3.2,-1.9 v3.8 Z" fill="#111"/>
<path d="M265,258.1 C250.73,267.38 250.73,281.03 265,285.4 C262.8,277.21 262.8,266.29 265,258.1 Z" fill="#c6c6c6" stroke="#8c8c8c" stroke-width="0.5"/>
<polyline points="239.8,273 264.7,273 277.1,252.5" fill="none" stroke="#74e8f6" stroke-width="2.3" stroke-linejoin="miter"/>
<polyline points="239.8,277.4 264.7,277.4 288,290.2" fill="none" stroke="#74e8f6" stroke-width="2.3" stroke-linejoin="miter"/>
<path d="M265,258.1 C281.67,262.47 281.67,276.12 265,285.4 C267.6,277.21 267.6,266.29 265,258.1 Z" fill="#5a5a5a" fill-opacity="0.88" stroke="#444" stroke-width="0.4"/>
<path d="M277.1,252.5 C279.33,252.23 280.12,250.73 279.05,248.75 S278.77,245.27 281,245" fill="none" stroke="#222" stroke-width="0.7"/>
<path d="M288,290.2 C287.72,291.36 288.32,292.02 289.5,291.85 S291.28,292.34 291,293.5" fill="none" stroke="#222" stroke-width="0.7"/>
<circle cx="283.2" cy="239.6" r="5.9" fill="#f4f22e"/>
<text x="283.2" y="242.9" font-size="9.4" font-weight="bold" text-anchor="middle" font-family="'Liberation Serif', serif" fill="#0a0a0a">D</text>
<circle cx="296" cy="293.4" r="5.9" fill="#d412ea"/>
<text x="296" y="296.7" font-size="9.4" font-weight="bold" text-anchor="middle" font-family="'Liberation Serif', serif" fill="#0a0a0a">A</text>
<text x="248.6" y="262.3" font-size="7.5" font-weight="bold" text-anchor="middle" font-family="'Liberation Serif', serif" fill="#111">Msh4</text>
<text x="284.8" y="263.1" font-size="7.5" font-weight="bold" text-anchor="middle" font-family="'Liberation Serif', serif" fill="#111">Msh5</text>
<line x1="302.7" y1="238.8" x2="302.7" y2="287" stroke="#4a4a4a" stroke-width="0.85" stroke-dasharray="1.4,1.0"/>
<polyline points="301.16,241 302.7,238.8 304.24,241" fill="none" stroke="#4a4a4a" stroke-width="0.7"/>
<polyline points="301.16,284.8 302.7,287 304.24,284.8" fill="none" stroke="#4a4a4a" stroke-width="0.7"/>
<text x="380.9" y="240.6" font-size="14" font-weight="bold" text-anchor="start" font-family="'Liberation Sans', sans-serif" fill="#000" textLength="9.4" lengthAdjust="spacingAndGlyphs">D</text>
<polyline points="448.3,253.76 448.41,256.2 448.53,258.64 448.64,261.08 448.75,263.53 448.87,265.97 449.03,268.47 449.19,270.96 449.35,273.46 449.51,275.95 449.67,278.45 449.83,280.94 450.11,283.35 450.39,285.76 450.67,288.17 450.95,290.57 451.22,292.98 451.5,295.39 451.78,297.8 452.06,300.2 452.34,302.61 452.88,304.98 453.43,307.34 453.97,309.7 454.52,312.07 456.94,313.64 457.18,316.3 457.42,318.96 457.67,321.62 457.91,324.28 458.87,326.84 458.78,329.4 459.23,331.96 460.11,334.53 460.22,337.09 460.98,339.65 461.32,341.9 462,344.15 462.2,346.4 462.38,348.65 462.73,350.91 463.58,353.16 463.97,355.41 464.93,357.71 465.39,360 465.18,362.3 466.07,364.6 466.58,366.9 467.11,369.2 467.45,371.8 468.49,374.4 468.95,377 469.85,379.6 470.18,382.2" fill="none" stroke="#aaaaaa" stroke-width="0.85" stroke-linejoin="round" stroke-linecap="round"/>
<polyline points="462.78,344.15 463.36,346.4 463.46,348.65 463.61,350.91 464.26,353.16 464.86,355.41 465.61,357.71 466.4,360 466.2,362.3 467.01,364.6 467.77,366.9 467.74,369.2 468.48,371.8 469.58,374.4 469.62,377 470.64,379.6 470.82,382.2" fill="none" stroke="#c4c4c4" stroke-width="0.7" stroke-linejoin="round" stroke-linecap="round"/>
<path d="M439.42,383.21 C439.61,379.54 440.16,367.58 440.53,361.18 C440.91,354.79 441.24,351.47 441.65,344.83 C442.06,338.19 442.6,326.62 442.98,321.35 C443.37,316.08 443.67,315.91 443.95,313.19 C444.23,310.48 444.45,309.12 444.69,305.04 C444.92,300.95 445.13,293.96 445.36,288.69 C445.58,283.41 445.82,277.99 446.03,273.4 C446.24,268.81 446.39,264.21 446.62,261.15 C446.84,258.08 447.06,256.35 447.36,255 C447.66,253.65 447.93,253.37 448.4,253.07 C448.87,252.77 449.9,253.18 450.2,253.2" fill="none" stroke="#e0f8b8" stroke-width="1.92" stroke-linejoin="round" stroke-linecap="round"/>
<polygon points="495,277.75 495.7,278.12 496.4,278.49 497.1,278.86 497.8,279.24 498.5,279.58 499.2,279.96 499.9,280.32 500.6,280.74 501.3,281.05 502,281.47 502.7,281.77 503.4,282.17 504.1,282.47 504.8,282.9 505.5,283.19 506.2,283.56 506.9,284.02 507.6,284.3 508.3,284.66 509,285.05 509.7,285.47 510.4,285.67 511.1,286.16 511.8,286.42 512.5,286.89 513.2,287.24 513.9,287.65 514.6,287.77 515.3,288.3 516,288.6 516.7,288.63 517.4,289.37 518.1,289.64 518.8,289.82 519.5,290.49 520.2,290.81 520.9,290.94 521.6,291.23 522.3,291.93 523,292.24 523.7,292.2 524.4,292.52 525.1,293.28 525.8,293.63 526.5,293.89 527.2,294.02 527.9,294.75 528.6,294.93 529.3,294.96 530,295.4 530.7,295.7 531.4,296.48 532.1,296.73 532.8,297.02 533.5,296.97 534.2,297.7 534.9,298.31 535.6,297.81 536.3,298.54 537,299.07 537.7,299.2 538.4,300.11 539.1,299.77 539.8,300.39 540.5,300.93 541.2,300.56 541.9,301.48 542.6,301.84 543.3,302.18 544,302.13 544.7,303.22 545.4,303.15 546.1,303.25 546.8,303.95 547.5,304.38 548.2,303.88 548.9,303.55 549.6,305.63 550.3,306.03 551,306.24 551.7,306.3 552.4,306.92 553.1,304.78 553.8,306.94 554.5,307.96 555.2,308.17 555.9,307.92 556.6,309.04 557.3,309.42 558,306.91 558.7,309.25 559.4,310.54 560.1,310.52 560.8,310.48 561.5,310.7 562.2,311.55 562.9,311.61 563.6,311.32 564.3,311.41 565,312.73 565.7,313 566.4,312.87 567.1,314.24 567.8,313.59 568.5,313.7 569.2,314.31 569.9,314.59 570.6,315.38 571.3,315.26 572,316.14 572.7,316.11 573.4,316.19 574.1,317.54 574.8,315.7 575.5,316.93 576.2,317.89 576.9,317.15 577.6,318.79 578.3,318.95 579,319.26 579.7,320.17 580.4,320.42 581.1,320.56 581.8,320.31 582.5,321.17 583.2,320.2 583.9,321.76 584.6,322.13 585.3,321.31 586,322.66 586.7,321.22 587.4,321.91 587.4,329.04 586.7,328.66 586,327.74 585.3,328.73 584.6,328.32 583.9,327.21 583.2,326.1 582.5,325.79 581.8,325.27 581.1,325.43 580.4,325.12 579.7,325.2 579,325.63 578.3,323.63 577.6,324.59 576.9,323.29 576.2,322.61 575.5,323.65 574.8,322.42 574.1,323.73 573.4,321.5 572.7,322.35 572,320.8 571.3,320.34 570.6,320.78 569.9,321.44 569.2,319.2 568.5,319.81 567.8,318.62 567.1,318.44 566.4,318.6 565.7,318.08 565,319.19 564.3,318.19 563.6,316.31 562.9,315.96 562.2,316.79 561.5,315.24 560.8,315.68 560.1,314.76 559.4,314.22 558.7,314.43 558,314.63 557.3,314.78 556.6,313.22 555.9,312.72 555.2,313.9 554.5,313.05 553.8,311.7 553.1,311.41 552.4,312.26 551.7,311.92 551,310.19 550.3,310.82 549.6,311 548.9,310.62 548.2,309.99 547.5,309.07 546.8,308.33 546.1,308.17 545.4,308.25 544.7,307.1 544,307.07 543.3,306.51 542.6,307.23 541.9,305.92 541.2,305.32 540.5,305.16 539.8,305.37 539.1,304.94 538.4,303.85 537.7,303.5 537,303.33 536.3,302.93 535.6,303.23 534.9,302.55 534.2,301.8 533.5,302.22 532.8,301.31 532.1,301.74 531.4,300.48 530.7,301.11 530,299.68 529.3,299.92 528.6,299.75 527.9,298.94 527.2,298.09 526.5,298.38 525.8,297.51 525.1,297.26 524.4,297.55 523.7,296.38 523,295.98 522.3,295.68 521.6,295.6 520.9,295.26 520.2,295.06 519.5,294.34 518.8,294.16 518.1,293.6 517.4,293.35 516.7,292.73 516,292.81 515.3,292.22 514.6,291.63 513.9,291.79 513.2,291.16 512.5,290.87 511.8,290.21 511.1,289.93 510.4,289.47 509.7,289.31 509,288.81 508.3,288.52 507.6,288.04 506.9,287.83 506.2,287.37 505.5,286.99 504.8,286.7 504.1,286.31 503.4,285.85 502.7,285.6 502,285.1 501.3,284.78 500.6,284.37 499.9,284.05 499.2,283.64 498.5,283.25 497.8,282.85 497.1,282.52 496.4,282.11 495.7,281.73 495,281.35" fill="#e0f8b8"/>
<path d="M448.4,253.07 C448.7,253.09 449.6,252.99 450.2,253.2 C450.8,253.41 450.95,253.63 452,254.3 C453.05,254.97 451.93,254.38 456.5,257.2 C461.07,260.02 471.32,266.58 479.4,271.2 C487.48,275.82 494.9,279.63 505,284.9 C515.1,290.17 526.25,295.92 540,302.8 C553.75,309.68 579.58,322.3 587.5,326.2" fill="none" stroke="#e0f8b8" stroke-width="3.6" stroke-linejoin="round" stroke-linecap="round"/>
<path d="M439.42,383.21 C439.61,379.54 440.16,367.58 440.53,361.18 C440.91,354.79 441.24,351.47 441.65,344.83 C442.06,338.19 442.6,326.62 442.98,321.35 C443.37,316.08 443.67,315.91 443.95,313.19 C444.23,310.48 444.45,309.12 444.69,305.04 C444.92,300.95 445.13,293.96 445.36,288.69 C445.58,283.41 445.82,277.99 446.03,273.4 C446.24,268.81 446.39,264.21 446.62,261.15 C446.84,258.08 447.06,256.35 447.36,255 C447.66,253.65 447.93,253.37 448.4,253.07 C448.87,252.77 449.9,253.18 450.2,253.2" fill="none" stroke="#62dc26" stroke-width="1.6" stroke-linejoin="round" stroke-linecap="round"/>
<polygon points="495,278.05 495.7,278.42 496.4,278.8 497.1,279.17 497.8,279.5 498.5,279.92 499.2,280.28 499.9,280.65 500.6,280.94 501.3,281.32 502,281.77 502.7,282.14 503.4,282.49 504.1,282.84 504.8,283.26 505.5,283.62 506.2,283.96 506.9,284.32 507.6,284.52 508.3,284.94 509,285.41 509.7,285.55 510.4,286.15 511.1,286.19 511.8,286.64 512.5,287.17 513.2,287.52 513.9,287.9 514.6,288.13 515.3,288.59 516,288.94 516.7,289.3 517.4,289.71 518.1,289.86 518.8,290.13 519.5,290.35 520.2,291.16 520.9,291.4 521.6,291.6 522.3,292.07 523,292.41 523.7,292.63 524.4,292.7 525.1,293.49 525.8,293.62 526.5,294.14 527.2,294.46 527.9,294.73 528.6,295.38 529.3,295.07 530,296.17 530.7,295.97 531.4,296.74 532.1,297.19 532.8,297.07 533.5,297.58 534.2,297.64 534.9,298.38 535.6,298.62 536.3,299.11 537,299.57 537.7,299.88 538.4,300.18 539.1,300.6 539.8,300.58 540.5,300.41 541.2,300.5 541.9,302.18 542.6,302.49 543.3,302.49 544,303.16 544.7,303.55 545.4,303.08 546.1,303.76 546.8,303.73 547.5,304.85 548.2,304.23 548.9,304.56 549.6,305.86 550.3,306.37 551,306.71 551.7,306.47 552.4,307.14 553.1,306.78 553.8,308.03 554.5,308.43 555.2,308.6 555.9,308.65 556.6,308.89 557.3,308.4 558,308.43 558.7,309.91 559.4,308.88 560.1,310.21 560.8,310.08 561.5,311.37 562.2,311.81 562.9,311.81 563.6,312.26 564.3,312.01 565,313.58 565.7,313.69 566.4,312.87 567.1,314.48 567.8,313.96 568.5,314.68 569.2,315.07 569.9,315.62 570.6,315.93 571.3,315.82 572,315.86 572.7,316.71 573.4,317.44 574.1,317.64 574.8,318.19 575.5,316.72 576.2,317.68 576.9,316.9 577.6,317.89 578.3,319.64 579,319.35 579.7,320.3 580.4,320.14 581.1,320.31 581.8,321.03 582.5,321.1 583.2,321.07 583.9,321.17 584.6,323.15 585.3,322.18 586,323.31 586.7,322.12 587.4,324.52 587.4,328.44 586.7,328.16 586,327.62 585.3,327.01 584.6,326.91 583.9,327.32 583.2,327.57 582.5,325.46 581.8,325.26 581.1,324.81 580.4,324.36 579.7,324.19 579,324.41 578.3,323.74 577.6,323.13 576.9,323.66 576.2,323.42 575.5,322.4 574.8,322.41 574.1,321.94 573.4,321.27 572.7,321.77 572,320.23 571.3,321.08 570.6,320.89 569.9,320.74 569.2,319.35 568.5,319.34 567.8,319.06 567.1,317.67 566.4,318.86 565.7,317.27 565,317.89 564.3,316.58 563.6,316.99 562.9,316.21 562.2,316.11 561.5,315.83 560.8,315.16 560.1,314.28 559.4,314.83 558.7,314 558,314.24 557.3,313.16 556.6,312.49 555.9,313.53 555.2,312.14 554.5,311.55 553.8,311.49 553.1,311.77 552.4,311.24 551.7,310.1 551,310.04 550.3,309.69 549.6,309.2 548.9,309.51 548.2,308.71 547.5,308.38 546.8,308.05 546.1,307.87 545.4,307.39 544.7,307.09 544,306.82 543.3,306.03 542.6,306.4 541.9,305.4 541.2,305.04 540.5,304.57 539.8,304.35 539.1,304.45 538.4,304.16 537.7,303.33 537,303.84 536.3,302.43 535.6,302.37 534.9,301.79 534.2,301.62 533.5,301.78 532.8,301.26 532.1,300.64 531.4,300.07 530.7,299.74 530,300.01 529.3,298.84 528.6,298.91 527.9,298.48 527.2,298.09 526.5,297.57 525.8,297.58 525.1,297.23 524.4,296.35 523.7,296.15 523,295.64 522.3,295.52 521.6,295.31 520.9,294.69 520.2,294.77 519.5,293.89 518.8,293.48 518.1,293.17 517.4,292.92 516.7,292.62 516,292.18 515.3,292.04 514.6,291.82 513.9,291.18 513.2,290.8 512.5,290.32 511.8,289.96 511.1,289.73 510.4,289.28 509.7,288.93 509,288.56 508.3,288.1 507.6,287.87 506.9,287.64 506.2,287.09 505.5,286.69 504.8,286.31 504.1,285.93 503.4,285.59 502.7,285.21 502,284.87 501.3,284.46 500.6,284.06 499.9,283.71 499.2,283.31 498.5,282.94 497.8,282.57 497.1,282.17 496.4,281.8 495.7,281.42 495,281.05" fill="#62dc26"/>
<path d="M448.4,253.07 C448.7,253.09 449.6,252.99 450.2,253.2 C450.8,253.41 450.95,253.63 452,254.3 C453.05,254.97 451.93,254.38 456.5,257.2 C461.07,260.02 471.32,266.58 479.4,271.2 C487.48,275.82 494.9,279.63 505,284.9 C515.1,290.17 526.25,295.92 540,302.8 C553.75,309.68 579.58,322.3 587.5,326.2" fill="none" stroke="#62dc26" stroke-width="3" stroke-linejoin="round" stroke-linecap="round"/>
<path d="M439.42,383.21 C439.61,379.54 440.16,367.58 440.53,361.18 C440.91,354.79 441.24,351.47 441.65,344.83 C442.06,338.19 442.6,326.62 442.98,321.35 C443.37,316.08 443.67,315.91 443.95,313.19 C444.23,310.48 444.45,309.12 444.69,305.04 C444.92,300.95 445.13,293.96 445.36,288.69 C445.58,283.41 445.82,277.99 446.03,273.4 C446.24,268.81 446.39,264.21 446.62,261.15 C446.84,258.08 447.06,256.35 447.36,255 C447.66,253.65 448.03,253.27 448.4,253.07 C448.77,252.87 449.4,253.68 449.6,253.8" fill="none" stroke="#3c8a22" stroke-width="1.6" stroke-linejoin="round" stroke-linecap="round"/>
<polygon points="495,283.54 495.7,283.9 496.4,284.26 497.1,284.62 497.8,284.94 498.5,285.34 499.2,285.71 499.9,286.05 500.6,286.41 501.3,286.74 502,287.1 502.7,287.47 503.4,287.87 504.1,288.19 504.8,288.55 505.5,288.92 506.2,289.34 506.9,289.69 507.6,290.08 508.3,290.32 509,290.59 509.7,291.15 510.4,291.49 511.1,291.92 511.8,292.2 512.5,292.54 513.2,292.91 513.9,293.38 514.6,293.47 515.3,294.01 516,294.33 516.7,294.53 517.4,295.1 518.1,295.5 518.8,295.46 519.5,295.73 520.2,296.75 520.9,296.99 521.6,297.07 522.3,297.74 523,297.68 523.7,298.52 524.4,298.84 525.1,298.82 525.8,299.3 526.5,299.78 527.2,300.14 527.9,300.62 528.6,300.84 529.3,301.25 530,301.75 530.7,302.09 531.4,302.23 532.1,302.67 532.8,302.66 533.5,303.3 534.2,304.02 534.9,304.55 535.6,304.05 536.3,305.03 537,305.56 537.7,305.87 538.4,306.12 539.1,306.34 539.8,307.03 540.5,307.17 541.2,307.73 541.9,307.67 542.6,308.36 543.3,308.3 544,309.07 544.7,309.49 545.4,309.31 546.1,308.89 546.8,310.58 547.5,310.44 548.2,311.27 548.9,310.68 549.6,311.18 550.3,312.27 551,311.9 551.7,311.34 552.4,312.22 553.1,312.39 553.8,313.52 554.5,312.88 555.2,314.07 555.9,314.91 556.6,314.85 557.3,314.32 558,315.19 558.7,314.91 559.4,315.96 560.1,316.24 560.8,316.7 561.5,317.12 562.2,317.19 562.9,316.84 563.6,317.7 564.3,319.01 565,318.33 565.7,319.47 566.4,319.21 567.1,320.03 567.8,319.81 568.5,317.69 569.2,319.64 569.9,321.32 570.6,321.45 571.3,321.37 572,321.52 572.7,320.73 573.4,321.56 574.1,323.52 574.8,324.07 575.5,323.3 576.2,323.96 576.9,324.44 577.6,324.68 578.3,325.75 579,325.83 579.7,324.4 580.4,325.79 581.1,326.31 581.8,327.36 582.5,327.12 583.2,327.86 583.9,327.31 584.6,327.53 585.3,327.47 586,329 586.7,328.51 587.4,327.42 587.4,336.23 586.7,334.16 586,334.34 585.3,333.56 584.6,331.96 583.9,331.9 583.2,331.55 582.5,331.56 581.8,330.64 581.1,331.66 580.4,332.99 579.7,330.64 579,329.42 578.3,329.01 577.6,328.52 576.9,329.65 576.2,328.95 575.5,327.55 574.8,328.15 574.1,328.33 573.4,327.63 572.7,327.61 572,325.94 571.3,326.02 570.6,325.24 569.9,325.27 569.2,325.08 568.5,325.22 567.8,323.8 567.1,323.83 566.4,325.07 565.7,323.46 565,323.29 564.3,322.93 563.6,322.09 562.9,322.03 562.2,322.16 561.5,322.81 560.8,320.87 560.1,320.42 559.4,320.02 558.7,320.13 558,319.88 557.3,319.35 556.6,319.6 555.9,318.85 555.2,318.52 554.5,317.79 553.8,318.15 553.1,316.81 552.4,317.39 551.7,316.07 551,315.76 550.3,315.91 549.6,315.38 548.9,315.28 548.2,314.43 547.5,314.06 546.8,313.61 546.1,313.36 545.4,313.17 544.7,312.64 544,312.72 543.3,312.99 542.6,312.77 541.9,312.03 541.2,311.12 540.5,310.71 539.8,310.49 539.1,310.53 538.4,310.48 537.7,309.57 537,309.31 536.3,308.62 535.6,308.33 534.9,308.4 534.2,307.53 533.5,306.87 532.8,306.66 532.1,307.16 531.4,305.96 530.7,305.72 530,305.66 529.3,304.8 528.6,304.34 527.9,303.94 527.2,303.98 526.5,303.39 525.8,303.07 525.1,302.52 524.4,302.16 523.7,301.88 523,301.58 522.3,301.28 521.6,300.53 520.9,300.28 520.2,300.32 519.5,299.45 518.8,299.1 518.1,298.79 517.4,298.48 516.7,297.93 516,297.73 515.3,297.18 514.6,297 513.9,296.72 513.2,296.14 512.5,295.75 511.8,295.32 511.1,295.08 510.4,294.77 509.7,294.23 509,293.99 508.3,293.5 507.6,293.14 506.9,292.74 506.2,292.42 505.5,292.06 504.8,291.6 504.1,291.27 503.4,290.91 502.7,290.52 502,290.2 501.3,289.8 500.6,289.5 499.9,289.08 499.2,288.72 498.5,288.38 497.8,288 497.1,287.63 496.4,287.28 495.7,286.91 495,286.54" fill="#3c8a22"/>
<path d="M448.4,253.07 C448.6,253.19 449.2,253.38 449.6,253.8 C450,254.22 450.35,254.9 450.8,255.6 C451.25,256.3 451.35,257.02 452.3,258 C453.25,258.98 451.98,258.33 456.5,261.5 C461.02,264.67 471.32,272.22 479.4,277 C487.48,281.78 494.9,284.9 505,290.2 C515.1,295.5 526.25,301.87 540,308.8 C553.75,315.73 579.58,327.97 587.5,331.8" fill="none" stroke="#3c8a22" stroke-width="3" stroke-linejoin="round" stroke-linecap="round"/>
<path d="M439.42,383.21 C439.61,379.54 440.16,367.58 440.53,361.18 C440.91,354.79 441.24,351.47 441.65,344.83 C442.06,338.19 442.6,326.62 442.98,321.35 C443.37,316.08 443.67,315.91 443.95,313.19 C444.23,310.48 444.45,309.12 444.69,305.04 C444.92,300.95 445.13,293.96 445.36,288.69 C445.58,283.41 445.82,277.99 446.03,273.4 C446.24,268.81 446.39,264.21 446.62,261.15 C446.84,258.08 447.06,256.35 447.36,255 C447.66,253.65 448.03,253.27 448.4,253.07 C448.77,252.87 449.4,253.68 449.6,253.8" fill="none" stroke="#24561a" stroke-width="1.28" stroke-linejoin="round" stroke-linecap="round" stroke-dasharray="1.2,1.0"/>
<polygon points="520,297.17 520.7,297.54 521.4,297.91 522.1,298.28 522.8,298.66 523.5,299.02 524.2,299.4 524.9,299.76 525.6,300.12 526.3,300.49 527,300.88 527.7,301.22 528.4,301.62 529.1,301.97 529.8,302.34 530.5,302.72 531.2,303.07 531.9,303.48 532.6,303.86 533.3,304.16 534,304.61 534.7,304.96 535.4,305.24 536.1,305.67 536.8,305.94 537.5,306.4 538.2,306.74 538.9,307.1 539.6,307.52 540.3,307.9 541,308.19 541.7,308.32 542.4,308.83 543.1,309.16 543.8,309.59 544.5,309.94 545.2,310.23 545.9,310.59 546.6,310.78 547.3,311.24 548,311.54 548.7,311.92 549.4,312.3 550.1,312.31 550.8,312.99 551.5,313.33 552.2,313.45 552.9,313.86 553.6,314.14 554.3,314.59 555,314.89 555.7,315.23 556.4,315.74 557.1,315.76 557.8,316.28 558.5,316.63 559.2,316.77 559.9,317.41 560.6,317.59 561.3,318.07 562,318.39 562.7,318.58 563.4,319 564.1,319.02 564.8,319.43 565.5,319.94 566.2,320.15 566.9,320.53 567.6,320.87 568.3,321.47 569,321.71 569.7,321.65 570.4,322.28 571.1,322.78 571.8,323.18 572.5,323.4 573.2,323.52 573.9,323.84 574.6,323.74 575.3,324.41 576,325.03 576.7,325.56 577.4,325.21 578.1,326 578.8,326.1 579.5,326.32 580.2,326.94 580.9,327.16 581.6,327.88 582.3,328.07 583,328.24 583.7,328.47 584.4,328.42 585.1,329.15 585.8,329.72 586.5,329.7 587.2,330.3 587.2,333.02 586.5,332.65 585.8,332.04 585.1,331.88 584.4,331.84 583.7,331.13 583,330.66 582.3,330.61 581.6,330.96 580.9,330.04 580.2,329.53 579.5,329.48 578.8,328.62 578.1,328.62 577.4,327.92 576.7,327.76 576,327.47 575.3,327.05 574.6,326.99 573.9,326.26 573.2,326.28 572.5,325.8 571.8,325.45 571.1,325.14 570.4,324.77 569.7,324.29 569,324.42 568.3,324.09 567.6,323.22 566.9,323.02 566.2,323.04 565.5,322.26 564.8,322.05 564.1,321.69 563.4,321.25 562.7,320.96 562,320.61 561.3,320.42 560.6,319.9 559.9,319.66 559.2,319.41 558.5,319.12 557.8,318.54 557.1,318.44 556.4,318.04 555.7,317.48 555,317.47 554.3,317.03 553.6,316.81 552.9,316.06 552.2,316 551.5,315.71 550.8,315.11 550.1,314.69 549.4,314.48 548.7,314.43 548,313.97 547.3,313.34 546.6,313.2 545.9,312.86 545.2,312.42 544.5,312.05 543.8,311.66 543.1,311.41 542.4,311.18 541.7,310.64 541,310.3 540.3,310.22 539.6,309.72 538.9,309.38 538.2,308.85 537.5,308.49 536.8,308.15 536.1,307.83 535.4,307.38 534.7,307.11 534,306.69 533.3,306.34 532.6,305.88 531.9,305.51 531.2,305.13 530.5,304.88 529.8,304.42 529.1,304.04 528.4,303.74 527.7,303.28 527,302.89 526.3,302.54 525.6,302.16 524.9,301.8 524.2,301.43 523.5,301.04 522.8,300.67 522.1,300.3 521.4,299.93 520.7,299.55 520,299.17" fill="#24561a"/>
<path d="M448.4,253.07 C448.6,253.19 449.2,253.38 449.6,253.8 C450,254.22 450.35,254.9 450.8,255.6 C451.25,256.3 451.35,257.02 452.3,258 C453.25,258.98 451.98,258.33 456.5,261.5 C461.02,264.67 471.32,272.22 479.4,277 C487.48,281.78 494.9,284.9 505,290.2 C515.1,295.5 526.25,301.87 540,308.8 C553.75,315.73 579.58,327.97 587.5,331.8" fill="none" stroke="#24561a" stroke-width="2" stroke-linejoin="round" stroke-linecap="round"/>
<path d="M448.4,253.07 C448.7,253.09 449.6,252.99 450.2,253.2 C450.8,253.41 450.95,253.63 452,254.3 C453.05,254.97 451.93,254.38 456.5,257.2 C461.07,260.02 471.32,266.58 479.4,271.2 C487.48,275.82 494.9,279.63 505,284.9 C515.1,290.17 526.25,295.92 540,302.8 C553.75,309.68 579.58,322.3 587.5,326.2" fill="none" stroke="#111" stroke-width="0.9" stroke-linejoin="round" stroke-linecap="round"/>
<line x1="426.5" y1="250.2" x2="426.5" y2="383.6" stroke="#262626" stroke-width="1"/>
<line x1="426" y1="383.1" x2="589" y2="383.1" stroke="#262626" stroke-width="1"/>
<line x1="423.3" y1="382.2" x2="426.5" y2="382.2" stroke="#262626" stroke-width="0.9"/>
<text x="421.6" y="385.2" font-size="8.4" text-anchor="end" font-family="'Liberation Sans', sans-serif" fill="#0a0a0a" textLength="8.5" lengthAdjust="spacingAndGlyphs">10</text>
<line x1="424.7" y1="370.34" x2="426.5" y2="370.34" stroke="#262626" stroke-width="0.7"/>
<line x1="424.7" y1="363.4" x2="426.5" y2="363.4" stroke="#262626" stroke-width="0.7"/>
<line x1="424.7" y1="358.48" x2="426.5" y2="358.48" stroke="#262626" stroke-width="0.7"/>
<line x1="424.7" y1="354.66" x2="426.5" y2="354.66" stroke="#262626" stroke-width="0.7"/>
<line x1="424.7" y1="351.54" x2="426.5" y2="351.54" stroke="#262626" stroke-width="0.7"/>
<line x1="424.7" y1="348.9" x2="426.5" y2="348.9" stroke="#262626" stroke-width="0.7"/>
<line x1="424.7" y1="346.62" x2="426.5" y2="346.62" stroke="#262626" stroke-width="0.7"/>
<line x1="424.7" y1="344.6" x2="426.5" y2="344.6" stroke="#262626" stroke-width="0.7"/>
<line x1="423.3" y1="342.8" x2="426.5" y2="342.8" stroke="#262626" stroke-width="0.9"/>
<text x="421.6" y="345.8" font-size="8.4" text-anchor="end" font-family="'Liberation Sans', sans-serif" fill="#0a0a0a" textLength="12.75" lengthAdjust="spacingAndGlyphs">100</text>
<line x1="424.7" y1="330.94" x2="426.5" y2="330.94" stroke="#262626" stroke-width="0.7"/>
<line x1="424.7" y1="324" x2="426.5" y2="324" stroke="#262626" stroke-width="0.7"/>
<line x1="424.7" y1="319.08" x2="426.5" y2="319.08" stroke="#262626" stroke-width="0.7"/>
<line x1="424.7" y1="315.26" x2="426.5" y2="315.26" stroke="#262626" stroke-width="0.7"/>
<line x1="424.7" y1="312.14" x2="426.5" y2="312.14" stroke="#262626" stroke-width="0.7"/>
<line x1="424.7" y1="309.5" x2="426.5" y2="309.5" stroke="#262626" stroke-width="0.7"/>
<line x1="424.7" y1="307.22" x2="426.5" y2="307.22" stroke="#262626" stroke-width="0.7"/>
<line x1="424.7" y1="305.2" x2="426.5" y2="305.2" stroke="#262626" stroke-width="0.7"/>
<line x1="423.3" y1="303.4" x2="426.5" y2="303.4" stroke="#262626" stroke-width="0.9"/>
<text x="421.6" y="306.4" font-size="8.4" text-anchor="end" font-family="'Liberation Sans', sans-serif" fill="#0a0a0a" textLength="17" lengthAdjust="spacingAndGlyphs">1000</text>
<line x1="424.7" y1="291.54" x2="426.5" y2="291.54" stroke="#262626" stroke-width="0.7"/>
<line x1="424.7" y1="284.6" x2="426.5" y2="284.6" stroke="#262626" stroke-width="0.7"/>
<line x1="424.7" y1="279.68" x2="426.5" y2="279.68" stroke="#262626" stroke-width="0.7"/>
<line x1="424.7" y1="275.86" x2="426.5" y2="275.86" stroke="#262626" stroke-width="0.7"/>
<line x1="424.7" y1="272.74" x2="426.5" y2="272.74" stroke="#262626" stroke-width="0.7"/>
<line x1="424.7" y1="270.1" x2="426.5" y2="270.1" stroke="#262626" stroke-width="0.7"/>
<line x1="424.7" y1="267.82" x2="426.5" y2="267.82" stroke="#262626" stroke-width="0.7"/>
<line x1="424.7" y1="265.8" x2="426.5" y2="265.8" stroke="#262626" stroke-width="0.7"/>
<line x1="423.3" y1="264" x2="426.5" y2="264" stroke="#262626" stroke-width="0.9"/>
<text x="421.6" y="267" font-size="8.4" text-anchor="end" font-family="'Liberation Sans', sans-serif" fill="#0a0a0a" textLength="21.25" lengthAdjust="spacingAndGlyphs">10000</text>
<line x1="424.7" y1="252.14" x2="426.5" y2="252.14" stroke="#262626" stroke-width="0.7"/>
<line x1="427" y1="383.1" x2="427" y2="385.3" stroke="#262626" stroke-width="0.8"/>
<line x1="447.19" y1="383.1" x2="447.19" y2="385.3" stroke="#262626" stroke-width="0.8"/>
<line x1="467.38" y1="383.1" x2="467.38" y2="385.3" stroke="#262626" stroke-width="0.8"/>
<line x1="487.56" y1="383.1" x2="487.56" y2="385.3" stroke="#262626" stroke-width="0.8"/>
<line x1="507.75" y1="383.1" x2="507.75" y2="385.3" stroke="#262626" stroke-width="0.8"/>
<line x1="527.94" y1="383.1" x2="527.94" y2="385.3" stroke="#262626" stroke-width="0.8"/>
<line x1="548.12" y1="383.1" x2="548.12" y2="385.3" stroke="#262626" stroke-width="0.8"/>
<line x1="568.31" y1="383.1" x2="568.31" y2="385.3" stroke="#262626" stroke-width="0.8"/>
<line x1="588.5" y1="383.1" x2="588.5" y2="385.3" stroke="#262626" stroke-width="0.8"/>
<line x1="426.5" y1="393.5" x2="426.5" y2="412.1" stroke="#262626" stroke-width="1"/>
<line x1="426" y1="411.6" x2="589" y2="411.6" stroke="#262626" stroke-width="1"/>
<line x1="423.5" y1="393.5" x2="426.5" y2="393.5" stroke="#262626" stroke-width="0.9"/>
<text x="421.9" y="396.5" font-size="8.4" text-anchor="end" font-family="'Liberation Sans', sans-serif" fill="#0a0a0a" textLength="4.25" lengthAdjust="spacingAndGlyphs">5</text>
<line x1="423.5" y1="402.6" x2="426.5" y2="402.6" stroke="#262626" stroke-width="0.9"/>
<text x="421.9" y="405.6" font-size="8.4" text-anchor="end" font-family="'Liberation Sans', sans-serif" fill="#0a0a0a" textLength="4.25" lengthAdjust="spacingAndGlyphs">0</text>
<line x1="423.5" y1="411.6" x2="426.5" y2="411.6" stroke="#262626" stroke-width="0.9"/>
<text x="421.9" y="414.6" font-size="8.4" text-anchor="end" font-family="'Liberation Sans', sans-serif" fill="#0a0a0a" textLength="6.8" lengthAdjust="spacingAndGlyphs">-5</text>
<line x1="424.9" y1="398.05" x2="426.5" y2="398.05" stroke="#262626" stroke-width="0.7"/>
<line x1="424.9" y1="407.1" x2="426.5" y2="407.1" stroke="#262626" stroke-width="0.7"/>
<line x1="427" y1="411.6" x2="427" y2="414.2" stroke="#262626" stroke-width="0.8"/>
<text x="427" y="422.8" font-size="8.3" text-anchor="middle" font-family="'Liberation Sans', sans-serif" fill="#0a0a0a" textLength="4.34" lengthAdjust="spacingAndGlyphs">5</text>
<line x1="447.19" y1="411.6" x2="447.19" y2="413.2" stroke="#262626" stroke-width="0.8"/>
<line x1="467.38" y1="411.6" x2="467.38" y2="414.2" stroke="#262626" stroke-width="0.8"/>
<text x="467.38" y="422.8" font-size="8.3" text-anchor="middle" font-family="'Liberation Sans', sans-serif" fill="#0a0a0a" textLength="8.68" lengthAdjust="spacingAndGlyphs">10</text>
<line x1="487.56" y1="411.6" x2="487.56" y2="413.2" stroke="#262626" stroke-width="0.8"/>
<line x1="507.75" y1="411.6" x2="507.75" y2="414.2" stroke="#262626" stroke-width="0.8"/>
<text x="507.75" y="422.8" font-size="8.3" text-anchor="middle" font-family="'Liberation Sans', sans-serif" fill="#0a0a0a" textLength="8.68" lengthAdjust="spacingAndGlyphs">15</text>
<line x1="527.94" y1="411.6" x2="527.94" y2="413.2" stroke="#262626" stroke-width="0.8"/>
<line x1="548.12" y1="411.6" x2="548.12" y2="414.2" stroke="#262626" stroke-width="0.8"/>
<text x="548.12" y="422.8" font-size="8.3" text-anchor="middle" font-family="'Liberation Sans', sans-serif" fill="#0a0a0a" textLength="8.68" lengthAdjust="spacingAndGlyphs">20</text>
<line x1="568.31" y1="411.6" x2="568.31" y2="413.2" stroke="#262626" stroke-width="0.8"/>
<line x1="588.5" y1="411.6" x2="588.5" y2="414.2" stroke="#262626" stroke-width="0.8"/>
<text x="588.5" y="422.8" font-size="8.3" text-anchor="middle" font-family="'Liberation Sans', sans-serif" fill="#0a0a0a" textLength="8.68" lengthAdjust="spacingAndGlyphs">25</text>
<polygon points="427.1,398.68 427.7,397.83 428.3,397.58 428.9,398.52 429.5,397.89 430.1,398.31 430.7,398.85 431.3,398.2 431.9,398.17 432.5,397.04 433.1,397.57 433.7,398.58 434.3,397.8 434.9,397.96 435.5,397.87 436.1,398.28 436.7,397.78 437.3,397.85 437.9,398.22 438.5,398.43 439.1,396.27 439.7,398.27 440.3,398.34 440.9,397.91 441.5,398.34 442.1,398.7 442.7,397.7 443.3,398.54 443.9,398.14 444.5,397.26 445.1,398.54 445.7,397.74 446.3,398.5 446.9,397.79 447.5,397.3 448.1,398.33 448.7,398.21 449.3,398.65 449.9,398.46 450.5,398.7 451.1,398.43 451.7,398.33 452.3,398.3 452.9,397.43 453.5,397.5 454.1,398.17 454.7,398.67 455.3,397.82 455.9,397.72 456.5,398.74 457.1,398.73 457.7,398.42 458.3,397.91 458.9,397.25 459.5,397.93 460.1,398.76 460.7,398.72 461.3,397.95 461.9,398.79 462.5,398.45 463.1,397.3 463.7,398.63 464.3,398.81 464.9,398.87 465.5,398.82 466.1,398.77 466.7,397.38 467.3,398.57 467.9,397.58 468.5,398.81 469.1,398.56 469.7,398.14 470.3,398.73 470.9,398.15 471.5,397.66 472.1,398.63 472.7,398.89 473.3,398.64 473.9,398.14 474.5,398.9 475.1,398.19 475.7,396.52 476.3,398.01 476.9,398.61 477.5,396.96 478.1,397.02 478.7,398.84 479.3,398.26 479.9,398.78 480.5,398.56 481.1,398.58 481.7,397.94 482.3,398.49 482.9,398.66 483.5,397.66 484.1,398.57 484.7,398.02 485.3,397.51 485.9,398.55 486.5,397.04 487.1,397.38 487.7,398.81 488.3,398.43 488.9,397.42 489.5,398.4 490.1,396.36 490.7,398.3 491.3,398.13 491.9,398.48 492.5,398.29 493.1,398.78 493.7,397.48 494.3,398.41 494.9,398.79 495.5,398.07 496.1,396.89 496.7,397.45 497.3,398.38 497.9,396.62 498.5,397.46 499.1,398.65 499.7,398.53 500.3,398.45 500.9,398.56 501.5,398.28 502.1,397.49 502.7,396.66 503.3,397.55 503.9,397.1 504.5,398.5 505.1,397.76 505.7,397.16 506.3,398.44 506.9,396.51 507.5,398.5 508.1,398.44 508.7,398.76 509.3,397.95 509.9,397.38 510.5,398.86 511.1,398.2 511.7,398.38 512.3,397.26 512.9,398.76 513.5,397.72 514.1,398.44 514.7,396.83 515.3,397.86 515.9,395.63 516.5,396.94 517.1,398.02 517.7,397.41 518.3,397.74 518.9,398.17 519.5,398.73 520.1,398.16 520.7,398.83 521.3,397.5 521.9,397 522.5,397.7 523.1,398.21 523.7,398.01 524.3,398.7 524.9,398.67 525.5,397.89 526.1,397.78 526.7,398.69 527.3,398.38 527.9,398.55 528.5,397.47 529.1,398.45 529.7,398.09 530.3,398.4 530.9,398.78 531.5,398.63 532.1,397.86 532.7,397.62 533.3,397.63 533.9,398.16 534.5,397.22 535.1,398.43 535.7,397.97 536.3,397.73 536.9,398.26 537.5,398.04 538.1,398.47 538.7,397.31 539.3,398.04 539.9,398.1 540.5,398.89 541.1,397.24 541.7,398.65 542.3,398.74 542.9,397.41 543.5,398.86 544.1,398.33 544.7,397.93 545.3,398.72 545.9,397.61 546.5,397.89 547.1,397.32 547.7,398.36 548.3,397.39 548.9,397.25 549.5,398.33 550.1,397.1 550.7,398.56 551.3,398.01 551.9,398.89 552.5,398.84 553.1,398.78 553.7,398.11 554.3,397.2 554.9,398.24 555.5,397.73 556.1,398.05 556.7,398.52 557.3,397.72 557.9,398.31 558.5,398.4 559.1,398.33 559.7,398.42 560.3,397.92 560.9,398.86 561.5,398.62 562.1,398.47 562.7,396.88 563.3,398.57 563.9,398.43 564.5,398.4 565.1,398.84 565.7,397.91 566.3,398.57 566.9,396.89 567.5,398.89 568.1,397.41 568.7,398.32 569.3,397.53 569.9,397.92 570.5,397.71 571.1,398.73 571.7,398.12 572.3,398.83 572.9,398.64 573.5,398.2 574.1,398.46 574.7,398.05 575.3,398.89 575.9,398.73 576.5,398.45 577.1,398.23 577.7,398.62 578.3,398.32 578.9,398.84 579.5,398.32 580.1,398.23 580.7,397.24 581.3,398.73 581.9,398.14 582.5,398.61 583.1,398.36 583.7,398.26 584.3,398.36 584.9,397.95 585.5,397.96 586.1,398.74 586.7,396.43 587.3,397.57 587.9,398.52 587.9,407.42 587.3,407.27 586.7,408.4 586.1,407.68 585.5,408.08 584.9,409.5 584.3,407.29 583.7,407.44 583.1,407.67 582.5,407.31 581.9,406.99 581.3,407.16 580.7,407.09 580.1,407.22 579.5,408.09 578.9,408.12 578.3,407.07 577.7,407.3 577.1,408.87 576.5,408.61 575.9,407.81 575.3,407.73 574.7,407.18 574.1,408.71 573.5,407.23 572.9,407.93 572.3,406.92 571.7,408.2 571.1,407.5 570.5,407.2 569.9,408.1 569.3,408.46 568.7,407.44 568.1,407.14 567.5,409.66 566.9,407.92 566.3,409.04 565.7,407.06 565.1,407.92 564.5,407.77 563.9,407.41 563.3,407.46 562.7,407.72 562.1,407.55 561.5,408.62 560.9,408.23 560.3,407.6 559.7,408.2 559.1,407.13 558.5,407.01 557.9,407.6 557.3,407.65 556.7,407.2 556.1,407.17 555.5,409 554.9,408.35 554.3,407.58 553.7,407.29 553.1,407.81 552.5,407.41 551.9,409.2 551.3,407.45 550.7,407.21 550.1,408.36 549.5,407.88 548.9,407.66 548.3,407.5 547.7,407.04 547.1,407.05 546.5,407.78 545.9,408.39 545.3,408.68 544.7,407.09 544.1,408.59 543.5,407.67 542.9,408.09 542.3,407.21 541.7,407.99 541.1,408.58 540.5,407.08 539.9,407.42 539.3,407.57 538.7,407.07 538.1,406.98 537.5,407.33 536.9,407.66 536.3,407.43 535.7,407.37 535.1,407.13 534.5,406.96 533.9,408.01 533.3,407.59 532.7,407.03 532.1,408.29 531.5,408.53 530.9,407.36 530.3,406.97 529.7,408.51 529.1,407.7 528.5,407.87 527.9,408.12 527.3,408.43 526.7,408.57 526.1,407.97 525.5,407.45 524.9,407.03 524.3,407.37 523.7,406.99 523.1,406.95 522.5,406.99 521.9,407.79 521.3,407.26 520.7,407.64 520.1,407.63 519.5,407.4 518.9,407.85 518.3,406.95 517.7,407.3 517.1,408.26 516.5,408.41 515.9,408.12 515.3,406.92 514.7,408.15 514.1,407.16 513.5,407.79 512.9,407.45 512.3,406.95 511.7,407.04 511.1,407.27 510.5,407.14 509.9,407.93 509.3,407.39 508.7,407.01 508.1,408.45 507.5,407.01 506.9,407.29 506.3,407.84 505.7,407.85 505.1,407.08 504.5,408.09 503.9,407.22 503.3,408.1 502.7,407.53 502.1,407.79 501.5,408.29 500.9,408.47 500.3,407.02 499.7,407.17 499.1,408.54 498.5,408.21 497.9,407.58 497.3,407.32 496.7,409.06 496.1,408.4 495.5,407.28 494.9,408.02 494.3,407.4 493.7,408.29 493.1,407.33 492.5,407.01 491.9,407.28 491.3,407.1 490.7,408.36 490.1,408.19 489.5,408.21 488.9,406.92 488.3,407.7 487.7,408.14 487.1,407.23 486.5,407.84 485.9,407.19 485.3,408.45 484.7,407.04 484.1,408.14 483.5,408.76 482.9,408.49 482.3,408.05 481.7,407.41 481.1,407.59 480.5,407.27 479.9,407.38 479.3,407.37 478.7,407.05 478.1,407.18 477.5,407.81 476.9,407.5 476.3,406.97 475.7,407.68 475.1,407.19 474.5,408.44 473.9,407.21 473.3,408.96 472.7,408.1 472.1,407.26 471.5,408.02 470.9,408.34 470.3,408.2 469.7,407.42 469.1,407.75 468.5,407.56 467.9,407.2 467.3,407.49 466.7,407.47 466.1,408.32 465.5,408.38 464.9,406.91 464.3,407.6 463.7,406.92 463.1,407.42 462.5,408.59 461.9,407.76 461.3,407.18 460.7,407.07 460.1,406.91 459.5,406.99 458.9,407.71 458.3,408.27 457.7,408.43 457.1,408.45 456.5,407.73 455.9,408.18 455.3,406.99 454.7,408.81 454.1,407.43 453.5,407.19 452.9,407.15 452.3,407.15 451.7,407.72 451.1,408.16 450.5,407.8 449.9,407.91 449.3,407.48 448.7,407.14 448.1,407.47 447.5,407.25 446.9,407.21 446.3,407.49 445.7,407.42 445.1,407.67 444.5,408.43 443.9,408.23 443.3,407 442.7,407.19 442.1,407.96 441.5,407.37 440.9,408.34 440.3,407.09 439.7,407.16 439.1,407.82 438.5,407.97 437.9,407.24 437.3,407.58 436.7,408.99 436.1,407.74 435.5,407.01 434.9,407.44 434.3,407.41 433.7,407.26 433.1,407.38 432.5,407.87 431.9,407.63 431.3,407 430.7,407.33 430.1,408.59 429.5,407.1 428.9,408.53 428.3,408.23 427.7,408.41 427.1,406.91" fill="#d8f8b0"/>
<polygon points="427.1,397.37 427.7,399.49 428.3,398.49 428.9,398.87 429.5,399.16 430.1,399.16 430.7,398.37 431.3,397.98 431.9,398.62 432.5,397.68 433.1,398.63 433.7,398.65 434.3,399.4 434.9,398.96 435.5,399.32 436.1,398.81 436.7,399.01 437.3,399.03 437.9,399.1 438.5,399.07 439.1,398.55 439.7,398.54 440.3,399.37 440.9,398.38 441.5,398.02 442.1,399.38 442.7,399.2 443.3,398.93 443.9,397.83 444.5,399.05 445.1,399.05 445.7,399.01 446.3,398.91 446.9,399.27 447.5,399.39 448.1,398.87 448.7,398.43 449.3,397.73 449.9,399.03 450.5,397.85 451.1,398.81 451.7,399.15 452.3,398.41 452.9,398.61 453.5,399.19 454.1,399.23 454.7,398.93 455.3,399.22 455.9,399.05 456.5,398.33 457.1,398.42 457.7,397.6 458.3,399.06 458.9,398.83 459.5,398.96 460.1,399.2 460.7,398.77 461.3,399.4 461.9,397.82 462.5,398.82 463.1,398.15 463.7,398.58 464.3,399.06 464.9,399.19 465.5,398.96 466.1,397.72 466.7,398.15 467.3,399.06 467.9,397.83 468.5,397 469.1,397.37 469.7,399.24 470.3,399.17 470.9,398.67 471.5,399.07 472.1,398.05 472.7,399.01 473.3,398.35 473.9,399.16 474.5,399.12 475.1,397.9 475.7,398.49 476.3,399.01 476.9,397.94 477.5,397.95 478.1,399.32 478.7,398.84 479.3,398.76 479.9,397.61 480.5,398.82 481.1,399.46 481.7,399.45 482.3,398.67 482.9,398.91 483.5,398.81 484.1,399.35 484.7,399.25 485.3,398.7 485.9,398.42 486.5,399.02 487.1,398.19 487.7,398.39 488.3,398.88 488.9,399.28 489.5,399.02 490.1,398.57 490.7,398.71 491.3,398.03 491.9,398.35 492.5,399.09 493.1,398.33 493.7,397.92 494.3,398.35 494.9,399.19 495.5,399.07 496.1,396.94 496.7,397.05 497.3,399.5 497.9,398.76 498.5,398.62 499.1,397.44 499.7,397.57 500.3,399.42 500.9,398.47 501.5,398.78 502.1,398.61 502.7,399.37 503.3,399.24 503.9,399.16 504.5,399.19 505.1,399.25 505.7,397.71 506.3,397.78 506.9,397.26 507.5,398.71 508.1,396.7 508.7,399.32 509.3,398.93 509.9,397.69 510.5,398.88 511.1,398.27 511.7,399 512.3,398.55 512.9,399.09 513.5,398.61 514.1,399.06 514.7,399.38 515.3,399.44 515.9,398.17 516.5,399.45 517.1,399.46 517.7,399.37 518.3,398.83 518.9,397.11 519.5,399.4 520.1,399.34 520.7,399.32 521.3,398.62 521.9,399.04 522.5,398.97 523.1,399.23 523.7,399.32 524.3,398.37 524.9,397.36 525.5,398.19 526.1,399.04 526.7,398.55 527.3,399.44 527.9,398 528.5,398.69 529.1,399.06 529.7,397.47 530.3,398.22 530.9,399.16 531.5,398.38 532.1,399.48 532.7,398.5 533.3,398.51 533.9,398.34 534.5,399.23 535.1,399.13 535.7,399.11 536.3,399.45 536.9,398.15 537.5,399.12 538.1,398.46 538.7,398.3 539.3,399.05 539.9,398.86 540.5,398.59 541.1,398.59 541.7,399.36 542.3,398.74 542.9,398.61 543.5,399.23 544.1,399.08 544.7,399.33 545.3,399.32 545.9,398.47 546.5,396.67 547.1,397.55 547.7,399.36 548.3,399.33 548.9,398.77 549.5,398.91 550.1,399.26 550.7,399.3 551.3,399 551.9,396.98 552.5,397.99 553.1,398.46 553.7,398.27 554.3,398.86 554.9,399.37 555.5,399.06 556.1,398.47 556.7,398.77 557.3,399.18 557.9,399.47 558.5,398.47 559.1,399.26 559.7,396.93 560.3,399.15 560.9,399.1 561.5,399.5 562.1,399.09 562.7,399.15 563.3,399.02 563.9,398.33 564.5,399.14 565.1,399.4 565.7,398.09 566.3,398.89 566.9,398.79 567.5,399.4 568.1,398.42 568.7,399.1 569.3,399.31 569.9,397.99 570.5,399.34 571.1,399.06 571.7,398.86 572.3,399.32 572.9,398.88 573.5,398.31 574.1,397.93 574.7,399.13 575.3,399.15 575.9,399.1 576.5,397.32 577.1,398.24 577.7,397.99 578.3,399.48 578.9,397.74 579.5,399.16 580.1,399.25 580.7,399.36 581.3,399.39 581.9,399.45 582.5,399.48 583.1,399.45 583.7,399.03 584.3,398.94 584.9,397.61 585.5,399.41 586.1,398.77 586.7,398.6 587.3,398.99 587.9,399.1 587.9,406.62 587.3,408.08 586.7,406.95 586.1,406.31 585.5,407.46 584.9,406.53 584.3,406.98 583.7,407.22 583.1,407.05 582.5,406.37 581.9,407.28 581.3,406.3 580.7,406.45 580.1,407.74 579.5,406.65 578.9,406.52 578.3,406.33 577.7,407.19 577.1,406.97 576.5,406.55 575.9,407.48 575.3,406.32 574.7,406.99 574.1,408.02 573.5,407.91 572.9,406.79 572.3,407.58 571.7,407.53 571.1,407.84 570.5,407.67 569.9,406.78 569.3,406.78 568.7,406.51 568.1,407.01 567.5,407.6 566.9,408.11 566.3,408.3 565.7,407.15 565.1,407.2 564.5,407.46 563.9,406.32 563.3,406.51 562.7,406.33 562.1,407.12 561.5,407.02 560.9,406.39 560.3,408.56 559.7,407.74 559.1,408.08 558.5,406.41 557.9,406.35 557.3,406.7 556.7,406.37 556.1,407.87 555.5,406.34 554.9,406.79 554.3,407.94 553.7,407.34 553.1,406.33 552.5,407.35 551.9,407.44 551.3,407.08 550.7,406.34 550.1,408.54 549.5,406.93 548.9,407.61 548.3,406.51 547.7,407.85 547.1,407.39 546.5,407.45 545.9,406.46 545.3,407.28 544.7,406.75 544.1,407.61 543.5,406.3 542.9,408.17 542.3,406.32 541.7,408.03 541.1,407.16 540.5,406.53 539.9,407.11 539.3,406.8 538.7,406.51 538.1,406.54 537.5,406.3 536.9,406.94 536.3,407.71 535.7,407.37 535.1,406.34 534.5,407.18 533.9,407.94 533.3,406.7 532.7,406.3 532.1,407.83 531.5,407.5 530.9,406.93 530.3,406.34 529.7,406.96 529.1,407.33 528.5,406.97 527.9,406.56 527.3,407.43 526.7,407.29 526.1,407.14 525.5,407.32 524.9,406.95 524.3,407.14 523.7,406.91 523.1,407.14 522.5,407.16 521.9,407.34 521.3,406.38 520.7,407.36 520.1,406.75 519.5,406.68 518.9,407.77 518.3,406.61 517.7,406.45 517.1,407.65 516.5,406.39 515.9,407.88 515.3,408.11 514.7,406.82 514.1,406.31 513.5,406.88 512.9,407.25 512.3,406.81 511.7,406.55 511.1,406.49 510.5,408.18 509.9,407 509.3,407.16 508.7,407.78 508.1,406.63 507.5,406.46 506.9,406.73 506.3,406.76 505.7,406.33 505.1,406.62 504.5,407.17 503.9,406.49 503.3,406.67 502.7,407.86 502.1,407.28 501.5,406.56 500.9,406.42 500.3,408.15 499.7,406.97 499.1,407.39 498.5,406.65 497.9,406.56 497.3,406.53 496.7,406.85 496.1,408.91 495.5,406.48 494.9,409.16 494.3,406.78 493.7,407.3 493.1,408.62 492.5,407.05 491.9,408.16 491.3,407.55 490.7,407.4 490.1,406.34 489.5,406.35 488.9,407.92 488.3,406.35 487.7,407.76 487.1,407.88 486.5,406.73 485.9,406.58 485.3,406.48 484.7,407.4 484.1,407.82 483.5,406.78 482.9,407.44 482.3,406.45 481.7,406.64 481.1,406.51 480.5,406.48 479.9,406.47 479.3,407.05 478.7,406.95 478.1,406.65 477.5,406.74 476.9,408.54 476.3,407.57 475.7,406.69 475.1,407.33 474.5,406.43 473.9,407 473.3,406.9 472.7,406.44 472.1,406.35 471.5,407.17 470.9,407.65 470.3,406.76 469.7,407.43 469.1,406.4 468.5,406.76 467.9,406.99 467.3,407.3 466.7,407.86 466.1,406.45 465.5,407.83 464.9,407.78 464.3,408.8 463.7,406.98 463.1,407.27 462.5,407.32 461.9,406.63 461.3,406.87 460.7,406.35 460.1,406.44 459.5,407.74 458.9,407.56 458.3,406.63 457.7,407.5 457.1,406.98 456.5,406.71 455.9,407.44 455.3,406.36 454.7,406.63 454.1,407.11 453.5,408.36 452.9,406.62 452.3,407.59 451.7,407.25 451.1,406.93 450.5,406.44 449.9,407.04 449.3,406.75 448.7,407.85 448.1,406.96 447.5,407.83 446.9,406.81 446.3,408.28 445.7,408.01 445.1,406.41 444.5,407.22 443.9,407.47 443.3,406.82 442.7,407.57 442.1,407.53 441.5,408 440.9,408.34 440.3,406.71 439.7,406.63 439.1,407.14 438.5,406.6 437.9,406.75 437.3,407.04 436.7,406.62 436.1,407.94 435.5,406.74 434.9,408.18 434.3,406.81 433.7,407.36 433.1,406.4 432.5,406.79 431.9,406.99 431.3,406.83 430.7,406.4 430.1,406.96 429.5,406.64 428.9,406.34 428.3,407.36 427.7,406.9 427.1,407.2" fill="#72e038"/>
<polygon points="427.1,399.53 427.7,399.91 428.3,399.64 428.9,399.72 429.5,400.14 430.1,399.16 430.7,399.44 431.3,399.39 431.9,400.04 432.5,399.93 433.1,399.82 433.7,399.27 434.3,400.25 434.9,400.1 435.5,400.1 436.1,400.19 436.7,399.98 437.3,399.76 437.9,399.14 438.5,400.29 439.1,399.94 439.7,400.28 440.3,399.81 440.9,399.64 441.5,399.94 442.1,399.68 442.7,400.04 443.3,399.56 443.9,399.4 444.5,400.25 445.1,399.76 445.7,399.73 446.3,399.64 446.9,399.35 447.5,400.21 448.1,400.12 448.7,398.76 449.3,400.27 449.9,399.71 450.5,400.18 451.1,400.13 451.7,399.67 452.3,400.04 452.9,398.09 453.5,400.16 454.1,399.96 454.7,399.69 455.3,400.21 455.9,399.57 456.5,400.2 457.1,400.07 457.7,399.99 458.3,399.89 458.9,399.72 459.5,400.22 460.1,398.82 460.7,400.19 461.3,399.88 461.9,399.23 462.5,399.98 463.1,400.14 463.7,399.82 464.3,399.67 464.9,398.93 465.5,399.79 466.1,400.04 466.7,398.83 467.3,399.53 467.9,399.39 468.5,399.7 469.1,400.02 469.7,399.97 470.3,399.97 470.9,400.21 471.5,400 472.1,400.04 472.7,399.75 473.3,400.1 473.9,400.22 474.5,399.87 475.1,400.03 475.7,399.77 476.3,400.28 476.9,400.11 477.5,399.67 478.1,399.23 478.7,399.9 479.3,400.02 479.9,400.19 480.5,400.18 481.1,399.38 481.7,399.53 482.3,399.14 482.9,400.07 483.5,399.83 484.1,399.72 484.7,399.98 485.3,400.15 485.9,399.89 486.5,399.04 487.1,400.07 487.7,399.8 488.3,400.26 488.9,400.03 489.5,398.73 490.1,399.8 490.7,399.78 491.3,399.25 491.9,400.11 492.5,400.21 493.1,400.09 493.7,400.3 494.3,399.92 494.9,399.99 495.5,400.06 496.1,399.77 496.7,399.75 497.3,400.27 497.9,399.56 498.5,399.65 499.1,399.8 499.7,399.85 500.3,400.09 500.9,399.86 501.5,399.27 502.1,399.12 502.7,399.55 503.3,400.25 503.9,399.49 504.5,399.99 505.1,399.73 505.7,399.46 506.3,400.22 506.9,399.84 507.5,400.19 508.1,399.49 508.7,399.69 509.3,400.25 509.9,399.65 510.5,400.2 511.1,399.98 511.7,400.16 512.3,399.94 512.9,400.08 513.5,399.34 514.1,399.91 514.7,399.22 515.3,399.87 515.9,398.73 516.5,400.06 517.1,399.84 517.7,399.37 518.3,399.59 518.9,399.98 519.5,400.01 520.1,399.96 520.7,400.27 521.3,399.88 521.9,400.23 522.5,400.02 523.1,399.63 523.7,399.88 524.3,399.54 524.9,399.13 525.5,400.07 526.1,399.45 526.7,399.99 527.3,400.09 527.9,400.06 528.5,400.21 529.1,399.46 529.7,399.08 530.3,399.03 530.9,399.59 531.5,400.17 532.1,399.66 532.7,399.74 533.3,400.03 533.9,399.62 534.5,399.39 535.1,400.17 535.7,400.05 536.3,399.89 536.9,399.66 537.5,399.88 538.1,400 538.7,399.68 539.3,399.82 539.9,399.23 540.5,399.63 541.1,399.73 541.7,400.1 542.3,399.56 542.9,400.28 543.5,399.59 544.1,399.5 544.7,400.1 545.3,399.96 545.9,400.13 546.5,400.12 547.1,399.82 547.7,399.45 548.3,399.22 548.9,398.94 549.5,400.05 550.1,400.19 550.7,399.56 551.3,399.73 551.9,399.89 552.5,400.13 553.1,400.2 553.7,400.21 554.3,399.92 554.9,400.18 555.5,400.08 556.1,400.19 556.7,400.21 557.3,399.09 557.9,400.27 558.5,400.06 559.1,399.42 559.7,399.92 560.3,400.19 560.9,399.87 561.5,399.65 562.1,400.13 562.7,399.73 563.3,399.75 563.9,398.38 564.5,399.57 565.1,399.66 565.7,400.08 566.3,399.82 566.9,400.27 567.5,399.92 568.1,400.25 568.7,400.28 569.3,400.15 569.9,399.65 570.5,399.55 571.1,400.13 571.7,399.73 572.3,399.61 572.9,400.28 573.5,400.04 574.1,399.11 574.7,399.83 575.3,400.02 575.9,400.15 576.5,398.8 577.1,400.26 577.7,400.07 578.3,399.2 578.9,400.16 579.5,399.48 580.1,399.82 580.7,399.73 581.3,399.44 581.9,400.26 582.5,400.14 583.1,400.17 583.7,399.16 584.3,399.85 584.9,399.91 585.5,400.16 586.1,399.39 586.7,399.74 587.3,399.2 587.9,399.93 587.9,406.91 587.3,405.72 586.7,406.35 586.1,405.87 585.5,405.66 584.9,405.57 584.3,406.01 583.7,406.09 583.1,405.7 582.5,406.35 581.9,405.57 581.3,406.44 580.7,405.96 580.1,405.91 579.5,405.76 578.9,405.68 578.3,405.88 577.7,406.87 577.1,406.07 576.5,405.52 575.9,405.68 575.3,405.53 574.7,405.59 574.1,405.99 573.5,405.98 572.9,405.93 572.3,405.65 571.7,406.21 571.1,405.66 570.5,405.55 569.9,406.14 569.3,405.68 568.7,406.12 568.1,406.65 567.5,406.15 566.9,405.97 566.3,406.16 565.7,406.56 565.1,406.49 564.5,405.98 563.9,405.99 563.3,405.58 562.7,406.01 562.1,406.18 561.5,405.8 560.9,406.59 560.3,405.8 559.7,405.55 559.1,405.6 558.5,406.3 557.9,405.69 557.3,405.6 556.7,405.74 556.1,406.53 555.5,407.09 554.9,405.69 554.3,406.08 553.7,405.92 553.1,406.12 552.5,406.15 551.9,406.28 551.3,405.9 550.7,405.57 550.1,405.85 549.5,405.51 548.9,405.88 548.3,406.05 547.7,406.08 547.1,406.22 546.5,405.54 545.9,405.8 545.3,405.67 544.7,405.7 544.1,405.74 543.5,405.8 542.9,405.57 542.3,406.44 541.7,406.01 541.1,405.85 540.5,406.36 539.9,406.05 539.3,406.31 538.7,405.92 538.1,405.58 537.5,406.2 536.9,405.65 536.3,406.08 535.7,406.27 535.1,405.58 534.5,405.95 533.9,405.54 533.3,406.29 532.7,405.51 532.1,405.77 531.5,406.16 530.9,405.64 530.3,405.95 529.7,406.1 529.1,405.67 528.5,405.95 527.9,405.64 527.3,406.38 526.7,405.98 526.1,405.83 525.5,405.99 524.9,405.68 524.3,405.87 523.7,405.67 523.1,406.61 522.5,405.86 521.9,406.2 521.3,405.59 520.7,406.22 520.1,405.86 519.5,406.11 518.9,406.25 518.3,405.59 517.7,405.66 517.1,405.76 516.5,405.79 515.9,406.33 515.3,405.97 514.7,405.97 514.1,405.72 513.5,406.71 512.9,406.22 512.3,405.78 511.7,405.7 511.1,405.78 510.5,406.22 509.9,406.01 509.3,405.54 508.7,405.97 508.1,406.19 507.5,406.7 506.9,405.58 506.3,405.51 505.7,406.33 505.1,406.1 504.5,405.78 503.9,405.52 503.3,406.18 502.7,406.25 502.1,405.73 501.5,406.69 500.9,405.65 500.3,405.7 499.7,406.31 499.1,405.68 498.5,405.96 497.9,405.57 497.3,405.65 496.7,405.6 496.1,405.77 495.5,405.58 494.9,405.8 494.3,405.69 493.7,406.13 493.1,405.67 492.5,405.51 491.9,405.95 491.3,405.62 490.7,405.9 490.1,405.92 489.5,405.56 488.9,405.68 488.3,406.49 487.7,405.92 487.1,405.52 486.5,406.01 485.9,406.56 485.3,406.23 484.7,405.56 484.1,405.83 483.5,406.05 482.9,405.88 482.3,405.88 481.7,405.73 481.1,406.26 480.5,406.21 479.9,406.85 479.3,405.56 478.7,406.06 478.1,406.04 477.5,406.55 476.9,405.5 476.3,405.84 475.7,405.93 475.1,406.12 474.5,405.86 473.9,405.79 473.3,406.43 472.7,405.78 472.1,406.54 471.5,405.54 470.9,406.19 470.3,405.76 469.7,405.85 469.1,406.81 468.5,406.11 467.9,405.9 467.3,405.67 466.7,405.84 466.1,405.98 465.5,406.13 464.9,406.21 464.3,405.64 463.7,405.85 463.1,406.05 462.5,405.51 461.9,405.55 461.3,406.4 460.7,406.05 460.1,406.08 459.5,405.59 458.9,405.61 458.3,406.08 457.7,406.07 457.1,405.52 456.5,405.76 455.9,405.64 455.3,405.61 454.7,405.74 454.1,406.11 453.5,405.95 452.9,405.64 452.3,406.43 451.7,405.54 451.1,406.43 450.5,406.54 449.9,405.77 449.3,405.92 448.7,405.9 448.1,406.34 447.5,406.24 446.9,407 446.3,405.85 445.7,405.7 445.1,405.6 444.5,406.3 443.9,406 443.3,405.83 442.7,405.54 442.1,405.9 441.5,405.72 440.9,406.07 440.3,405.76 439.7,405.84 439.1,405.58 438.5,405.91 437.9,405.68 437.3,406.16 436.7,405.87 436.1,405.87 435.5,405.69 434.9,405.89 434.3,406.28 433.7,406.45 433.1,406.53 432.5,406.63 431.9,405.99 431.3,405.97 430.7,406.48 430.1,405.62 429.5,405.66 428.9,406.1 428.3,406.11 427.7,405.85 427.1,405.51" fill="#3a7a16"/>
<text x="507.75" y="432.4" font-size="8.6" text-anchor="middle" font-family="'Liberation Sans', sans-serif" fill="#0a0a0a">Time (ns)</text>
<text x="397.5" y="315.2" font-size="8.6" text-anchor="middle" font-family="'Liberation Sans', sans-serif" fill="#0a0a0a" transform="rotate(-90 397.5 315.2)">Fluorescence Intensity (Counts)</text>
<text x="412.7" y="400.2" font-size="8.6" text-anchor="middle" font-family="'Liberation Sans', sans-serif" fill="#0a0a0a" transform="rotate(-90 412.7 400.2)">Res.</text>
<rect x="475.2" y="346.9" width="4.4" height="4.4" fill="#e0f8b8"/>
<text x="487.1" y="352.7" font-size="10" font-weight="bold" text-anchor="start" font-family="'Liberation Sans', sans-serif" fill="#111">Donor with Msh4-Msh5</text>
<circle cx="477.4" cy="362.2" r="2.4" fill="#7ee84c"/>
<text x="487.1" y="365.8" font-size="10" font-weight="bold" text-anchor="start" font-family="'Liberation Sans', sans-serif" fill="#111">DA</text>
<path d="M477.4,372.4 L480.2,377.2 L474.6,377.2 Z" fill="#2e7a1c"/>
<text x="487.1" y="378.6" font-size="10" font-weight="bold" text-anchor="start" font-family="'Liberation Sans', sans-serif" fill="#111">DA with Msh4-Msh5</text>
<path d="M639.3,325.27 C639.77,324.66 640.95,321.78 642.1,321.61 C643.25,321.44 644.79,322.45 646.18,324.26 C647.57,326.07 649.03,328.85 650.42,332.46 C651.81,336.06 653.15,341.42 654.5,345.89 C655.85,350.36 657.13,355.31 658.5,359.26 C659.87,363.21 661.01,366.33 662.74,369.6 C664.47,372.87 666.83,376.13 668.9,378.87 C670.97,381.61 673.27,384.13 675.14,386.06 C677.01,387.99 678.47,389.17 680.1,390.47 C681.73,391.78 683.3,392.98 684.9,393.88 C686.5,394.78 688.06,394.99 689.7,395.9 C691.34,396.8 693.09,398.32 694.74,399.3 C696.39,400.29 697.18,400.92 699.62,401.83 C702.06,402.73 706.1,403.96 709.38,404.73 C712.66,405.49 716.05,405.99 719.3,406.43 C722.55,406.87 725.43,407.12 728.9,407.38 C732.37,407.63 736.37,407.81 740.1,407.94 C743.83,408.08 749.43,408.15 751.3,408.2" fill="none" stroke="#d4f6a0" stroke-width="1.2" stroke-linejoin="round" stroke-linecap="round"/>
<path d="M639.3,345.89 C639.77,345.37 640.77,342.28 642.1,342.8 C643.43,343.31 645.58,346.24 647.3,348.98 C649.02,351.72 650.7,355.99 652.42,359.26 C654.14,362.53 655.9,365.84 657.62,368.59 C659.34,371.35 660.86,373.2 662.74,375.78 C664.62,378.37 666.83,382.04 668.9,384.11 C670.97,386.18 673.27,387.24 675.14,388.2 C677.01,389.17 678.61,389.46 680.1,389.91 C681.59,390.36 682.5,390.41 684.1,390.92 C685.7,391.42 688.77,392.6 689.7,392.93" fill="none" stroke="#82e850" stroke-width="1.5" stroke-linejoin="round" stroke-linecap="round" stroke-dasharray="5,3"/>
<path d="M639.3,357.68 C639.77,357.34 640.77,355.43 642.1,355.6 C643.43,355.77 645.58,356.79 647.3,358.69 C649.02,360.59 650.55,363.92 652.42,367.02 C654.29,370.12 656.42,374.38 658.5,377.29 C660.58,380.21 662.82,382.6 664.9,384.48 C666.98,386.37 668.93,387.48 670.98,388.58 C673.03,389.69 675.43,390.46 677.22,391.11 C679.01,391.75 680.29,392.15 681.7,392.43 C683.11,392.71 684.37,392.7 685.7,392.81 C687.03,392.91 688.19,392.63 689.7,393.06 C691.21,393.49 693.09,394.5 694.74,395.39 C696.39,396.29 697.99,397.51 699.62,398.42 C701.25,399.34 702.87,400.13 704.5,400.88 C706.13,401.63 707.74,402.34 709.38,402.9 C711.02,403.46 712.69,403.8 714.34,404.22 C715.99,404.64 716.83,404.96 719.3,405.42 C721.77,405.88 725.87,406.62 729.14,407 C732.41,407.38 735.21,407.49 738.9,407.69 C742.59,407.89 749.23,408.11 751.3,408.2" fill="none" stroke="#2e7a1e" stroke-width="1.6" stroke-linejoin="round" stroke-linecap="round"/>
<line x1="638.2" y1="307.8" x2="638.2" y2="409.2" stroke="#262626" stroke-width="1"/>
<line x1="637.7" y1="408.7" x2="751.8" y2="408.7" stroke="#262626" stroke-width="1"/>
<line x1="635.6" y1="408.7" x2="638.2" y2="408.7" stroke="#262626" stroke-width="0.8"/>
<text x="635.3" y="411.05" font-size="6.6" text-anchor="end" font-family="'Liberation Sans', sans-serif" fill="#0a0a0a" textLength="3.16" lengthAdjust="spacingAndGlyphs">0</text>
<line x1="636.7" y1="402.39" x2="638.2" y2="402.39" stroke="#262626" stroke-width="0.7"/>
<line x1="635.6" y1="396.09" x2="638.2" y2="396.09" stroke="#262626" stroke-width="0.8"/>
<text x="635.3" y="398.44" font-size="6.6" text-anchor="end" font-family="'Liberation Sans', sans-serif" fill="#0a0a0a" textLength="6.31" lengthAdjust="spacingAndGlyphs">20</text>
<line x1="636.7" y1="389.78" x2="638.2" y2="389.78" stroke="#262626" stroke-width="0.7"/>
<line x1="635.6" y1="383.48" x2="638.2" y2="383.48" stroke="#262626" stroke-width="0.8"/>
<text x="635.3" y="385.83" font-size="6.6" text-anchor="end" font-family="'Liberation Sans', sans-serif" fill="#0a0a0a" textLength="6.31" lengthAdjust="spacingAndGlyphs">40</text>
<line x1="636.7" y1="377.17" x2="638.2" y2="377.17" stroke="#262626" stroke-width="0.7"/>
<line x1="635.6" y1="370.86" x2="638.2" y2="370.86" stroke="#262626" stroke-width="0.8"/>
<text x="635.3" y="373.21" font-size="6.6" text-anchor="end" font-family="'Liberation Sans', sans-serif" fill="#0a0a0a" textLength="6.31" lengthAdjust="spacingAndGlyphs">60</text>
<line x1="636.7" y1="364.56" x2="638.2" y2="364.56" stroke="#262626" stroke-width="0.7"/>
<line x1="635.6" y1="358.25" x2="638.2" y2="358.25" stroke="#262626" stroke-width="0.8"/>
<text x="635.3" y="360.6" font-size="6.6" text-anchor="end" font-family="'Liberation Sans', sans-serif" fill="#0a0a0a" textLength="6.31" lengthAdjust="spacingAndGlyphs">80</text>
<line x1="636.7" y1="351.94" x2="638.2" y2="351.94" stroke="#262626" stroke-width="0.7"/>
<line x1="635.6" y1="345.64" x2="638.2" y2="345.64" stroke="#262626" stroke-width="0.8"/>
<text x="635.3" y="347.99" font-size="6.6" text-anchor="end" font-family="'Liberation Sans', sans-serif" fill="#0a0a0a" textLength="9.47" lengthAdjust="spacingAndGlyphs">100</text>
<line x1="636.7" y1="339.33" x2="638.2" y2="339.33" stroke="#262626" stroke-width="0.7"/>
<line x1="635.6" y1="333.02" x2="638.2" y2="333.02" stroke="#262626" stroke-width="0.8"/>
<text x="635.3" y="335.38" font-size="6.6" text-anchor="end" font-family="'Liberation Sans', sans-serif" fill="#0a0a0a" textLength="9.47" lengthAdjust="spacingAndGlyphs">120</text>
<line x1="636.7" y1="326.72" x2="638.2" y2="326.72" stroke="#262626" stroke-width="0.7"/>
<line x1="635.6" y1="320.41" x2="638.2" y2="320.41" stroke="#262626" stroke-width="0.8"/>
<text x="635.3" y="322.76" font-size="6.6" text-anchor="end" font-family="'Liberation Sans', sans-serif" fill="#0a0a0a" textLength="9.47" lengthAdjust="spacingAndGlyphs">140</text>
<line x1="636.7" y1="314.11" x2="638.2" y2="314.11" stroke="#262626" stroke-width="0.7"/>
<line x1="635.6" y1="307.8" x2="638.2" y2="307.8" stroke="#262626" stroke-width="0.8"/>
<text x="635.3" y="310.15" font-size="6.6" text-anchor="end" font-family="'Liberation Sans', sans-serif" fill="#0a0a0a" textLength="9.47" lengthAdjust="spacingAndGlyphs">160</text>
<line x1="647.3" y1="408.7" x2="647.3" y2="411.1" stroke="#262626" stroke-width="0.8"/>
<text x="647.3" y="417.9" font-size="7" text-anchor="middle" font-family="'Liberation Sans', sans-serif" fill="#0a0a0a" textLength="9.81" lengthAdjust="spacingAndGlyphs">520</text>
<line x1="655.3" y1="408.7" x2="655.3" y2="410.2" stroke="#262626" stroke-width="0.8"/>
<line x1="663.3" y1="408.7" x2="663.3" y2="411.1" stroke="#262626" stroke-width="0.8"/>
<text x="663.3" y="417.9" font-size="7" text-anchor="middle" font-family="'Liberation Sans', sans-serif" fill="#0a0a0a" textLength="9.81" lengthAdjust="spacingAndGlyphs">540</text>
<line x1="671.3" y1="408.7" x2="671.3" y2="410.2" stroke="#262626" stroke-width="0.8"/>
<line x1="679.3" y1="408.7" x2="679.3" y2="411.1" stroke="#262626" stroke-width="0.8"/>
<text x="679.3" y="417.9" font-size="7" text-anchor="middle" font-family="'Liberation Sans', sans-serif" fill="#0a0a0a" textLength="9.81" lengthAdjust="spacingAndGlyphs">560</text>
<line x1="687.3" y1="408.7" x2="687.3" y2="410.2" stroke="#262626" stroke-width="0.8"/>
<line x1="695.3" y1="408.7" x2="695.3" y2="411.1" stroke="#262626" stroke-width="0.8"/>
<text x="695.3" y="417.9" font-size="7" text-anchor="middle" font-family="'Liberation Sans', sans-serif" fill="#0a0a0a" textLength="9.81" lengthAdjust="spacingAndGlyphs">580</text>
<line x1="703.3" y1="408.7" x2="703.3" y2="410.2" stroke="#262626" stroke-width="0.8"/>
<line x1="711.3" y1="408.7" x2="711.3" y2="411.1" stroke="#262626" stroke-width="0.8"/>
<text x="711.3" y="417.9" font-size="7" text-anchor="middle" font-family="'Liberation Sans', sans-serif" fill="#0a0a0a" textLength="9.81" lengthAdjust="spacingAndGlyphs">600</text>
<line x1="719.3" y1="408.7" x2="719.3" y2="410.2" stroke="#262626" stroke-width="0.8"/>
<line x1="727.3" y1="408.7" x2="727.3" y2="411.1" stroke="#262626" stroke-width="0.8"/>
<text x="727.3" y="417.9" font-size="7" text-anchor="middle" font-family="'Liberation Sans', sans-serif" fill="#0a0a0a" textLength="9.81" lengthAdjust="spacingAndGlyphs">620</text>
<line x1="735.3" y1="408.7" x2="735.3" y2="410.2" stroke="#262626" stroke-width="0.8"/>
<line x1="743.3" y1="408.7" x2="743.3" y2="411.1" stroke="#262626" stroke-width="0.8"/>
<text x="743.3" y="417.9" font-size="7" text-anchor="middle" font-family="'Liberation Sans', sans-serif" fill="#0a0a0a" textLength="9.81" lengthAdjust="spacingAndGlyphs">640</text>
<line x1="751.3" y1="408.7" x2="751.3" y2="410.2" stroke="#262626" stroke-width="0.8"/>
<text x="695.8" y="430.6" font-size="8.1" text-anchor="middle" font-family="'Liberation Sans', sans-serif" fill="#0a0a0a">Wavelength (nm)</text>
<text x="612.3" y="359.9" font-size="8.5" text-anchor="middle" font-family="'Liberation Sans', sans-serif" fill="#0a0a0a" transform="rotate(-90 612.3 359.9)">Fluorescence Intensity</text>
<text x="622.8" y="357.2" font-size="8.5" letter-spacing="0.32" text-anchor="middle" font-family="'Liberation Sans', sans-serif" fill="#0a0a0a" transform="rotate(-90 622.8 357.2)">(CPS/1X10<tspan font-size="7" dy="-2.9">5</tspan><tspan dy="2.9">)</tspan></text>
<rect x="696.2" y="310.8" width="25.3" height="49.5" rx="1" fill="#e6e6e6" stroke="#151515" stroke-width="1.3"/>
<rect x="699.3" y="351.1" width="8.6" height="4" rx="2" fill="#050505" filter="url(#bl)"/>
<rect x="711" y="316.1" width="8.2" height="3.8" rx="1.9" fill="#050505" filter="url(#bl)"/>
<text x="700.3" y="308.5" font-size="7.8" font-weight="bold" text-anchor="start" font-family="'Liberation Sans', sans-serif" fill="#0a0a0a" transform="rotate(-43 700.3 308.5)">DNA</text>
<text x="714.4" y="308.1" font-size="7.6" font-weight="bold" text-anchor="start" font-family="'Liberation Sans', sans-serif" fill="#0a0a0a" transform="rotate(-43 714.4 308.1)">P:D (1:1)</text>
<polyline points="521.2,268.9 532.2,268.9 535.5,263.6 554.5,263.6 558,268.9 568,268.9" fill="none" stroke="#4ea43e" stroke-width="2.3" stroke-linejoin="miter"/>
<polyline points="540.4,268.9 552,268.9 561.1,257.4" fill="none" stroke="#4ea43e" stroke-width="2.3" stroke-linejoin="miter"/>
<polyline points="521.9,275.7 568.6,275.7" fill="none" stroke="#4ea43e" stroke-width="2.3" stroke-linejoin="miter"/>
<path d="M561.1,257.4 C563.83,257.44 565.01,255.76 564.05,253.2 S564.27,248.96 567,249" fill="none" stroke="#222" stroke-width="0.7"/>
<path d="M568.6,275.7 C568.95,277.78 570.39,278.44 572.2,277.35 S575.45,276.92 575.8,279" fill="none" stroke="#222" stroke-width="0.7"/>
<circle cx="568" cy="243.3" r="5.6" fill="#f4f22e"/>
<text x="568" y="246.6" font-size="9.4" font-weight="bold" text-anchor="middle" font-family="'Liberation Serif', serif" fill="#0a0a0a">D</text>
<circle cx="581.3" cy="278.5" r="5.8" fill="#d412ea"/>
<text x="581.3" y="281.8" font-size="9.4" font-weight="bold" text-anchor="middle" font-family="'Liberation Serif', serif" fill="#0a0a0a">A</text>
<line x1="590" y1="243.7" x2="590" y2="278.1" stroke="#4a4a4a" stroke-width="0.85" stroke-dasharray="1.4,1.0"/>
<polyline points="588.46,245.9 590,243.7 591.54,245.9" fill="none" stroke="#4a4a4a" stroke-width="0.7"/>
<polyline points="588.46,275.9 590,278.1 591.54,275.9" fill="none" stroke="#4a4a4a" stroke-width="0.7"/>
<line x1="602.2" y1="272.3" x2="621.6" y2="272.3" stroke="#111" stroke-width="1.5"/>
<path d="M600.7,272.3 l3.2,-1.9 v3.8 Z M623.1,272.3 l-3.2,-1.9 v3.8 Z" fill="#111"/>
<path d="M668.3,252.9 C654.57,260.3 654.57,275.1 668.3,282.5 C666.1,273.62 666.1,261.78 668.3,252.9 Z" fill="#c6c6c6" stroke="#8c8c8c" stroke-width="0.5"/>
<polyline points="632.6,269.4 642.9,269.4 646.3,263.9 666.3,263.9 670,269.4 680,269.4" fill="none" stroke="#4ea43e" stroke-width="2.3" stroke-linejoin="miter"/>
<polyline points="651.8,269.6 667,269.6 678.6,263.2" fill="none" stroke="#4ea43e" stroke-width="2.3" stroke-linejoin="miter"/>
<polyline points="633.3,275.6 680,275.6" fill="none" stroke="#4ea43e" stroke-width="2.3" stroke-linejoin="miter"/>
<path d="M668.3,252.9 C681.23,253.49 681.23,268.29 668.3,282.5 C670.9,273.62 670.9,261.78 668.3,252.9 Z" fill="#5a5a5a" fill-opacity="0.88" stroke="#444" stroke-width="0.4"/>
<path d="M678.6,263.2 C680.54,263.78 681.72,262.82 681.55,260.8 S682.56,257.82 684.5,258.4" fill="none" stroke="#222" stroke-width="0.7"/>
<path d="M680,275.6 C680.33,277.83 681.85,278.57 683.8,277.45 S687.27,277.07 687.6,279.3" fill="none" stroke="#222" stroke-width="0.7"/>
<circle cx="689.6" cy="258.4" r="5.3" fill="#f4f22e"/>
<text x="689.6" y="261.7" font-size="9.4" font-weight="bold" text-anchor="middle" font-family="'Liberation Serif', serif" fill="#0a0a0a">D</text>
<circle cx="693.1" cy="279.3" r="5.6" fill="#d412ea"/>
<text x="693.1" y="282.6" font-size="9.4" font-weight="bold" text-anchor="middle" font-family="'Liberation Serif', serif" fill="#0a0a0a">A</text>
<text x="651.3" y="248.6" font-size="7.5" font-weight="bold" text-anchor="middle" font-family="'Liberation Serif', serif" fill="#111">Msh4</text>
<text x="687.2" y="249.7" font-size="7.5" font-weight="bold" text-anchor="middle" font-family="'Liberation Serif', serif" fill="#111">Msh5</text>
<line x1="703.1" y1="259.8" x2="703.1" y2="277.6" stroke="#4a4a4a" stroke-width="0.85" stroke-dasharray="1.4,1.0"/>
<polyline points="701.56,262 703.1,259.8 704.64,262" fill="none" stroke="#4a4a4a" stroke-width="0.7"/>
<polyline points="701.56,275.4 703.1,277.6 704.64,275.4" fill="none" stroke="#4a4a4a" stroke-width="0.7"/>
</svg>
</body></html>
